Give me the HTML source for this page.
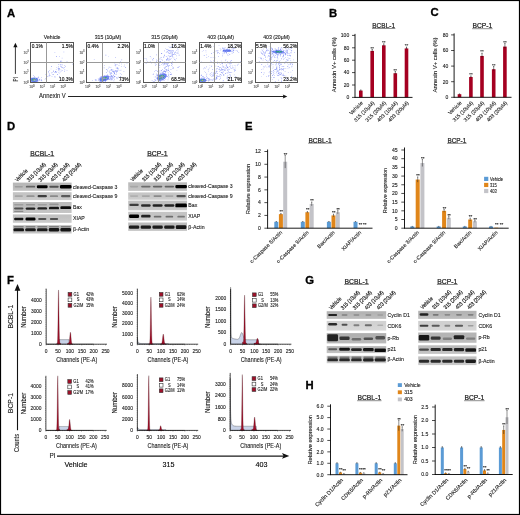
<!DOCTYPE html>
<html><head><meta charset="utf-8"><style>
html,body{margin:0;padding:0;background:#fff;}
svg{display:block;will-change:transform;}
text{font-family:"Liberation Sans", sans-serif;}
</style></head><body>
<svg width="520" height="515" viewBox="0 0 520 515"><defs><filter id="bl" x="-50%" y="-50%" width="200%" height="200%"><feGaussianBlur stdDeviation="0.65"/></filter></defs>
<rect x="0.5" y="0.5" width="519" height="514" fill="none" stroke="#000" stroke-width="1.2"/>
<text x="6.9" y="16.5" font-size="11.3" text-anchor="start" font-weight="bold" fill="#000" stroke="#000" stroke-width="0.3">A</text>
<text x="329.1" y="16.5" font-size="11.3" text-anchor="start" font-weight="bold" fill="#000" stroke="#000" stroke-width="0.3">B</text>
<text x="430.5" y="16.4" font-size="11.3" text-anchor="start" font-weight="bold" fill="#000" stroke="#000" stroke-width="0.3">C</text>
<text x="7.0" y="130.1" font-size="11.3" text-anchor="start" font-weight="bold" fill="#000" stroke="#000" stroke-width="0.3">D</text>
<text x="245.0" y="130.1" font-size="11.3" text-anchor="start" font-weight="bold" fill="#000" stroke="#000" stroke-width="0.3">E</text>
<text x="7.0" y="283.6" font-size="11.3" text-anchor="start" font-weight="bold" fill="#000" stroke="#000" stroke-width="0.3">F</text>
<text x="305.3" y="283.6" font-size="11.3" text-anchor="start" font-weight="bold" fill="#000" stroke="#000" stroke-width="0.3">G</text>
<text x="305.6" y="388.8" font-size="11.3" text-anchor="start" font-weight="bold" fill="#000" stroke="#000" stroke-width="0.3">H</text>
<text x="52.15" y="38.9" font-size="5.2" text-anchor="middle" font-weight="normal" fill="#222" stroke="#222" stroke-width="0.12">Vehicle</text>
<text x="0" y="0" font-size="4.0" text-anchor="start" font-weight="normal" fill="#555" transform="translate(23.6,84.0) scale(0.85,1)" stroke="#555" stroke-width="0.12">10</text>
<text x="27.3" y="82.5" font-size="2.6" text-anchor="start" font-weight="normal" fill="#555" stroke="#555" stroke-width="0.12">0</text>
<text x="0" y="0" font-size="4.0" text-anchor="start" font-weight="normal" fill="#555" transform="translate(23.6,73.8) scale(0.85,1)" stroke="#555" stroke-width="0.12">10</text>
<text x="27.3" y="72.3" font-size="2.6" text-anchor="start" font-weight="normal" fill="#555" stroke="#555" stroke-width="0.12">1</text>
<text x="0" y="0" font-size="4.0" text-anchor="start" font-weight="normal" fill="#555" transform="translate(23.6,64.1) scale(0.85,1)" stroke="#555" stroke-width="0.12">10</text>
<text x="27.3" y="62.599999999999994" font-size="2.6" text-anchor="start" font-weight="normal" fill="#555" stroke="#555" stroke-width="0.12">2</text>
<text x="0" y="0" font-size="4.0" text-anchor="start" font-weight="normal" fill="#555" transform="translate(23.6,53.9) scale(0.85,1)" stroke="#555" stroke-width="0.12">10</text>
<text x="27.3" y="52.4" font-size="2.6" text-anchor="start" font-weight="normal" fill="#555" stroke="#555" stroke-width="0.12">3</text>
<text x="0" y="0" font-size="4.0" text-anchor="start" font-weight="normal" fill="#555" transform="translate(29.3,88.3) scale(0.85,1)" stroke="#555" stroke-width="0.12">10</text>
<text x="33.0" y="86.8" font-size="2.6" text-anchor="start" font-weight="normal" fill="#555" stroke="#555" stroke-width="0.12">0</text>
<text x="0" y="0" font-size="4.0" text-anchor="start" font-weight="normal" fill="#555" transform="translate(39.699999999999996,88.3) scale(0.85,1)" stroke="#555" stroke-width="0.12">10</text>
<text x="43.4" y="86.8" font-size="2.6" text-anchor="start" font-weight="normal" fill="#555" stroke="#555" stroke-width="0.12">1</text>
<text x="0" y="0" font-size="4.0" text-anchor="start" font-weight="normal" fill="#555" transform="translate(50.099999999999994,88.3) scale(0.85,1)" stroke="#555" stroke-width="0.12">10</text>
<text x="53.8" y="86.8" font-size="2.6" text-anchor="start" font-weight="normal" fill="#555" stroke="#555" stroke-width="0.12">2</text>
<text x="0" y="0" font-size="4.0" text-anchor="start" font-weight="normal" fill="#555" transform="translate(60.5,88.3) scale(0.85,1)" stroke="#555" stroke-width="0.12">10</text>
<text x="64.2" y="86.8" font-size="2.6" text-anchor="start" font-weight="normal" fill="#555" stroke="#555" stroke-width="0.12">3</text>
<g transform="translate(34.3,79.9) rotate(0)"><ellipse rx="3.91" ry="2.30" fill="#4a62ee" opacity="0.85"/><ellipse rx="2.55" ry="1.40" fill="#38b070"/><ellipse rx="1.19" ry="0.70" fill="#d8c840"/></g>
<path d="M40.8 80.3h.6v.6h-.6zM39.1 80.2h.6v.6h-.6zM32.8 78.0h.6v.6h-.6zM32.8 78.8h.6v.6h-.6zM36.5 79.7h.6v.6h-.6zM34.0 80.4h.6v.6h-.6zM35.2 78.3h.6v.6h-.6zM37.5 80.9h.6v.6h-.6zM31.1 79.9h.6v.6h-.6zM38.8 79.7h.6v.6h-.6zM32.8 78.4h.6v.6h-.6zM35.7 78.7h.6v.6h-.6zM41.1 77.0h.6v.6h-.6zM36.5 80.6h.6v.6h-.6zM36.5 79.7h.6v.6h-.6zM35.6 79.5h.6v.6h-.6zM34.6 79.1h.6v.6h-.6zM32.5 81.3h.6v.6h-.6zM36.0 78.2h.6v.6h-.6zM31.5 77.8h.6v.6h-.6z" fill="#7383f5"/>
<path d="M35.8 80.1h.6v.6h-.6zM36.7 79.8h.6v.6h-.6zM41.2 80.4h.6v.6h-.6zM31.8 79.5h.6v.6h-.6zM34.4 81.2h.6v.6h-.6zM37.8 80.6h.6v.6h-.6zM32.2 78.4h.6v.6h-.6zM36.7 79.8h.6v.6h-.6zM41.1 79.4h.6v.6h-.6zM34.2 76.4h.6v.6h-.6zM33.7 79.5h.6v.6h-.6zM38.0 76.8h.6v.6h-.6zM36.4 78.1h.6v.6h-.6zM32.8 80.6h.6v.6h-.6zM34.2 78.9h.6v.6h-.6zM39.4 78.9h.6v.6h-.6zM38.9 79.4h.6v.6h-.6zM38.5 77.7h.6v.6h-.6zM36.2 78.6h.6v.6h-.6z" fill="#5565ee"/>
<path d="M34.7 80.3h.6v.6h-.6zM34.8 79.9h.6v.6h-.6zM32.2 80.4h.6v.6h-.6zM37.2 81.3h.6v.6h-.6zM36.0 80.1h.6v.6h-.6zM34.8 78.4h.6v.6h-.6zM36.7 79.4h.6v.6h-.6zM35.2 78.2h.6v.6h-.6zM33.1 75.3h.6v.6h-.6zM37.0 79.9h.6v.6h-.6zM35.9 81.2h.6v.6h-.6zM33.0 80.2h.6v.6h-.6zM34.9 80.2h.6v.6h-.6zM39.7 78.8h.6v.6h-.6zM41.6 80.6h.6v.6h-.6zM34.2 79.8h.6v.6h-.6zM34.9 80.3h.6v.6h-.6zM34.2 80.5h.6v.6h-.6zM35.8 79.8h.6v.6h-.6zM35.6 78.2h.6v.6h-.6zM34.2 80.3h.6v.6h-.6zM37.4 76.9h.6v.6h-.6z" fill="#9aa6f7"/>
<path d="M55.6 71.5h.6v.6h-.6zM58.2 66.6h.6v.6h-.6zM62.0 67.2h.6v.6h-.6zM56.5 67.2h.6v.6h-.6zM48.7 75.8h.6v.6h-.6zM46.9 76.1h.6v.6h-.6zM55.9 69.0h.6v.6h-.6zM60.7 71.5h.6v.6h-.6zM64.5 69.6h.6v.6h-.6zM45.4 78.0h.6v.6h-.6zM45.6 74.1h.6v.6h-.6zM62.9 67.9h.6v.6h-.6zM48.4 71.1h.6v.6h-.6zM48.9 73.6h.6v.6h-.6zM58.0 69.1h.6v.6h-.6zM55.1 71.3h.6v.6h-.6zM67.7 62.5h.6v.6h-.6zM58.2 68.4h.6v.6h-.6zM55.5 72.3h.6v.6h-.6zM51.5 72.6h.6v.6h-.6zM66.7 69.9h.6v.6h-.6zM54.7 77.5h.6v.6h-.6zM48.1 72.5h.6v.6h-.6zM54.5 76.4h.6v.6h-.6zM54.4 72.0h.6v.6h-.6zM49.3 70.0h.6v.6h-.6z" fill="#7383f5"/>
<path d="M51.2 66.3h.6v.6h-.6zM60.0 64.6h.6v.6h-.6zM61.9 69.9h.6v.6h-.6zM61.5 60.9h.6v.6h-.6zM64.4 67.5h.6v.6h-.6zM65.2 65.9h.6v.6h-.6zM57.0 74.1h.6v.6h-.6zM61.2 66.9h.6v.6h-.6zM53.4 70.8h.6v.6h-.6zM49.4 74.8h.6v.6h-.6zM66.7 61.0h.6v.6h-.6zM64.5 65.2h.6v.6h-.6zM64.2 71.5h.6v.6h-.6zM59.3 76.1h.6v.6h-.6zM58.3 68.2h.6v.6h-.6zM62.6 67.5h.6v.6h-.6zM52.9 74.1h.6v.6h-.6zM55.4 71.2h.6v.6h-.6zM59.3 69.0h.6v.6h-.6zM56.1 72.2h.6v.6h-.6zM61.8 64.6h.6v.6h-.6zM53.2 70.8h.6v.6h-.6zM60.8 66.1h.6v.6h-.6zM62.7 67.5h.6v.6h-.6z" fill="#5565ee"/>
<path d="M58.9 73.2h.6v.6h-.6zM60.2 66.0h.6v.6h-.6zM51.7 76.1h.6v.6h-.6zM60.8 70.4h.6v.6h-.6zM57.7 68.4h.6v.6h-.6zM72.4 63.8h.6v.6h-.6zM60.6 68.9h.6v.6h-.6zM50.7 68.7h.6v.6h-.6zM44.7 79.0h.6v.6h-.6zM58.8 70.6h.6v.6h-.6zM59.7 71.9h.6v.6h-.6zM58.1 70.5h.6v.6h-.6zM54.8 76.2h.6v.6h-.6zM48.8 75.5h.6v.6h-.6zM52.0 72.5h.6v.6h-.6zM52.4 74.0h.6v.6h-.6zM56.6 71.5h.6v.6h-.6zM59.2 68.1h.6v.6h-.6zM58.3 72.0h.6v.6h-.6zM50.3 75.4h.6v.6h-.6z" fill="#9aa6f7"/>
<path d="M60.7 60.4h.6v.6h-.6zM54.6 52.2h.6v.6h-.6zM58.5 64.3h.6v.6h-.6z" fill="#7383f5"/>
<path d="M60.2 61.3h.6v.6h-.6zM58.9 68.2h.6v.6h-.6zM56.2 56.3h.6v.6h-.6zM63.6 51.7h.6v.6h-.6z" fill="#5565ee"/>
<path d="M59.0 56.3h.6v.6h-.6zM61.8 57.8h.6v.6h-.6zM60.7 64.0h.6v.6h-.6z" fill="#9aa6f7"/>
<rect x="30.5" y="42.5" width="43.0" height="40" fill="none" stroke="#555" stroke-width="1"/>
<line x1="46.5" y1="42.5" x2="46.5" y2="82.5" stroke="#999" stroke-width="1.0"/>
<line x1="30.5" y1="62.5" x2="73.5" y2="62.5" stroke="#999" stroke-width="1.0"/>
<text x="31.7" y="47.8" font-size="4.9" text-anchor="start" font-weight="normal" fill="#000" stroke="#000" stroke-width="0.12">0.1%</text>
<text x="72.89999999999999" y="47.8" font-size="4.9" text-anchor="end" font-weight="normal" fill="#000" stroke="#000" stroke-width="0.12">1.5%</text>
<text x="72.89999999999999" y="80.6" font-size="4.9" text-anchor="end" font-weight="normal" fill="#000" stroke="#000" stroke-width="0.12">10.3%</text>
<text x="107.94999999999999" y="38.9" font-size="5.2" text-anchor="middle" font-weight="normal" fill="#222" stroke="#222" stroke-width="0.12">315 (10μM)</text>
<text x="0" y="0" font-size="4.0" text-anchor="start" font-weight="normal" fill="#555" transform="translate(79.39999999999999,84.0) scale(0.85,1)" stroke="#555" stroke-width="0.12">10</text>
<text x="83.1" y="82.5" font-size="2.6" text-anchor="start" font-weight="normal" fill="#555" stroke="#555" stroke-width="0.12">0</text>
<text x="0" y="0" font-size="4.0" text-anchor="start" font-weight="normal" fill="#555" transform="translate(79.39999999999999,73.8) scale(0.85,1)" stroke="#555" stroke-width="0.12">10</text>
<text x="83.1" y="72.3" font-size="2.6" text-anchor="start" font-weight="normal" fill="#555" stroke="#555" stroke-width="0.12">1</text>
<text x="0" y="0" font-size="4.0" text-anchor="start" font-weight="normal" fill="#555" transform="translate(79.39999999999999,64.1) scale(0.85,1)" stroke="#555" stroke-width="0.12">10</text>
<text x="83.1" y="62.599999999999994" font-size="2.6" text-anchor="start" font-weight="normal" fill="#555" stroke="#555" stroke-width="0.12">2</text>
<text x="0" y="0" font-size="4.0" text-anchor="start" font-weight="normal" fill="#555" transform="translate(79.39999999999999,53.9) scale(0.85,1)" stroke="#555" stroke-width="0.12">10</text>
<text x="83.1" y="52.4" font-size="2.6" text-anchor="start" font-weight="normal" fill="#555" stroke="#555" stroke-width="0.12">3</text>
<text x="0" y="0" font-size="4.0" text-anchor="start" font-weight="normal" fill="#555" transform="translate(85.1,88.3) scale(0.85,1)" stroke="#555" stroke-width="0.12">10</text>
<text x="88.8" y="86.8" font-size="2.6" text-anchor="start" font-weight="normal" fill="#555" stroke="#555" stroke-width="0.12">0</text>
<text x="0" y="0" font-size="4.0" text-anchor="start" font-weight="normal" fill="#555" transform="translate(95.5,88.3) scale(0.85,1)" stroke="#555" stroke-width="0.12">10</text>
<text x="99.2" y="86.8" font-size="2.6" text-anchor="start" font-weight="normal" fill="#555" stroke="#555" stroke-width="0.12">1</text>
<text x="0" y="0" font-size="4.0" text-anchor="start" font-weight="normal" fill="#555" transform="translate(105.89999999999999,88.3) scale(0.85,1)" stroke="#555" stroke-width="0.12">10</text>
<text x="109.6" y="86.8" font-size="2.6" text-anchor="start" font-weight="normal" fill="#555" stroke="#555" stroke-width="0.12">2</text>
<text x="0" y="0" font-size="4.0" text-anchor="start" font-weight="normal" fill="#555" transform="translate(116.3,88.3) scale(0.85,1)" stroke="#555" stroke-width="0.12">10</text>
<text x="120.0" y="86.8" font-size="2.6" text-anchor="start" font-weight="normal" fill="#555" stroke="#555" stroke-width="0.12">3</text>
<g transform="translate(104.3,78.7) rotate(-20)"><ellipse rx="5.17" ry="2.53" fill="#4a62ee" opacity="0.85"/><ellipse rx="3.38" ry="1.54" fill="#38b070"/><ellipse rx="1.57" ry="0.77" fill="#d8c840"/></g>
<path d="M102.8 80.2h.6v.6h-.6zM121.3 73.9h.6v.6h-.6zM102.5 81.1h.6v.6h-.6zM101.8 77.9h.6v.6h-.6zM113.6 78.2h.6v.6h-.6zM102.9 79.2h.6v.6h-.6zM117.3 77.8h.6v.6h-.6zM104.4 75.9h.6v.6h-.6zM100.5 76.6h.6v.6h-.6zM116.0 73.8h.6v.6h-.6zM106.8 76.7h.6v.6h-.6zM108.5 76.6h.6v.6h-.6zM97.9 78.2h.6v.6h-.6zM110.2 76.9h.6v.6h-.6zM103.0 78.9h.6v.6h-.6zM107.3 76.5h.6v.6h-.6zM106.8 76.5h.6v.6h-.6zM105.7 76.1h.6v.6h-.6zM95.2 79.8h.6v.6h-.6zM110.9 76.8h.6v.6h-.6zM100.0 79.1h.6v.6h-.6zM102.9 79.6h.6v.6h-.6zM105.5 79.7h.6v.6h-.6zM107.2 74.0h.6v.6h-.6zM111.4 73.4h.6v.6h-.6zM111.1 76.3h.6v.6h-.6zM104.3 79.5h.6v.6h-.6zM113.6 80.6h.6v.6h-.6zM111.6 73.2h.6v.6h-.6zM102.7 78.7h.6v.6h-.6zM101.2 77.9h.6v.6h-.6zM103.4 77.8h.6v.6h-.6zM103.4 80.5h.6v.6h-.6zM100.0 79.8h.6v.6h-.6zM110.8 75.0h.6v.6h-.6zM108.1 76.9h.6v.6h-.6zM103.8 76.3h.6v.6h-.6zM100.3 79.5h.6v.6h-.6zM107.9 79.2h.6v.6h-.6zM103.1 79.7h.6v.6h-.6zM109.2 76.5h.6v.6h-.6zM109.8 78.1h.6v.6h-.6zM107.1 75.9h.6v.6h-.6zM104.5 77.9h.6v.6h-.6zM108.0 78.1h.6v.6h-.6zM102.3 80.5h.6v.6h-.6zM106.4 77.7h.6v.6h-.6zM113.7 74.2h.6v.6h-.6z" fill="#7383f5"/>
<path d="M102.0 76.3h.6v.6h-.6zM112.7 76.7h.6v.6h-.6zM104.2 78.7h.6v.6h-.6zM103.6 79.2h.6v.6h-.6zM105.1 79.6h.6v.6h-.6zM100.2 80.7h.6v.6h-.6zM102.5 79.7h.6v.6h-.6zM99.9 79.3h.6v.6h-.6zM105.3 81.1h.6v.6h-.6zM98.4 80.0h.6v.6h-.6zM108.9 79.1h.6v.6h-.6zM101.1 76.5h.6v.6h-.6zM103.0 77.2h.6v.6h-.6zM105.3 78.1h.6v.6h-.6zM110.6 78.0h.6v.6h-.6zM103.8 79.6h.6v.6h-.6zM112.9 75.4h.6v.6h-.6zM103.2 79.8h.6v.6h-.6zM102.1 79.8h.6v.6h-.6zM114.3 76.0h.6v.6h-.6zM114.1 76.3h.6v.6h-.6zM116.4 77.6h.6v.6h-.6zM104.4 75.6h.6v.6h-.6zM100.8 79.0h.6v.6h-.6zM103.7 75.8h.6v.6h-.6zM106.5 79.1h.6v.6h-.6zM98.0 79.4h.6v.6h-.6zM104.7 78.8h.6v.6h-.6zM96.5 80.5h.6v.6h-.6zM103.7 80.1h.6v.6h-.6zM100.4 77.8h.6v.6h-.6zM108.7 78.9h.6v.6h-.6zM109.7 73.7h.6v.6h-.6zM99.1 78.0h.6v.6h-.6zM111.8 76.7h.6v.6h-.6zM103.9 79.0h.6v.6h-.6zM101.1 76.3h.6v.6h-.6zM102.7 77.7h.6v.6h-.6zM104.8 79.8h.6v.6h-.6zM105.9 79.4h.6v.6h-.6zM112.3 76.9h.6v.6h-.6zM106.3 78.2h.6v.6h-.6zM100.1 77.6h.6v.6h-.6zM113.0 76.9h.6v.6h-.6zM113.5 71.3h.6v.6h-.6zM104.5 78.6h.6v.6h-.6zM94.9 79.6h.6v.6h-.6zM107.7 77.0h.6v.6h-.6zM108.7 76.3h.6v.6h-.6zM111.7 78.6h.6v.6h-.6zM110.0 76.5h.6v.6h-.6z" fill="#5565ee"/>
<path d="M92.2 80.3h.6v.6h-.6zM102.5 79.2h.6v.6h-.6zM110.9 73.5h.6v.6h-.6zM112.3 76.0h.6v.6h-.6zM119.9 73.3h.6v.6h-.6zM99.3 81.3h.6v.6h-.6zM99.1 77.2h.6v.6h-.6zM110.0 79.7h.6v.6h-.6zM111.2 79.7h.6v.6h-.6zM110.9 75.1h.6v.6h-.6zM102.1 76.8h.6v.6h-.6zM108.0 75.2h.6v.6h-.6zM105.8 78.4h.6v.6h-.6zM96.4 79.5h.6v.6h-.6zM115.0 75.9h.6v.6h-.6zM103.1 78.2h.6v.6h-.6zM99.9 78.5h.6v.6h-.6zM104.1 76.9h.6v.6h-.6zM101.4 79.4h.6v.6h-.6zM106.6 78.3h.6v.6h-.6zM111.8 79.4h.6v.6h-.6zM114.3 79.1h.6v.6h-.6zM100.1 81.0h.6v.6h-.6zM104.3 80.1h.6v.6h-.6zM107.5 75.1h.6v.6h-.6zM109.9 76.3h.6v.6h-.6zM101.5 80.6h.6v.6h-.6zM101.5 77.8h.6v.6h-.6zM102.8 78.0h.6v.6h-.6zM109.3 78.9h.6v.6h-.6zM113.3 75.1h.6v.6h-.6zM106.0 79.5h.6v.6h-.6zM110.4 77.4h.6v.6h-.6zM110.8 78.6h.6v.6h-.6zM106.0 77.7h.6v.6h-.6zM103.2 77.5h.6v.6h-.6zM103.8 76.4h.6v.6h-.6zM113.9 77.0h.6v.6h-.6zM102.9 76.2h.6v.6h-.6zM107.7 77.1h.6v.6h-.6z" fill="#9aa6f7"/>
<path d="M117.8 69.6h.6v.6h-.6zM114.3 71.8h.6v.6h-.6zM106.8 75.4h.6v.6h-.6zM126.6 62.4h.6v.6h-.6zM114.1 72.1h.6v.6h-.6zM117.9 68.0h.6v.6h-.6zM114.4 73.1h.6v.6h-.6zM111.7 79.6h.6v.6h-.6zM111.5 75.3h.6v.6h-.6zM110.0 72.9h.6v.6h-.6zM103.8 67.6h.6v.6h-.6zM126.7 63.5h.6v.6h-.6zM121.5 59.6h.6v.6h-.6zM117.4 66.9h.6v.6h-.6zM115.7 64.5h.6v.6h-.6zM123.8 66.4h.6v.6h-.6zM112.2 71.3h.6v.6h-.6zM116.8 64.0h.6v.6h-.6zM112.6 70.3h.6v.6h-.6zM111.2 69.1h.6v.6h-.6zM114.5 70.8h.6v.6h-.6zM109.3 71.8h.6v.6h-.6zM115.6 70.6h.6v.6h-.6zM106.0 69.3h.6v.6h-.6zM116.2 71.2h.6v.6h-.6zM119.7 70.0h.6v.6h-.6zM110.7 79.1h.6v.6h-.6zM121.1 65.9h.6v.6h-.6zM107.6 71.2h.6v.6h-.6zM121.2 63.7h.6v.6h-.6zM111.2 69.8h.6v.6h-.6zM110.5 72.6h.6v.6h-.6zM109.2 70.7h.6v.6h-.6zM115.5 65.6h.6v.6h-.6zM117.4 68.1h.6v.6h-.6zM124.0 64.7h.6v.6h-.6zM111.7 78.3h.6v.6h-.6zM110.6 67.4h.6v.6h-.6z" fill="#7383f5"/>
<path d="M116.9 71.1h.6v.6h-.6zM114.9 63.9h.6v.6h-.6zM112.2 76.2h.6v.6h-.6zM114.2 73.3h.6v.6h-.6zM118.7 65.0h.6v.6h-.6zM113.3 71.9h.6v.6h-.6zM116.9 70.9h.6v.6h-.6zM118.7 61.9h.6v.6h-.6zM112.6 69.4h.6v.6h-.6zM115.6 70.1h.6v.6h-.6zM110.5 74.4h.6v.6h-.6zM111.3 76.5h.6v.6h-.6zM113.3 71.4h.6v.6h-.6zM110.6 69.8h.6v.6h-.6zM104.4 79.3h.6v.6h-.6zM110.9 72.4h.6v.6h-.6zM104.7 80.0h.6v.6h-.6zM116.0 71.8h.6v.6h-.6zM117.5 67.8h.6v.6h-.6zM103.1 79.0h.6v.6h-.6zM106.4 77.4h.6v.6h-.6zM106.4 76.7h.6v.6h-.6zM120.0 61.6h.6v.6h-.6zM116.8 70.2h.6v.6h-.6zM123.6 71.0h.6v.6h-.6zM120.2 76.5h.6v.6h-.6z" fill="#5565ee"/>
<path d="M104.1 78.0h.6v.6h-.6zM107.1 77.2h.6v.6h-.6zM115.0 74.5h.6v.6h-.6zM120.3 75.9h.6v.6h-.6zM115.1 71.3h.6v.6h-.6zM120.7 69.8h.6v.6h-.6zM102.0 74.1h.6v.6h-.6zM106.8 69.5h.6v.6h-.6zM117.5 70.5h.6v.6h-.6zM115.9 67.4h.6v.6h-.6zM119.2 63.2h.6v.6h-.6zM115.9 68.1h.6v.6h-.6zM107.1 79.5h.6v.6h-.6zM112.6 71.4h.6v.6h-.6zM114.5 62.8h.6v.6h-.6z" fill="#9aa6f7"/>
<path d="M107.1 70.2h.6v.6h-.6zM97.2 47.1h.6v.6h-.6zM93.9 58.9h.6v.6h-.6zM104.3 65.4h.6v.6h-.6z" fill="#7383f5"/>
<path d="M114.8 65.5h.6v.6h-.6zM117.9 76.8h.6v.6h-.6zM115.4 57.5h.6v.6h-.6zM108.8 66.8h.6v.6h-.6zM125.2 67.3h.6v.6h-.6zM106.1 72.4h.6v.6h-.6zM105.6 54.8h.6v.6h-.6zM119.4 61.9h.6v.6h-.6z" fill="#5565ee"/>
<path d="M108.3 68.5h.6v.6h-.6zM108.3 56.4h.6v.6h-.6z" fill="#9aa6f7"/>
<rect x="86.5" y="42.5" width="43.0" height="40" fill="none" stroke="#555" stroke-width="1"/>
<line x1="102.5" y1="42.5" x2="102.5" y2="82.5" stroke="#999" stroke-width="1.0"/>
<line x1="86.5" y1="62.5" x2="129.5" y2="62.5" stroke="#999" stroke-width="1.0"/>
<text x="87.5" y="47.8" font-size="4.9" text-anchor="start" font-weight="normal" fill="#000" stroke="#000" stroke-width="0.12">0.4%</text>
<text x="128.7" y="47.8" font-size="4.9" text-anchor="end" font-weight="normal" fill="#000" stroke="#000" stroke-width="0.12">2.2%</text>
<text x="128.7" y="80.6" font-size="4.9" text-anchor="end" font-weight="normal" fill="#000" stroke="#000" stroke-width="0.12">73%</text>
<text x="164.45000000000002" y="38.9" font-size="5.2" text-anchor="middle" font-weight="normal" fill="#222" stroke="#222" stroke-width="0.12">315 (20μM)</text>
<text x="0" y="0" font-size="4.0" text-anchor="start" font-weight="normal" fill="#555" transform="translate(135.9,84.0) scale(0.85,1)" stroke="#555" stroke-width="0.12">10</text>
<text x="139.60000000000002" y="82.5" font-size="2.6" text-anchor="start" font-weight="normal" fill="#555" stroke="#555" stroke-width="0.12">0</text>
<text x="0" y="0" font-size="4.0" text-anchor="start" font-weight="normal" fill="#555" transform="translate(135.9,73.8) scale(0.85,1)" stroke="#555" stroke-width="0.12">10</text>
<text x="139.60000000000002" y="72.3" font-size="2.6" text-anchor="start" font-weight="normal" fill="#555" stroke="#555" stroke-width="0.12">1</text>
<text x="0" y="0" font-size="4.0" text-anchor="start" font-weight="normal" fill="#555" transform="translate(135.9,64.1) scale(0.85,1)" stroke="#555" stroke-width="0.12">10</text>
<text x="139.60000000000002" y="62.599999999999994" font-size="2.6" text-anchor="start" font-weight="normal" fill="#555" stroke="#555" stroke-width="0.12">2</text>
<text x="0" y="0" font-size="4.0" text-anchor="start" font-weight="normal" fill="#555" transform="translate(135.9,53.9) scale(0.85,1)" stroke="#555" stroke-width="0.12">10</text>
<text x="139.60000000000002" y="52.4" font-size="2.6" text-anchor="start" font-weight="normal" fill="#555" stroke="#555" stroke-width="0.12">3</text>
<text x="0" y="0" font-size="4.0" text-anchor="start" font-weight="normal" fill="#555" transform="translate(141.60000000000002,88.3) scale(0.85,1)" stroke="#555" stroke-width="0.12">10</text>
<text x="145.3" y="86.8" font-size="2.6" text-anchor="start" font-weight="normal" fill="#555" stroke="#555" stroke-width="0.12">0</text>
<text x="0" y="0" font-size="4.0" text-anchor="start" font-weight="normal" fill="#555" transform="translate(152.00000000000003,88.3) scale(0.85,1)" stroke="#555" stroke-width="0.12">10</text>
<text x="155.70000000000002" y="86.8" font-size="2.6" text-anchor="start" font-weight="normal" fill="#555" stroke="#555" stroke-width="0.12">1</text>
<text x="0" y="0" font-size="4.0" text-anchor="start" font-weight="normal" fill="#555" transform="translate(162.40000000000003,88.3) scale(0.85,1)" stroke="#555" stroke-width="0.12">10</text>
<text x="166.10000000000002" y="86.8" font-size="2.6" text-anchor="start" font-weight="normal" fill="#555" stroke="#555" stroke-width="0.12">2</text>
<text x="0" y="0" font-size="4.0" text-anchor="start" font-weight="normal" fill="#555" transform="translate(172.8,88.3) scale(0.85,1)" stroke="#555" stroke-width="0.12">10</text>
<text x="176.5" y="86.8" font-size="2.6" text-anchor="start" font-weight="normal" fill="#555" stroke="#555" stroke-width="0.12">3</text>
<g transform="translate(161.8,77.0) rotate(-30)"><ellipse rx="5.17" ry="3.22" fill="#4a62ee" opacity="0.85"/><ellipse rx="3.38" ry="1.96" fill="#38b070"/><ellipse rx="1.57" ry="0.98" fill="#d8c840"/></g>
<path d="M165.5 79.5h.6v.6h-.6zM163.1 75.9h.6v.6h-.6zM157.7 80.0h.6v.6h-.6zM163.2 74.2h.6v.6h-.6zM165.2 73.9h.6v.6h-.6zM160.1 77.7h.6v.6h-.6zM166.7 66.4h.6v.6h-.6zM169.3 70.9h.6v.6h-.6zM161.9 76.5h.6v.6h-.6zM156.8 78.3h.6v.6h-.6zM167.7 79.6h.6v.6h-.6zM168.1 73.8h.6v.6h-.6zM163.4 70.8h.6v.6h-.6zM168.2 75.7h.6v.6h-.6zM162.2 77.8h.6v.6h-.6zM165.9 74.1h.6v.6h-.6zM166.9 76.0h.6v.6h-.6zM165.9 70.3h.6v.6h-.6zM157.9 77.2h.6v.6h-.6zM159.0 77.1h.6v.6h-.6zM164.1 75.6h.6v.6h-.6zM160.2 78.7h.6v.6h-.6zM164.0 74.9h.6v.6h-.6zM161.3 78.2h.6v.6h-.6zM159.6 80.6h.6v.6h-.6zM165.9 70.9h.6v.6h-.6zM161.9 76.6h.6v.6h-.6zM166.2 75.4h.6v.6h-.6zM152.9 81.1h.6v.6h-.6zM162.7 75.6h.6v.6h-.6zM157.5 74.1h.6v.6h-.6zM158.1 76.5h.6v.6h-.6zM165.8 76.5h.6v.6h-.6zM161.4 78.2h.6v.6h-.6zM165.2 71.9h.6v.6h-.6zM158.9 77.4h.6v.6h-.6zM158.9 78.4h.6v.6h-.6zM156.8 74.9h.6v.6h-.6zM161.2 76.4h.6v.6h-.6zM161.8 78.0h.6v.6h-.6zM160.6 75.7h.6v.6h-.6zM161.5 79.0h.6v.6h-.6z" fill="#7383f5"/>
<path d="M160.1 81.0h.6v.6h-.6zM160.3 78.4h.6v.6h-.6zM156.8 78.2h.6v.6h-.6zM167.8 69.6h.6v.6h-.6zM157.9 75.1h.6v.6h-.6zM157.3 75.1h.6v.6h-.6zM163.0 74.1h.6v.6h-.6zM158.0 80.7h.6v.6h-.6zM172.5 67.9h.6v.6h-.6zM162.7 77.9h.6v.6h-.6zM165.2 71.6h.6v.6h-.6zM171.2 73.8h.6v.6h-.6zM163.7 71.1h.6v.6h-.6zM169.9 74.3h.6v.6h-.6zM162.6 71.8h.6v.6h-.6zM163.2 74.8h.6v.6h-.6zM159.6 77.0h.6v.6h-.6zM158.7 80.6h.6v.6h-.6zM168.2 70.1h.6v.6h-.6zM159.0 75.5h.6v.6h-.6zM151.8 80.4h.6v.6h-.6zM154.4 81.2h.6v.6h-.6zM159.5 76.8h.6v.6h-.6zM163.9 77.5h.6v.6h-.6zM164.1 70.4h.6v.6h-.6zM161.0 77.0h.6v.6h-.6zM161.5 77.3h.6v.6h-.6zM162.9 77.5h.6v.6h-.6zM166.1 76.4h.6v.6h-.6zM160.2 72.9h.6v.6h-.6zM161.5 77.1h.6v.6h-.6zM163.8 74.7h.6v.6h-.6zM158.5 78.6h.6v.6h-.6zM154.7 79.6h.6v.6h-.6zM156.7 78.5h.6v.6h-.6zM163.7 80.3h.6v.6h-.6zM165.6 75.6h.6v.6h-.6zM163.6 76.1h.6v.6h-.6zM177.6 67.1h.6v.6h-.6zM164.4 71.0h.6v.6h-.6zM165.7 69.3h.6v.6h-.6zM168.5 77.6h.6v.6h-.6zM159.1 79.5h.6v.6h-.6zM160.0 80.8h.6v.6h-.6zM160.3 76.3h.6v.6h-.6zM164.2 77.6h.6v.6h-.6zM170.6 74.4h.6v.6h-.6zM162.4 74.5h.6v.6h-.6zM162.3 77.5h.6v.6h-.6zM163.8 73.9h.6v.6h-.6zM160.2 78.8h.6v.6h-.6zM162.3 77.5h.6v.6h-.6zM155.5 80.2h.6v.6h-.6zM159.1 78.2h.6v.6h-.6zM162.2 76.0h.6v.6h-.6zM160.2 80.7h.6v.6h-.6z" fill="#5565ee"/>
<path d="M152.6 73.9h.6v.6h-.6zM171.4 68.9h.6v.6h-.6zM164.2 77.0h.6v.6h-.6zM163.4 76.0h.6v.6h-.6zM158.9 76.7h.6v.6h-.6zM156.4 76.8h.6v.6h-.6zM163.9 77.2h.6v.6h-.6zM168.3 75.2h.6v.6h-.6zM160.2 76.0h.6v.6h-.6zM160.9 74.5h.6v.6h-.6zM158.5 73.7h.6v.6h-.6zM161.6 79.0h.6v.6h-.6zM163.6 78.6h.6v.6h-.6zM156.6 75.4h.6v.6h-.6zM164.5 75.6h.6v.6h-.6zM156.6 75.3h.6v.6h-.6zM154.6 79.0h.6v.6h-.6zM162.2 77.1h.6v.6h-.6zM168.9 75.9h.6v.6h-.6zM162.1 75.6h.6v.6h-.6zM162.5 73.3h.6v.6h-.6zM168.0 74.8h.6v.6h-.6zM168.4 72.5h.6v.6h-.6zM161.1 79.0h.6v.6h-.6zM162.1 78.2h.6v.6h-.6zM162.4 72.5h.6v.6h-.6zM160.1 80.5h.6v.6h-.6zM156.9 78.8h.6v.6h-.6zM162.4 79.8h.6v.6h-.6zM155.5 76.8h.6v.6h-.6zM157.0 75.0h.6v.6h-.6zM163.3 78.3h.6v.6h-.6zM165.0 71.0h.6v.6h-.6zM160.3 79.1h.6v.6h-.6zM164.8 75.0h.6v.6h-.6zM159.8 73.9h.6v.6h-.6zM157.8 76.5h.6v.6h-.6zM159.8 73.4h.6v.6h-.6zM158.6 79.1h.6v.6h-.6zM155.9 74.0h.6v.6h-.6zM158.8 72.0h.6v.6h-.6zM158.1 76.0h.6v.6h-.6zM156.4 73.6h.6v.6h-.6zM159.5 77.4h.6v.6h-.6zM160.9 72.6h.6v.6h-.6zM156.6 75.5h.6v.6h-.6zM161.5 78.9h.6v.6h-.6zM170.2 72.3h.6v.6h-.6zM162.6 73.9h.6v.6h-.6zM159.3 74.4h.6v.6h-.6zM163.2 72.9h.6v.6h-.6zM162.6 74.2h.6v.6h-.6zM155.0 76.2h.6v.6h-.6zM166.9 71.7h.6v.6h-.6zM163.6 73.9h.6v.6h-.6zM161.9 78.4h.6v.6h-.6zM155.5 80.3h.6v.6h-.6z" fill="#9aa6f7"/>
<path d="M166.1 61.9h.6v.6h-.6zM154.1 71.2h.6v.6h-.6zM168.2 67.8h.6v.6h-.6zM164.3 67.8h.6v.6h-.6zM170.7 56.3h.6v.6h-.6zM170.2 69.5h.6v.6h-.6zM159.5 62.3h.6v.6h-.6zM159.3 61.6h.6v.6h-.6zM167.0 59.6h.6v.6h-.6zM171.1 55.4h.6v.6h-.6zM167.4 63.6h.6v.6h-.6zM159.0 70.7h.6v.6h-.6zM159.5 66.9h.6v.6h-.6zM172.5 56.0h.6v.6h-.6zM167.6 65.4h.6v.6h-.6zM178.1 66.8h.6v.6h-.6zM176.3 58.0h.6v.6h-.6zM157.4 71.1h.6v.6h-.6zM172.8 51.3h.6v.6h-.6zM168.5 60.5h.6v.6h-.6zM163.2 73.7h.6v.6h-.6zM165.9 56.3h.6v.6h-.6zM162.8 72.1h.6v.6h-.6zM152.6 62.3h.6v.6h-.6zM166.4 66.3h.6v.6h-.6zM168.0 66.3h.6v.6h-.6zM168.5 55.0h.6v.6h-.6zM161.3 64.4h.6v.6h-.6zM162.8 64.7h.6v.6h-.6zM160.9 70.2h.6v.6h-.6zM164.7 62.0h.6v.6h-.6zM169.8 56.1h.6v.6h-.6zM165.8 64.1h.6v.6h-.6zM155.2 70.2h.6v.6h-.6zM172.4 52.7h.6v.6h-.6zM163.0 64.6h.6v.6h-.6zM176.2 50.5h.6v.6h-.6zM156.3 54.6h.6v.6h-.6zM171.0 63.2h.6v.6h-.6zM169.0 65.1h.6v.6h-.6zM166.0 59.1h.6v.6h-.6zM173.1 68.4h.6v.6h-.6zM171.0 65.1h.6v.6h-.6zM172.1 56.7h.6v.6h-.6zM164.9 67.6h.6v.6h-.6zM164.5 61.4h.6v.6h-.6zM163.6 63.2h.6v.6h-.6zM166.2 69.1h.6v.6h-.6zM179.3 66.2h.6v.6h-.6zM159.6 58.9h.6v.6h-.6zM156.2 64.4h.6v.6h-.6z" fill="#7383f5"/>
<path d="M161.1 53.0h.6v.6h-.6zM167.8 59.4h.6v.6h-.6zM160.5 76.4h.6v.6h-.6zM167.3 58.1h.6v.6h-.6zM169.1 56.7h.6v.6h-.6zM161.0 70.0h.6v.6h-.6zM160.8 57.1h.6v.6h-.6zM160.7 70.7h.6v.6h-.6zM165.0 63.0h.6v.6h-.6zM168.2 62.8h.6v.6h-.6zM174.3 53.6h.6v.6h-.6zM169.1 58.8h.6v.6h-.6zM162.5 63.2h.6v.6h-.6zM173.6 57.7h.6v.6h-.6zM164.4 63.1h.6v.6h-.6zM167.4 65.2h.6v.6h-.6zM164.7 71.2h.6v.6h-.6zM153.3 73.8h.6v.6h-.6zM163.6 56.6h.6v.6h-.6zM173.4 67.2h.6v.6h-.6zM170.2 59.5h.6v.6h-.6zM156.5 70.0h.6v.6h-.6zM170.8 53.0h.6v.6h-.6zM167.4 57.8h.6v.6h-.6zM166.7 62.9h.6v.6h-.6zM161.5 53.3h.6v.6h-.6zM159.5 65.1h.6v.6h-.6zM167.6 69.9h.6v.6h-.6zM172.3 54.4h.6v.6h-.6zM164.9 71.4h.6v.6h-.6zM167.1 76.0h.6v.6h-.6zM164.4 64.5h.6v.6h-.6zM178.8 54.8h.6v.6h-.6zM163.2 62.4h.6v.6h-.6zM173.3 44.6h.6v.6h-.6zM155.4 64.8h.6v.6h-.6zM166.1 60.4h.6v.6h-.6zM167.1 64.0h.6v.6h-.6zM175.2 54.2h.6v.6h-.6zM171.0 63.4h.6v.6h-.6zM162.3 68.9h.6v.6h-.6zM177.7 49.6h.6v.6h-.6zM162.2 60.4h.6v.6h-.6zM166.5 58.9h.6v.6h-.6zM174.5 59.3h.6v.6h-.6zM165.0 66.7h.6v.6h-.6zM171.9 63.8h.6v.6h-.6z" fill="#5565ee"/>
<path d="M174.4 62.0h.6v.6h-.6zM161.1 74.6h.6v.6h-.6zM160.0 60.9h.6v.6h-.6zM173.8 54.0h.6v.6h-.6zM172.2 66.6h.6v.6h-.6zM175.0 59.8h.6v.6h-.6zM167.7 55.7h.6v.6h-.6zM163.4 57.1h.6v.6h-.6zM166.1 63.3h.6v.6h-.6zM160.2 73.9h.6v.6h-.6zM167.8 62.0h.6v.6h-.6zM177.8 53.1h.6v.6h-.6zM172.1 61.5h.6v.6h-.6zM176.7 53.1h.6v.6h-.6zM164.4 68.2h.6v.6h-.6zM176.0 55.6h.6v.6h-.6zM160.3 72.7h.6v.6h-.6zM166.0 66.2h.6v.6h-.6zM176.6 69.9h.6v.6h-.6zM168.0 57.9h.6v.6h-.6zM170.8 58.3h.6v.6h-.6zM172.4 61.4h.6v.6h-.6zM168.1 65.3h.6v.6h-.6zM164.8 65.7h.6v.6h-.6zM162.3 61.9h.6v.6h-.6zM153.8 76.7h.6v.6h-.6zM158.9 63.7h.6v.6h-.6zM163.8 67.5h.6v.6h-.6zM168.8 60.6h.6v.6h-.6zM166.4 70.0h.6v.6h-.6zM161.3 62.2h.6v.6h-.6zM177.8 51.2h.6v.6h-.6z" fill="#9aa6f7"/>
<path d="M167.7 52.0h.6v.6h-.6zM169.2 53.5h.6v.6h-.6zM170.4 47.3h.6v.6h-.6zM169.2 47.0h.6v.6h-.6zM164.1 50.6h.6v.6h-.6zM172.8 53.9h.6v.6h-.6zM177.0 48.5h.6v.6h-.6zM169.8 50.3h.6v.6h-.6zM175.2 51.9h.6v.6h-.6zM177.6 52.0h.6v.6h-.6zM169.8 55.8h.6v.6h-.6zM167.6 49.1h.6v.6h-.6zM169.4 50.1h.6v.6h-.6zM169.6 50.5h.6v.6h-.6zM171.0 52.0h.6v.6h-.6zM167.7 50.7h.6v.6h-.6zM164.0 54.9h.6v.6h-.6zM166.5 49.3h.6v.6h-.6z" fill="#7383f5"/>
<path d="M169.7 52.9h.6v.6h-.6zM171.0 50.7h.6v.6h-.6zM175.2 51.7h.6v.6h-.6zM168.4 50.0h.6v.6h-.6zM167.0 50.9h.6v.6h-.6zM173.1 47.0h.6v.6h-.6zM172.4 52.6h.6v.6h-.6zM172.0 55.5h.6v.6h-.6zM173.2 53.9h.6v.6h-.6zM168.5 50.2h.6v.6h-.6zM165.9 51.9h.6v.6h-.6zM172.6 50.3h.6v.6h-.6zM164.1 54.8h.6v.6h-.6zM168.6 52.8h.6v.6h-.6zM172.0 46.0h.6v.6h-.6z" fill="#5565ee"/>
<path d="M168.3 52.0h.6v.6h-.6zM171.5 51.0h.6v.6h-.6zM166.6 51.0h.6v.6h-.6zM171.6 50.3h.6v.6h-.6zM172.2 55.6h.6v.6h-.6zM165.3 48.4h.6v.6h-.6zM170.9 54.5h.6v.6h-.6zM170.1 52.1h.6v.6h-.6zM174.3 52.1h.6v.6h-.6zM169.6 51.1h.6v.6h-.6zM170.9 46.3h.6v.6h-.6zM173.2 50.4h.6v.6h-.6zM176.6 51.9h.6v.6h-.6zM170.0 51.6h.6v.6h-.6zM172.2 53.8h.6v.6h-.6zM168.6 46.5h.6v.6h-.6zM170.4 50.5h.6v.6h-.6z" fill="#9aa6f7"/>
<path d="M156.7 60.3h.6v.6h-.6zM149.9 56.1h.6v.6h-.6zM156.4 61.1h.6v.6h-.6zM157.6 62.0h.6v.6h-.6zM152.6 59.8h.6v.6h-.6zM147.5 61.0h.6v.6h-.6z" fill="#7383f5"/>
<path d="M158.5 63.8h.6v.6h-.6zM153.4 58.3h.6v.6h-.6zM161.6 59.2h.6v.6h-.6zM160.4 61.1h.6v.6h-.6zM145.8 63.2h.6v.6h-.6zM146.5 59.7h.6v.6h-.6zM159.1 62.2h.6v.6h-.6zM151.0 62.7h.6v.6h-.6zM144.7 57.9h.6v.6h-.6z" fill="#5565ee"/>
<path d="M154.8 63.3h.6v.6h-.6zM158.7 61.5h.6v.6h-.6zM159.7 58.1h.6v.6h-.6zM146.0 58.4h.6v.6h-.6zM158.7 63.0h.6v.6h-.6zM156.2 59.5h.6v.6h-.6zM152.0 59.1h.6v.6h-.6zM150.8 57.7h.6v.6h-.6zM149.9 61.1h.6v.6h-.6zM154.9 62.3h.6v.6h-.6z" fill="#9aa6f7"/>
<rect x="143.5" y="42.5" width="42.0" height="40" fill="none" stroke="#555" stroke-width="1"/>
<line x1="158.5" y1="42.5" x2="158.5" y2="82.5" stroke="#999" stroke-width="1.0"/>
<line x1="143.5" y1="62.5" x2="185.5" y2="62.5" stroke="#999" stroke-width="1.0"/>
<text x="144.0" y="47.8" font-size="4.9" text-anchor="start" font-weight="normal" fill="#000" stroke="#000" stroke-width="0.12">1.0%</text>
<text x="185.20000000000002" y="47.8" font-size="4.9" text-anchor="end" font-weight="normal" fill="#000" stroke="#000" stroke-width="0.12">16.2%</text>
<text x="185.20000000000002" y="80.6" font-size="4.9" text-anchor="end" font-weight="normal" fill="#000" stroke="#000" stroke-width="0.12">68.5%</text>
<text x="220.65" y="38.9" font-size="5.2" text-anchor="middle" font-weight="normal" fill="#222" stroke="#222" stroke-width="0.12">403 (10μM)</text>
<text x="0" y="0" font-size="4.0" text-anchor="start" font-weight="normal" fill="#555" transform="translate(192.1,84.0) scale(0.85,1)" stroke="#555" stroke-width="0.12">10</text>
<text x="195.8" y="82.5" font-size="2.6" text-anchor="start" font-weight="normal" fill="#555" stroke="#555" stroke-width="0.12">0</text>
<text x="0" y="0" font-size="4.0" text-anchor="start" font-weight="normal" fill="#555" transform="translate(192.1,73.8) scale(0.85,1)" stroke="#555" stroke-width="0.12">10</text>
<text x="195.8" y="72.3" font-size="2.6" text-anchor="start" font-weight="normal" fill="#555" stroke="#555" stroke-width="0.12">1</text>
<text x="0" y="0" font-size="4.0" text-anchor="start" font-weight="normal" fill="#555" transform="translate(192.1,64.1) scale(0.85,1)" stroke="#555" stroke-width="0.12">10</text>
<text x="195.8" y="62.599999999999994" font-size="2.6" text-anchor="start" font-weight="normal" fill="#555" stroke="#555" stroke-width="0.12">2</text>
<text x="0" y="0" font-size="4.0" text-anchor="start" font-weight="normal" fill="#555" transform="translate(192.1,53.9) scale(0.85,1)" stroke="#555" stroke-width="0.12">10</text>
<text x="195.8" y="52.4" font-size="2.6" text-anchor="start" font-weight="normal" fill="#555" stroke="#555" stroke-width="0.12">3</text>
<text x="0" y="0" font-size="4.0" text-anchor="start" font-weight="normal" fill="#555" transform="translate(197.8,88.3) scale(0.85,1)" stroke="#555" stroke-width="0.12">10</text>
<text x="201.5" y="86.8" font-size="2.6" text-anchor="start" font-weight="normal" fill="#555" stroke="#555" stroke-width="0.12">0</text>
<text x="0" y="0" font-size="4.0" text-anchor="start" font-weight="normal" fill="#555" transform="translate(208.20000000000002,88.3) scale(0.85,1)" stroke="#555" stroke-width="0.12">10</text>
<text x="211.9" y="86.8" font-size="2.6" text-anchor="start" font-weight="normal" fill="#555" stroke="#555" stroke-width="0.12">1</text>
<text x="0" y="0" font-size="4.0" text-anchor="start" font-weight="normal" fill="#555" transform="translate(218.60000000000002,88.3) scale(0.85,1)" stroke="#555" stroke-width="0.12">10</text>
<text x="222.3" y="86.8" font-size="2.6" text-anchor="start" font-weight="normal" fill="#555" stroke="#555" stroke-width="0.12">2</text>
<text x="0" y="0" font-size="4.0" text-anchor="start" font-weight="normal" fill="#555" transform="translate(229.0,88.3) scale(0.85,1)" stroke="#555" stroke-width="0.12">10</text>
<text x="232.7" y="86.8" font-size="2.6" text-anchor="start" font-weight="normal" fill="#555" stroke="#555" stroke-width="0.12">3</text>
<g transform="translate(202.8,80.3) rotate(0)"><ellipse rx="3.68" ry="1.84" fill="#4a62ee" opacity="0.85"/><ellipse rx="2.40" ry="1.12" fill="#38b070"/><ellipse rx="1.12" ry="0.56" fill="#d8c840"/></g>
<path d="M208.7 79.6h.6v.6h-.6zM206.9 77.9h.6v.6h-.6zM210.3 75.2h.6v.6h-.6zM213.3 78.8h.6v.6h-.6zM202.8 77.3h.6v.6h-.6zM200.2 78.5h.6v.6h-.6zM208.2 78.1h.6v.6h-.6zM203.5 80.0h.6v.6h-.6zM208.8 78.0h.6v.6h-.6zM201.3 78.6h.6v.6h-.6zM204.0 79.5h.6v.6h-.6zM207.4 77.0h.6v.6h-.6z" fill="#7383f5"/>
<path d="M203.4 81.1h.6v.6h-.6zM205.8 80.1h.6v.6h-.6zM203.7 79.8h.6v.6h-.6zM200.9 75.3h.6v.6h-.6zM216.6 76.4h.6v.6h-.6zM203.8 78.0h.6v.6h-.6zM201.3 78.8h.6v.6h-.6zM211.6 79.6h.6v.6h-.6zM202.9 80.5h.6v.6h-.6zM208.0 79.7h.6v.6h-.6zM204.4 77.4h.6v.6h-.6zM209.5 79.0h.6v.6h-.6zM206.0 78.4h.6v.6h-.6zM203.9 80.1h.6v.6h-.6zM203.1 79.4h.6v.6h-.6zM204.2 79.1h.6v.6h-.6zM204.9 79.3h.6v.6h-.6zM203.7 78.3h.6v.6h-.6zM203.5 80.5h.6v.6h-.6z" fill="#5565ee"/>
<path d="M203.1 81.1h.6v.6h-.6zM206.4 76.4h.6v.6h-.6zM211.8 79.6h.6v.6h-.6zM208.0 80.9h.6v.6h-.6zM202.5 80.7h.6v.6h-.6zM204.3 80.6h.6v.6h-.6zM201.0 80.8h.6v.6h-.6zM205.9 75.2h.6v.6h-.6zM202.3 76.1h.6v.6h-.6zM203.8 79.9h.6v.6h-.6zM202.0 78.4h.6v.6h-.6zM205.3 79.5h.6v.6h-.6zM205.6 76.9h.6v.6h-.6zM201.4 77.0h.6v.6h-.6zM199.5 76.6h.6v.6h-.6zM207.4 80.0h.6v.6h-.6z" fill="#9aa6f7"/>
<path d="M228.6 69.2h.6v.6h-.6zM240.8 65.5h.6v.6h-.6zM222.8 80.6h.6v.6h-.6zM229.5 63.7h.6v.6h-.6zM226.4 65.0h.6v.6h-.6zM237.3 65.4h.6v.6h-.6zM208.7 80.1h.6v.6h-.6zM226.8 78.3h.6v.6h-.6zM221.8 62.9h.6v.6h-.6zM229.4 77.0h.6v.6h-.6zM220.8 74.7h.6v.6h-.6zM225.6 59.5h.6v.6h-.6zM216.3 78.9h.6v.6h-.6zM221.7 63.5h.6v.6h-.6zM219.7 69.7h.6v.6h-.6zM221.1 70.4h.6v.6h-.6zM212.6 80.1h.6v.6h-.6zM227.7 62.9h.6v.6h-.6zM223.5 74.0h.6v.6h-.6zM226.6 72.7h.6v.6h-.6zM225.1 73.5h.6v.6h-.6zM232.2 66.8h.6v.6h-.6zM229.0 69.2h.6v.6h-.6zM228.3 70.8h.6v.6h-.6zM219.8 74.1h.6v.6h-.6zM219.7 76.1h.6v.6h-.6zM219.5 69.1h.6v.6h-.6zM234.7 69.0h.6v.6h-.6zM222.7 66.4h.6v.6h-.6zM218.5 68.9h.6v.6h-.6zM226.2 65.9h.6v.6h-.6zM220.9 72.3h.6v.6h-.6zM213.6 74.9h.6v.6h-.6zM233.7 69.2h.6v.6h-.6zM224.0 70.3h.6v.6h-.6zM220.0 74.5h.6v.6h-.6zM240.2 60.9h.6v.6h-.6zM212.3 69.3h.6v.6h-.6zM222.2 63.5h.6v.6h-.6zM230.1 65.7h.6v.6h-.6zM215.6 71.9h.6v.6h-.6zM226.9 76.4h.6v.6h-.6zM227.0 65.9h.6v.6h-.6zM212.9 75.5h.6v.6h-.6zM212.4 74.8h.6v.6h-.6zM220.0 64.0h.6v.6h-.6zM202.8 76.1h.6v.6h-.6zM210.3 73.0h.6v.6h-.6zM223.6 74.8h.6v.6h-.6zM225.9 68.1h.6v.6h-.6zM227.4 61.2h.6v.6h-.6zM234.0 71.0h.6v.6h-.6zM230.3 67.6h.6v.6h-.6zM213.8 75.1h.6v.6h-.6zM223.7 69.0h.6v.6h-.6zM215.9 77.1h.6v.6h-.6zM219.9 67.0h.6v.6h-.6zM230.7 62.3h.6v.6h-.6zM231.4 62.8h.6v.6h-.6zM216.7 71.3h.6v.6h-.6zM227.9 72.0h.6v.6h-.6zM213.5 71.9h.6v.6h-.6zM225.9 67.9h.6v.6h-.6zM234.5 70.3h.6v.6h-.6z" fill="#7383f5"/>
<path d="M221.0 72.5h.6v.6h-.6zM205.4 72.4h.6v.6h-.6zM215.9 71.2h.6v.6h-.6zM227.2 70.2h.6v.6h-.6zM231.3 78.6h.6v.6h-.6zM217.0 76.0h.6v.6h-.6zM215.3 73.0h.6v.6h-.6zM211.1 65.9h.6v.6h-.6zM216.2 77.1h.6v.6h-.6zM222.0 68.9h.6v.6h-.6zM231.5 72.2h.6v.6h-.6zM215.9 70.8h.6v.6h-.6zM221.5 69.3h.6v.6h-.6zM217.3 67.9h.6v.6h-.6zM229.9 75.8h.6v.6h-.6zM226.3 64.6h.6v.6h-.6zM227.6 67.3h.6v.6h-.6zM217.9 66.4h.6v.6h-.6zM221.1 67.9h.6v.6h-.6zM214.0 78.3h.6v.6h-.6zM225.2 73.4h.6v.6h-.6zM211.5 72.4h.6v.6h-.6zM222.1 69.7h.6v.6h-.6zM222.3 72.8h.6v.6h-.6zM230.9 60.1h.6v.6h-.6zM219.4 67.0h.6v.6h-.6zM229.5 72.4h.6v.6h-.6zM220.2 70.0h.6v.6h-.6zM235.5 75.9h.6v.6h-.6zM224.9 67.6h.6v.6h-.6zM231.6 68.1h.6v.6h-.6zM219.5 71.2h.6v.6h-.6zM225.3 60.4h.6v.6h-.6zM229.9 74.7h.6v.6h-.6zM216.1 78.1h.6v.6h-.6zM230.4 72.4h.6v.6h-.6zM224.9 70.4h.6v.6h-.6zM217.4 73.4h.6v.6h-.6zM234.8 67.7h.6v.6h-.6zM226.9 67.1h.6v.6h-.6zM213.7 73.2h.6v.6h-.6zM220.0 77.8h.6v.6h-.6zM211.5 76.5h.6v.6h-.6zM230.2 61.4h.6v.6h-.6zM235.1 70.5h.6v.6h-.6zM215.2 78.8h.6v.6h-.6zM217.1 61.7h.6v.6h-.6zM219.1 79.4h.6v.6h-.6zM206.5 73.8h.6v.6h-.6zM229.5 74.5h.6v.6h-.6zM224.9 67.5h.6v.6h-.6zM213.3 74.4h.6v.6h-.6zM218.5 76.1h.6v.6h-.6zM209.8 79.6h.6v.6h-.6zM223.5 66.5h.6v.6h-.6zM216.7 77.8h.6v.6h-.6zM212.7 76.4h.6v.6h-.6zM229.4 66.0h.6v.6h-.6z" fill="#5565ee"/>
<path d="M225.7 65.5h.6v.6h-.6zM223.4 75.1h.6v.6h-.6zM223.2 71.7h.6v.6h-.6zM209.5 74.2h.6v.6h-.6zM227.0 72.5h.6v.6h-.6zM213.7 78.5h.6v.6h-.6zM228.1 79.6h.6v.6h-.6zM227.5 77.6h.6v.6h-.6zM215.1 73.0h.6v.6h-.6zM235.5 65.6h.6v.6h-.6zM216.0 71.9h.6v.6h-.6zM223.3 67.2h.6v.6h-.6zM224.4 69.2h.6v.6h-.6zM221.4 74.9h.6v.6h-.6zM222.3 64.8h.6v.6h-.6zM233.6 62.5h.6v.6h-.6zM222.8 70.8h.6v.6h-.6zM222.5 72.1h.6v.6h-.6zM227.4 78.8h.6v.6h-.6zM230.1 64.7h.6v.6h-.6zM216.2 75.1h.6v.6h-.6zM221.9 62.0h.6v.6h-.6zM216.3 69.4h.6v.6h-.6zM220.3 66.9h.6v.6h-.6zM223.2 69.0h.6v.6h-.6zM202.8 76.0h.6v.6h-.6zM223.5 73.9h.6v.6h-.6zM221.5 68.8h.6v.6h-.6zM219.0 75.6h.6v.6h-.6zM223.3 67.4h.6v.6h-.6zM227.6 72.9h.6v.6h-.6zM234.0 69.4h.6v.6h-.6zM231.9 65.0h.6v.6h-.6zM216.1 68.3h.6v.6h-.6zM206.2 76.4h.6v.6h-.6zM233.0 67.6h.6v.6h-.6zM233.9 65.4h.6v.6h-.6zM238.3 63.8h.6v.6h-.6zM217.2 74.9h.6v.6h-.6zM237.4 64.2h.6v.6h-.6zM221.8 66.8h.6v.6h-.6zM229.5 63.1h.6v.6h-.6zM228.1 68.7h.6v.6h-.6zM218.9 68.4h.6v.6h-.6zM227.6 75.1h.6v.6h-.6zM211.1 74.0h.6v.6h-.6zM229.3 71.9h.6v.6h-.6zM208.8 68.2h.6v.6h-.6zM222.6 69.3h.6v.6h-.6zM224.3 67.7h.6v.6h-.6zM223.4 74.8h.6v.6h-.6zM208.6 80.0h.6v.6h-.6zM233.9 74.6h.6v.6h-.6zM215.6 65.8h.6v.6h-.6zM230.1 63.1h.6v.6h-.6zM214.6 69.5h.6v.6h-.6zM226.6 77.5h.6v.6h-.6zM223.1 80.3h.6v.6h-.6zM227.3 69.3h.6v.6h-.6zM216.8 73.3h.6v.6h-.6zM225.1 69.5h.6v.6h-.6zM224.7 63.0h.6v.6h-.6z" fill="#9aa6f7"/>
<path d="M216.4 50.6h.6v.6h-.6zM229.9 50.7h.6v.6h-.6zM233.0 49.8h.6v.6h-.6zM229.9 51.2h.6v.6h-.6zM217.9 52.1h.6v.6h-.6zM229.3 49.5h.6v.6h-.6zM226.4 51.9h.6v.6h-.6zM227.4 48.5h.6v.6h-.6zM231.7 49.0h.6v.6h-.6zM227.1 51.2h.6v.6h-.6zM225.5 51.4h.6v.6h-.6zM226.1 53.0h.6v.6h-.6zM219.8 47.9h.6v.6h-.6zM222.6 53.6h.6v.6h-.6zM217.4 52.9h.6v.6h-.6zM224.6 47.8h.6v.6h-.6zM229.4 51.2h.6v.6h-.6zM222.7 47.8h.6v.6h-.6zM232.0 46.6h.6v.6h-.6zM230.6 50.6h.6v.6h-.6zM233.5 49.8h.6v.6h-.6zM225.1 51.4h.6v.6h-.6zM233.8 48.4h.6v.6h-.6zM222.7 51.1h.6v.6h-.6zM233.3 52.3h.6v.6h-.6zM233.6 49.9h.6v.6h-.6zM223.7 51.2h.6v.6h-.6zM222.2 55.6h.6v.6h-.6zM227.4 51.2h.6v.6h-.6zM231.8 48.6h.6v.6h-.6zM228.9 47.6h.6v.6h-.6zM223.4 48.0h.6v.6h-.6zM231.8 52.8h.6v.6h-.6zM224.8 47.5h.6v.6h-.6zM233.0 50.3h.6v.6h-.6z" fill="#7383f5"/>
<path d="M238.5 52.5h.6v.6h-.6zM225.5 51.0h.6v.6h-.6zM222.1 47.8h.6v.6h-.6zM237.1 50.8h.6v.6h-.6zM222.8 51.6h.6v.6h-.6zM220.4 49.7h.6v.6h-.6zM223.3 50.0h.6v.6h-.6zM226.0 49.6h.6v.6h-.6zM217.0 51.8h.6v.6h-.6zM228.0 49.8h.6v.6h-.6zM217.6 50.1h.6v.6h-.6zM223.3 48.9h.6v.6h-.6zM223.1 50.5h.6v.6h-.6zM227.7 55.2h.6v.6h-.6zM229.5 54.1h.6v.6h-.6zM219.2 53.2h.6v.6h-.6zM224.6 52.2h.6v.6h-.6zM235.8 50.4h.6v.6h-.6zM233.6 48.3h.6v.6h-.6zM229.6 50.5h.6v.6h-.6zM226.1 52.1h.6v.6h-.6zM229.6 49.8h.6v.6h-.6zM224.2 48.7h.6v.6h-.6zM224.5 51.0h.6v.6h-.6zM227.7 50.7h.6v.6h-.6zM227.0 48.9h.6v.6h-.6zM227.8 50.9h.6v.6h-.6zM229.2 51.0h.6v.6h-.6z" fill="#5565ee"/>
<path d="M235.2 48.0h.6v.6h-.6zM226.6 48.8h.6v.6h-.6zM227.3 53.9h.6v.6h-.6zM225.6 52.0h.6v.6h-.6zM231.7 50.6h.6v.6h-.6zM225.4 50.3h.6v.6h-.6zM224.0 49.4h.6v.6h-.6zM227.6 50.0h.6v.6h-.6zM224.0 52.3h.6v.6h-.6zM231.3 50.9h.6v.6h-.6zM228.7 50.7h.6v.6h-.6zM229.1 49.2h.6v.6h-.6zM227.9 52.9h.6v.6h-.6zM225.7 50.8h.6v.6h-.6zM223.9 53.3h.6v.6h-.6zM223.1 51.1h.6v.6h-.6zM232.7 50.8h.6v.6h-.6zM232.5 51.4h.6v.6h-.6zM227.7 49.5h.6v.6h-.6zM222.4 50.4h.6v.6h-.6zM230.9 47.4h.6v.6h-.6zM228.2 50.3h.6v.6h-.6zM228.0 50.8h.6v.6h-.6zM230.8 51.5h.6v.6h-.6zM224.1 50.2h.6v.6h-.6zM226.5 50.3h.6v.6h-.6zM221.6 49.5h.6v.6h-.6z" fill="#9aa6f7"/>
<ellipse cx="227.0" cy="50.7" rx="4" ry="1.1" fill="#3a55e8" opacity="0.7"/>
<path d="M212.9 73.5h.6v.6h-.6zM204.0 55.0h.6v.6h-.6zM211.3 61.6h.6v.6h-.6zM218.7 45.4h.6v.6h-.6zM208.4 56.2h.6v.6h-.6zM213.7 63.1h.6v.6h-.6zM205.6 50.4h.6v.6h-.6zM213.0 52.0h.6v.6h-.6zM212.8 57.0h.6v.6h-.6zM203.0 49.9h.6v.6h-.6zM203.8 55.2h.6v.6h-.6zM206.3 66.6h.6v.6h-.6zM210.7 57.1h.6v.6h-.6zM214.1 72.1h.6v.6h-.6z" fill="#7383f5"/>
<path d="M213.5 60.6h.6v.6h-.6zM207.9 69.5h.6v.6h-.6zM204.5 67.6h.6v.6h-.6zM217.2 62.9h.6v.6h-.6zM217.8 66.3h.6v.6h-.6zM218.9 62.6h.6v.6h-.6zM201.0 61.8h.6v.6h-.6zM218.1 56.2h.6v.6h-.6zM210.2 60.7h.6v.6h-.6zM201.3 74.7h.6v.6h-.6zM211.5 65.7h.6v.6h-.6zM211.4 53.3h.6v.6h-.6zM206.5 57.0h.6v.6h-.6zM218.2 62.3h.6v.6h-.6z" fill="#5565ee"/>
<path d="M209.6 64.9h.6v.6h-.6zM205.7 51.7h.6v.6h-.6zM221.1 60.7h.6v.6h-.6zM208.3 70.8h.6v.6h-.6zM213.2 46.4h.6v.6h-.6zM214.8 50.8h.6v.6h-.6zM206.4 54.6h.6v.6h-.6zM209.8 73.7h.6v.6h-.6zM203.2 68.6h.6v.6h-.6zM214.7 57.6h.6v.6h-.6zM204.4 71.2h.6v.6h-.6zM209.6 66.9h.6v.6h-.6zM201.9 50.9h.6v.6h-.6zM205.0 67.9h.6v.6h-.6z" fill="#9aa6f7"/>
<rect x="199.5" y="42.5" width="42.0" height="40" fill="none" stroke="#555" stroke-width="1"/>
<line x1="214.5" y1="42.5" x2="214.5" y2="82.5" stroke="#999" stroke-width="1.0"/>
<line x1="199.5" y1="62.5" x2="241.5" y2="62.5" stroke="#999" stroke-width="1.0"/>
<text x="200.2" y="47.8" font-size="4.9" text-anchor="start" font-weight="normal" fill="#000" stroke="#000" stroke-width="0.12">1.4%</text>
<text x="241.4" y="47.8" font-size="4.9" text-anchor="end" font-weight="normal" fill="#000" stroke="#000" stroke-width="0.12">18.2%</text>
<text x="241.4" y="80.6" font-size="4.9" text-anchor="end" font-weight="normal" fill="#000" stroke="#000" stroke-width="0.12">21.7%</text>
<text x="276.45" y="38.9" font-size="5.2" text-anchor="middle" font-weight="normal" fill="#222" stroke="#222" stroke-width="0.12">403 (20μM)</text>
<text x="0" y="0" font-size="4.0" text-anchor="start" font-weight="normal" fill="#555" transform="translate(247.9,84.0) scale(0.85,1)" stroke="#555" stroke-width="0.12">10</text>
<text x="251.60000000000002" y="82.5" font-size="2.6" text-anchor="start" font-weight="normal" fill="#555" stroke="#555" stroke-width="0.12">0</text>
<text x="0" y="0" font-size="4.0" text-anchor="start" font-weight="normal" fill="#555" transform="translate(247.9,73.8) scale(0.85,1)" stroke="#555" stroke-width="0.12">10</text>
<text x="251.60000000000002" y="72.3" font-size="2.6" text-anchor="start" font-weight="normal" fill="#555" stroke="#555" stroke-width="0.12">1</text>
<text x="0" y="0" font-size="4.0" text-anchor="start" font-weight="normal" fill="#555" transform="translate(247.9,64.1) scale(0.85,1)" stroke="#555" stroke-width="0.12">10</text>
<text x="251.60000000000002" y="62.599999999999994" font-size="2.6" text-anchor="start" font-weight="normal" fill="#555" stroke="#555" stroke-width="0.12">2</text>
<text x="0" y="0" font-size="4.0" text-anchor="start" font-weight="normal" fill="#555" transform="translate(247.9,53.9) scale(0.85,1)" stroke="#555" stroke-width="0.12">10</text>
<text x="251.60000000000002" y="52.4" font-size="2.6" text-anchor="start" font-weight="normal" fill="#555" stroke="#555" stroke-width="0.12">3</text>
<text x="0" y="0" font-size="4.0" text-anchor="start" font-weight="normal" fill="#555" transform="translate(253.60000000000002,88.3) scale(0.85,1)" stroke="#555" stroke-width="0.12">10</text>
<text x="257.3" y="86.8" font-size="2.6" text-anchor="start" font-weight="normal" fill="#555" stroke="#555" stroke-width="0.12">0</text>
<text x="0" y="0" font-size="4.0" text-anchor="start" font-weight="normal" fill="#555" transform="translate(264.0,88.3) scale(0.85,1)" stroke="#555" stroke-width="0.12">10</text>
<text x="267.7" y="86.8" font-size="2.6" text-anchor="start" font-weight="normal" fill="#555" stroke="#555" stroke-width="0.12">1</text>
<text x="0" y="0" font-size="4.0" text-anchor="start" font-weight="normal" fill="#555" transform="translate(274.40000000000003,88.3) scale(0.85,1)" stroke="#555" stroke-width="0.12">10</text>
<text x="278.1" y="86.8" font-size="2.6" text-anchor="start" font-weight="normal" fill="#555" stroke="#555" stroke-width="0.12">2</text>
<text x="0" y="0" font-size="4.0" text-anchor="start" font-weight="normal" fill="#555" transform="translate(284.8,88.3) scale(0.85,1)" stroke="#555" stroke-width="0.12">10</text>
<text x="288.5" y="86.8" font-size="2.6" text-anchor="start" font-weight="normal" fill="#555" stroke="#555" stroke-width="0.12">3</text>
<path d="M270.3 49.3h.6v.6h-.6zM280.6 54.2h.6v.6h-.6zM276.8 53.4h.6v.6h-.6zM268.7 48.7h.6v.6h-.6zM272.8 50.4h.6v.6h-.6zM276.4 49.8h.6v.6h-.6zM275.6 51.4h.6v.6h-.6zM287.0 50.6h.6v.6h-.6zM269.4 51.8h.6v.6h-.6zM281.4 52.7h.6v.6h-.6zM265.3 52.8h.6v.6h-.6zM275.9 49.5h.6v.6h-.6zM282.4 53.3h.6v.6h-.6zM285.1 57.0h.6v.6h-.6zM281.2 50.5h.6v.6h-.6zM272.0 48.9h.6v.6h-.6zM278.6 51.2h.6v.6h-.6zM279.1 53.0h.6v.6h-.6zM268.7 52.9h.6v.6h-.6zM276.5 53.0h.6v.6h-.6zM287.3 55.2h.6v.6h-.6zM270.0 51.5h.6v.6h-.6zM286.6 50.0h.6v.6h-.6zM288.5 48.4h.6v.6h-.6zM283.1 50.8h.6v.6h-.6zM285.1 54.6h.6v.6h-.6zM289.7 48.9h.6v.6h-.6zM267.6 50.0h.6v.6h-.6zM281.4 52.9h.6v.6h-.6zM285.1 53.1h.6v.6h-.6zM271.4 50.4h.6v.6h-.6zM275.6 50.7h.6v.6h-.6zM276.2 51.0h.6v.6h-.6zM276.0 53.2h.6v.6h-.6zM283.0 52.1h.6v.6h-.6zM275.9 54.2h.6v.6h-.6zM263.1 51.7h.6v.6h-.6zM268.1 50.4h.6v.6h-.6zM272.0 51.5h.6v.6h-.6zM285.7 53.0h.6v.6h-.6zM277.2 51.0h.6v.6h-.6zM283.5 52.5h.6v.6h-.6zM280.5 53.2h.6v.6h-.6zM280.7 49.6h.6v.6h-.6zM278.2 51.2h.6v.6h-.6zM282.8 53.6h.6v.6h-.6zM281.5 53.2h.6v.6h-.6zM268.5 56.5h.6v.6h-.6zM271.6 51.4h.6v.6h-.6zM277.9 48.9h.6v.6h-.6zM272.4 48.8h.6v.6h-.6zM277.9 47.8h.6v.6h-.6zM280.3 53.8h.6v.6h-.6zM285.9 51.8h.6v.6h-.6zM283.2 53.7h.6v.6h-.6zM271.1 48.6h.6v.6h-.6zM275.8 52.7h.6v.6h-.6zM280.2 49.1h.6v.6h-.6zM277.1 51.9h.6v.6h-.6zM265.3 55.8h.6v.6h-.6zM288.2 48.7h.6v.6h-.6z" fill="#7383f5"/>
<path d="M278.3 53.6h.6v.6h-.6zM290.0 55.3h.6v.6h-.6zM276.4 50.1h.6v.6h-.6zM269.1 52.8h.6v.6h-.6zM276.5 52.4h.6v.6h-.6zM271.6 53.4h.6v.6h-.6zM284.8 53.3h.6v.6h-.6zM275.5 49.7h.6v.6h-.6zM278.9 52.4h.6v.6h-.6zM272.3 48.8h.6v.6h-.6zM262.4 50.5h.6v.6h-.6zM266.5 50.6h.6v.6h-.6zM276.7 51.5h.6v.6h-.6zM280.5 50.9h.6v.6h-.6zM283.4 51.6h.6v.6h-.6zM285.8 49.7h.6v.6h-.6zM273.1 55.5h.6v.6h-.6zM272.3 53.3h.6v.6h-.6zM276.8 50.6h.6v.6h-.6zM262.1 53.0h.6v.6h-.6zM266.1 50.4h.6v.6h-.6zM281.5 46.9h.6v.6h-.6zM290.7 52.7h.6v.6h-.6zM278.5 47.6h.6v.6h-.6zM274.8 48.6h.6v.6h-.6zM276.4 52.0h.6v.6h-.6zM274.8 51.4h.6v.6h-.6zM280.4 52.7h.6v.6h-.6zM276.3 50.8h.6v.6h-.6zM285.7 50.8h.6v.6h-.6zM276.5 51.7h.6v.6h-.6zM262.9 48.7h.6v.6h-.6zM279.2 52.8h.6v.6h-.6zM283.8 52.3h.6v.6h-.6zM271.6 51.9h.6v.6h-.6zM283.1 54.9h.6v.6h-.6zM281.9 48.7h.6v.6h-.6zM286.7 52.3h.6v.6h-.6zM285.6 48.3h.6v.6h-.6zM280.3 51.0h.6v.6h-.6zM276.7 54.2h.6v.6h-.6zM281.5 52.3h.6v.6h-.6zM294.4 52.0h.6v.6h-.6zM279.9 49.5h.6v.6h-.6zM279.3 51.2h.6v.6h-.6zM286.9 51.2h.6v.6h-.6zM277.2 54.8h.6v.6h-.6zM280.8 47.7h.6v.6h-.6zM281.1 51.4h.6v.6h-.6zM278.8 49.9h.6v.6h-.6zM266.8 49.6h.6v.6h-.6zM291.5 50.5h.6v.6h-.6zM269.5 53.0h.6v.6h-.6zM284.0 52.1h.6v.6h-.6zM283.4 55.6h.6v.6h-.6zM279.9 54.4h.6v.6h-.6zM279.8 50.6h.6v.6h-.6zM290.9 48.3h.6v.6h-.6zM279.7 50.3h.6v.6h-.6zM283.3 49.9h.6v.6h-.6zM285.5 54.2h.6v.6h-.6zM275.1 53.1h.6v.6h-.6zM287.3 52.8h.6v.6h-.6zM261.3 52.9h.6v.6h-.6zM289.1 55.5h.6v.6h-.6z" fill="#5565ee"/>
<path d="M278.0 50.6h.6v.6h-.6zM283.3 53.4h.6v.6h-.6zM279.5 50.3h.6v.6h-.6zM272.8 50.8h.6v.6h-.6zM277.1 53.8h.6v.6h-.6zM273.7 53.3h.6v.6h-.6zM284.5 53.7h.6v.6h-.6zM287.8 53.5h.6v.6h-.6zM266.8 50.7h.6v.6h-.6zM283.7 52.7h.6v.6h-.6zM283.4 49.7h.6v.6h-.6zM281.0 52.7h.6v.6h-.6zM282.6 56.0h.6v.6h-.6zM270.8 51.3h.6v.6h-.6zM279.5 50.1h.6v.6h-.6zM282.6 56.9h.6v.6h-.6zM287.2 54.8h.6v.6h-.6zM276.6 51.7h.6v.6h-.6zM279.8 54.8h.6v.6h-.6zM280.0 55.4h.6v.6h-.6zM281.0 53.1h.6v.6h-.6zM289.2 54.8h.6v.6h-.6zM263.9 52.1h.6v.6h-.6zM272.6 50.9h.6v.6h-.6zM275.6 50.9h.6v.6h-.6zM279.3 51.0h.6v.6h-.6zM273.7 51.9h.6v.6h-.6zM287.3 49.9h.6v.6h-.6zM279.6 52.1h.6v.6h-.6zM285.2 51.7h.6v.6h-.6zM278.3 55.2h.6v.6h-.6zM287.2 52.4h.6v.6h-.6zM282.4 56.1h.6v.6h-.6zM278.5 50.8h.6v.6h-.6zM287.4 49.8h.6v.6h-.6zM271.5 50.5h.6v.6h-.6zM277.7 49.0h.6v.6h-.6zM284.4 49.9h.6v.6h-.6zM279.5 51.3h.6v.6h-.6zM280.4 48.2h.6v.6h-.6zM275.3 52.2h.6v.6h-.6zM272.0 48.6h.6v.6h-.6zM269.6 54.8h.6v.6h-.6zM280.2 55.8h.6v.6h-.6zM260.3 51.7h.6v.6h-.6zM282.0 52.6h.6v.6h-.6zM268.8 46.5h.6v.6h-.6zM276.4 51.0h.6v.6h-.6zM271.1 53.9h.6v.6h-.6zM271.4 47.4h.6v.6h-.6zM270.7 50.9h.6v.6h-.6zM286.6 49.7h.6v.6h-.6zM283.5 53.8h.6v.6h-.6z" fill="#9aa6f7"/>
<ellipse cx="277.8" cy="51.7" rx="6" ry="1.4" fill="#3a55e8" opacity="0.75"/>
<ellipse cx="278.8" cy="51.7" rx="3.5" ry="0.8" fill="#2aa866" opacity="0.9"/>
<path d="M286.7 78.4h.6v.6h-.6zM278.3 73.3h.6v.6h-.6zM276.2 72.4h.6v.6h-.6zM284.0 62.9h.6v.6h-.6zM282.0 52.3h.6v.6h-.6zM281.2 81.3h.6v.6h-.6zM263.8 72.6h.6v.6h-.6zM279.9 72.4h.6v.6h-.6zM273.0 77.1h.6v.6h-.6zM271.9 79.0h.6v.6h-.6zM291.3 76.3h.6v.6h-.6zM288.7 64.4h.6v.6h-.6zM270.9 64.7h.6v.6h-.6zM291.5 66.7h.6v.6h-.6zM287.2 62.6h.6v.6h-.6zM281.3 79.9h.6v.6h-.6zM269.0 65.2h.6v.6h-.6zM278.3 70.9h.6v.6h-.6zM270.1 76.6h.6v.6h-.6zM272.7 71.6h.6v.6h-.6zM282.0 69.4h.6v.6h-.6zM292.0 70.5h.6v.6h-.6zM278.3 54.5h.6v.6h-.6zM276.9 56.2h.6v.6h-.6zM281.4 58.7h.6v.6h-.6zM281.0 58.4h.6v.6h-.6zM269.6 55.7h.6v.6h-.6zM279.6 68.2h.6v.6h-.6zM277.6 58.6h.6v.6h-.6zM292.0 63.8h.6v.6h-.6zM268.8 72.0h.6v.6h-.6zM272.7 54.1h.6v.6h-.6zM276.0 60.4h.6v.6h-.6zM283.6 68.0h.6v.6h-.6zM275.7 64.0h.6v.6h-.6zM279.4 65.3h.6v.6h-.6zM290.5 60.2h.6v.6h-.6zM278.5 72.0h.6v.6h-.6zM283.2 73.8h.6v.6h-.6zM279.2 67.1h.6v.6h-.6zM290.4 64.1h.6v.6h-.6zM280.8 74.6h.6v.6h-.6zM274.9 81.1h.6v.6h-.6zM278.9 66.6h.6v.6h-.6zM286.9 60.1h.6v.6h-.6zM288.6 57.9h.6v.6h-.6zM277.4 56.7h.6v.6h-.6zM283.2 59.4h.6v.6h-.6zM282.0 52.1h.6v.6h-.6zM290.8 63.5h.6v.6h-.6zM273.1 72.6h.6v.6h-.6zM261.1 69.0h.6v.6h-.6zM278.1 79.8h.6v.6h-.6zM271.4 63.3h.6v.6h-.6zM278.9 73.4h.6v.6h-.6zM278.0 70.4h.6v.6h-.6zM276.1 67.8h.6v.6h-.6zM285.5 61.2h.6v.6h-.6zM291.7 65.8h.6v.6h-.6zM276.1 63.0h.6v.6h-.6zM280.3 64.5h.6v.6h-.6zM276.7 73.7h.6v.6h-.6zM280.8 69.5h.6v.6h-.6zM292.4 64.2h.6v.6h-.6zM271.4 56.8h.6v.6h-.6zM277.3 75.3h.6v.6h-.6zM279.5 72.2h.6v.6h-.6zM279.9 52.2h.6v.6h-.6zM273.8 62.5h.6v.6h-.6zM278.1 64.5h.6v.6h-.6zM263.0 74.5h.6v.6h-.6zM276.6 69.5h.6v.6h-.6zM279.2 74.3h.6v.6h-.6zM282.0 62.4h.6v.6h-.6z" fill="#7383f5"/>
<path d="M283.1 75.1h.6v.6h-.6zM287.5 66.1h.6v.6h-.6zM279.7 64.7h.6v.6h-.6zM278.5 63.0h.6v.6h-.6zM286.6 59.3h.6v.6h-.6zM281.1 72.8h.6v.6h-.6zM280.8 73.2h.6v.6h-.6zM270.1 77.1h.6v.6h-.6zM273.4 74.0h.6v.6h-.6zM285.6 75.7h.6v.6h-.6zM271.6 57.4h.6v.6h-.6zM278.9 61.3h.6v.6h-.6zM277.4 60.5h.6v.6h-.6zM280.9 63.7h.6v.6h-.6zM272.8 66.7h.6v.6h-.6zM274.5 56.7h.6v.6h-.6zM285.5 53.9h.6v.6h-.6zM272.1 75.1h.6v.6h-.6zM277.4 70.4h.6v.6h-.6zM274.3 60.3h.6v.6h-.6zM271.0 73.1h.6v.6h-.6zM273.0 70.1h.6v.6h-.6zM284.8 47.1h.6v.6h-.6zM275.1 69.3h.6v.6h-.6zM268.7 66.6h.6v.6h-.6zM277.1 57.5h.6v.6h-.6zM264.2 55.1h.6v.6h-.6zM275.9 68.8h.6v.6h-.6zM283.8 58.2h.6v.6h-.6zM274.0 68.9h.6v.6h-.6zM268.3 75.9h.6v.6h-.6zM286.7 78.6h.6v.6h-.6zM276.2 67.8h.6v.6h-.6zM274.1 77.4h.6v.6h-.6zM283.5 66.1h.6v.6h-.6zM290.9 50.6h.6v.6h-.6zM268.7 65.8h.6v.6h-.6zM289.9 62.9h.6v.6h-.6zM284.8 71.5h.6v.6h-.6zM287.8 59.8h.6v.6h-.6zM261.3 72.3h.6v.6h-.6zM282.0 74.8h.6v.6h-.6zM281.8 66.1h.6v.6h-.6zM269.6 71.0h.6v.6h-.6zM280.4 74.3h.6v.6h-.6zM268.6 75.3h.6v.6h-.6zM277.4 71.0h.6v.6h-.6zM289.6 58.4h.6v.6h-.6zM278.0 73.5h.6v.6h-.6zM290.7 52.2h.6v.6h-.6zM279.8 68.9h.6v.6h-.6zM262.8 68.7h.6v.6h-.6zM282.9 68.9h.6v.6h-.6zM274.6 57.2h.6v.6h-.6zM281.2 67.9h.6v.6h-.6zM280.9 69.7h.6v.6h-.6zM273.8 61.9h.6v.6h-.6zM288.8 53.5h.6v.6h-.6zM282.6 69.5h.6v.6h-.6zM276.6 66.9h.6v.6h-.6zM288.6 67.7h.6v.6h-.6zM279.0 69.3h.6v.6h-.6zM284.8 68.4h.6v.6h-.6zM280.8 77.0h.6v.6h-.6zM271.0 71.4h.6v.6h-.6zM279.6 63.3h.6v.6h-.6zM276.6 65.7h.6v.6h-.6z" fill="#5565ee"/>
<path d="M275.2 64.7h.6v.6h-.6zM271.3 59.0h.6v.6h-.6zM273.6 62.5h.6v.6h-.6zM276.6 68.3h.6v.6h-.6zM276.6 71.7h.6v.6h-.6zM279.9 60.0h.6v.6h-.6zM278.3 72.8h.6v.6h-.6zM266.1 76.3h.6v.6h-.6zM279.1 65.2h.6v.6h-.6zM281.0 64.3h.6v.6h-.6zM275.6 61.5h.6v.6h-.6zM283.4 70.1h.6v.6h-.6zM283.8 76.7h.6v.6h-.6zM270.5 68.5h.6v.6h-.6zM279.3 67.6h.6v.6h-.6zM281.3 78.6h.6v.6h-.6zM278.2 53.6h.6v.6h-.6zM274.6 73.2h.6v.6h-.6zM275.7 57.2h.6v.6h-.6zM287.6 57.2h.6v.6h-.6zM272.2 64.2h.6v.6h-.6zM279.1 65.6h.6v.6h-.6zM278.0 75.1h.6v.6h-.6zM272.0 75.2h.6v.6h-.6zM275.9 63.6h.6v.6h-.6zM293.0 59.6h.6v.6h-.6zM274.5 70.9h.6v.6h-.6zM278.5 49.0h.6v.6h-.6zM274.4 75.3h.6v.6h-.6zM269.6 66.8h.6v.6h-.6zM287.9 72.1h.6v.6h-.6zM274.6 51.1h.6v.6h-.6zM276.8 68.7h.6v.6h-.6zM276.4 70.7h.6v.6h-.6zM269.9 73.3h.6v.6h-.6zM283.8 75.5h.6v.6h-.6zM287.8 64.7h.6v.6h-.6zM283.2 56.3h.6v.6h-.6zM261.4 76.0h.6v.6h-.6zM282.0 68.8h.6v.6h-.6zM266.6 66.8h.6v.6h-.6zM269.9 66.6h.6v.6h-.6zM280.9 68.0h.6v.6h-.6zM273.0 63.9h.6v.6h-.6zM281.6 78.1h.6v.6h-.6zM276.5 66.2h.6v.6h-.6zM276.9 70.9h.6v.6h-.6zM289.0 67.1h.6v.6h-.6zM290.2 56.0h.6v.6h-.6zM287.6 80.3h.6v.6h-.6zM272.6 68.0h.6v.6h-.6zM288.4 55.5h.6v.6h-.6zM279.4 69.8h.6v.6h-.6zM286.5 61.0h.6v.6h-.6zM279.3 51.5h.6v.6h-.6zM290.6 71.8h.6v.6h-.6zM273.0 61.5h.6v.6h-.6zM278.6 75.2h.6v.6h-.6zM276.0 60.8h.6v.6h-.6zM284.4 75.0h.6v.6h-.6zM271.3 77.5h.6v.6h-.6zM284.8 62.6h.6v.6h-.6zM278.1 63.6h.6v.6h-.6zM278.7 74.8h.6v.6h-.6zM275.4 68.9h.6v.6h-.6zM283.3 68.3h.6v.6h-.6zM291.7 74.7h.6v.6h-.6zM286.8 68.0h.6v.6h-.6z" fill="#9aa6f7"/>
<path d="M264.3 53.0h.6v.6h-.6zM261.1 52.6h.6v.6h-.6zM269.8 57.6h.6v.6h-.6zM263.8 66.8h.6v.6h-.6zM265.3 59.5h.6v.6h-.6zM273.8 55.9h.6v.6h-.6zM272.3 56.2h.6v.6h-.6zM275.1 55.1h.6v.6h-.6zM265.1 51.2h.6v.6h-.6zM267.5 63.8h.6v.6h-.6zM269.2 58.5h.6v.6h-.6zM266.0 60.3h.6v.6h-.6zM268.1 55.3h.6v.6h-.6zM271.2 58.6h.6v.6h-.6zM277.4 54.4h.6v.6h-.6zM263.6 66.3h.6v.6h-.6zM277.1 50.1h.6v.6h-.6zM270.2 50.6h.6v.6h-.6z" fill="#7383f5"/>
<path d="M265.2 51.9h.6v.6h-.6zM258.9 61.6h.6v.6h-.6zM266.2 48.3h.6v.6h-.6zM269.2 59.5h.6v.6h-.6zM268.8 60.4h.6v.6h-.6zM263.8 54.3h.6v.6h-.6zM260.6 57.0h.6v.6h-.6zM269.5 56.2h.6v.6h-.6zM265.0 57.0h.6v.6h-.6zM265.4 65.7h.6v.6h-.6zM261.4 58.6h.6v.6h-.6zM262.1 54.0h.6v.6h-.6zM263.2 51.7h.6v.6h-.6zM260.6 58.3h.6v.6h-.6zM273.7 54.7h.6v.6h-.6zM261.5 64.1h.6v.6h-.6z" fill="#5565ee"/>
<path d="M267.1 56.7h.6v.6h-.6zM270.9 48.2h.6v.6h-.6zM258.7 57.4h.6v.6h-.6zM261.7 50.7h.6v.6h-.6zM262.8 51.4h.6v.6h-.6zM267.8 61.5h.6v.6h-.6zM271.5 54.7h.6v.6h-.6zM267.4 60.7h.6v.6h-.6zM271.8 51.0h.6v.6h-.6zM263.0 58.2h.6v.6h-.6zM267.8 53.2h.6v.6h-.6zM261.6 49.5h.6v.6h-.6zM269.4 50.7h.6v.6h-.6zM263.9 55.1h.6v.6h-.6zM262.7 59.8h.6v.6h-.6zM262.8 53.0h.6v.6h-.6z" fill="#9aa6f7"/>
<rect x="255.5" y="42.5" width="42.0" height="40" fill="none" stroke="#555" stroke-width="1"/>
<line x1="270.5" y1="42.5" x2="270.5" y2="82.5" stroke="#999" stroke-width="1.0"/>
<line x1="255.5" y1="62.5" x2="297.5" y2="62.5" stroke="#999" stroke-width="1.0"/>
<text x="256.0" y="47.8" font-size="4.9" text-anchor="start" font-weight="normal" fill="#000" stroke="#000" stroke-width="0.12">5.5%</text>
<text x="297.20000000000005" y="47.8" font-size="4.9" text-anchor="end" font-weight="normal" fill="#000" stroke="#000" stroke-width="0.12">56.2%</text>
<text x="297.20000000000005" y="80.6" font-size="4.9" text-anchor="end" font-weight="normal" fill="#000" stroke="#000" stroke-width="0.12">23.2%</text>
<line x1="15.4" y1="46" x2="15.4" y2="73.9" stroke="#222" stroke-width="0.9"/>
<path d="M13.3,47.3 L15.4,42.8 L17.5,47.3 Z" fill="#111"/>
<text x="0" y="0" font-size="7" text-anchor="middle" font-weight="normal" fill="#222" transform="translate(17.8,79.2) rotate(-90)" textLength="4.9" lengthAdjust="spacingAndGlyphs" stroke="#222" stroke-width="0.12">PI</text>
<text x="39" y="98.4" font-size="7.4" text-anchor="start" font-weight="normal" fill="#222" textLength="26.8" lengthAdjust="spacingAndGlyphs" stroke="#222" stroke-width="0.12">Annexin V</text>
<line x1="68" y1="96.5" x2="284" y2="96.5" stroke="#222" stroke-width="1.0"/>
<path d="M282.8,94.4 L287.3,96.5 L282.8,98.6 L283.6,96.5 Z" fill="#111"/>
<line x1="352" y1="97.4" x2="355" y2="97.4" stroke="#000" stroke-width="0.7"/>
<text x="349.2" y="99.2" font-size="5.0" text-anchor="end" font-weight="normal" fill="#222" stroke="#222" stroke-width="0.12">0</text>
<line x1="352" y1="85.0" x2="355" y2="85.0" stroke="#000" stroke-width="0.7"/>
<text x="349.2" y="86.8" font-size="5.0" text-anchor="end" font-weight="normal" fill="#222" stroke="#222" stroke-width="0.12">20</text>
<line x1="352" y1="72.6" x2="355" y2="72.6" stroke="#000" stroke-width="0.7"/>
<text x="349.2" y="74.39999999999999" font-size="5.0" text-anchor="end" font-weight="normal" fill="#222" stroke="#222" stroke-width="0.12">40</text>
<line x1="352" y1="60.2" x2="355" y2="60.2" stroke="#000" stroke-width="0.7"/>
<text x="349.2" y="62.0" font-size="5.0" text-anchor="end" font-weight="normal" fill="#222" stroke="#222" stroke-width="0.12">60</text>
<line x1="352" y1="47.8" x2="355" y2="47.8" stroke="#000" stroke-width="0.7"/>
<text x="349.2" y="49.599999999999994" font-size="5.0" text-anchor="end" font-weight="normal" fill="#222" stroke="#222" stroke-width="0.12">80</text>
<line x1="352" y1="35.39999999999999" x2="355" y2="35.39999999999999" stroke="#000" stroke-width="0.7"/>
<text x="349.2" y="37.19999999999999" font-size="5.0" text-anchor="end" font-weight="normal" fill="#222" stroke="#222" stroke-width="0.12">100</text>
<rect x="359.0" y="90.58" width="3.6" height="6.820000000000007" fill="#a50021"/>
<line x1="360.8" y1="89.929" x2="360.8" y2="90.9055" stroke="#000" stroke-width="0.5"/>
<line x1="360.2" y1="89.929" x2="361.40000000000003" y2="89.929" stroke="#000" stroke-width="0.5"/>
<rect x="370.4" y="50.9" width="3.6" height="46.50000000000001" fill="#a50021"/>
<line x1="372.2" y1="49.381" x2="372.2" y2="51.6595" stroke="#000" stroke-width="0.5"/>
<line x1="371.59999999999997" y1="49.381" x2="372.8" y2="49.381" stroke="#000" stroke-width="0.5"/>
<text x="372.2" y="49.581" font-size="4.4" text-anchor="middle" font-weight="normal" fill="#333" stroke="#333" stroke-width="0.12">**</text>
<rect x="382.0" y="45.31999999999999" width="3.6" height="52.08000000000001" fill="#a50021"/>
<line x1="383.8" y1="43.800999999999995" x2="383.8" y2="46.079499999999996" stroke="#000" stroke-width="0.5"/>
<line x1="383.2" y1="43.800999999999995" x2="384.40000000000003" y2="43.800999999999995" stroke="#000" stroke-width="0.5"/>
<text x="383.8" y="44.001" font-size="4.4" text-anchor="middle" font-weight="normal" fill="#333" stroke="#333" stroke-width="0.12">**</text>
<rect x="393.5" y="73.22" width="3.6" height="24.180000000000007" fill="#a50021"/>
<line x1="395.3" y1="71.484" x2="395.3" y2="74.088" stroke="#000" stroke-width="0.5"/>
<line x1="394.7" y1="71.484" x2="395.90000000000003" y2="71.484" stroke="#000" stroke-width="0.5"/>
<text x="395.3" y="71.684" font-size="4.4" text-anchor="middle" font-weight="normal" fill="#333" stroke="#333" stroke-width="0.12">**</text>
<rect x="404.7" y="48.419999999999995" width="3.6" height="48.98000000000001" fill="#a50021"/>
<line x1="406.5" y1="47.117999999999995" x2="406.5" y2="49.071" stroke="#000" stroke-width="0.5"/>
<line x1="405.9" y1="47.117999999999995" x2="407.1" y2="47.117999999999995" stroke="#000" stroke-width="0.5"/>
<text x="406.5" y="47.318" font-size="4.4" text-anchor="middle" font-weight="normal" fill="#333" stroke="#333" stroke-width="0.12">**</text>
<line x1="355" y1="33.9" x2="355" y2="97.80000000000001" stroke="#000" stroke-width="0.9"/>
<line x1="354.7" y1="97.4" x2="412.5" y2="97.4" stroke="#000" stroke-width="0.9"/>
<text x="0" y="0" font-size="5.2" text-anchor="end" font-weight="normal" fill="#222" transform="translate(363.40000000000003,103.30000000000001) rotate(-45)" stroke="#222" stroke-width="0.12">Vehicle</text>
<text x="0" y="0" font-size="5.2" text-anchor="end" font-weight="normal" fill="#222" transform="translate(374.8,103.30000000000001) rotate(-45)" stroke="#222" stroke-width="0.12">315 (10μM)</text>
<text x="0" y="0" font-size="5.2" text-anchor="end" font-weight="normal" fill="#222" transform="translate(386.40000000000003,103.30000000000001) rotate(-45)" stroke="#222" stroke-width="0.12">315 (20μM)</text>
<text x="0" y="0" font-size="5.2" text-anchor="end" font-weight="normal" fill="#222" transform="translate(397.90000000000003,103.30000000000001) rotate(-45)" stroke="#222" stroke-width="0.12">403 (10μM)</text>
<text x="0" y="0" font-size="5.2" text-anchor="end" font-weight="normal" fill="#222" transform="translate(409.1,103.30000000000001) rotate(-45)" stroke="#222" stroke-width="0.12">403 (20μM)</text>
<text x="383.65" y="27.8" font-size="7.7" text-anchor="middle" font-weight="normal" fill="#1a1a1a" textLength="22.7" lengthAdjust="spacingAndGlyphs" stroke="#1a1a1a" stroke-width="0.22">BCBL-1</text>
<line x1="372" y1="28.5" x2="395.3" y2="28.5" stroke="#444" stroke-width="0.6"/>
<text x="0" y="0" font-size="6.2" text-anchor="middle" font-weight="normal" fill="#222" transform="translate(336.0,64.7) rotate(-90)" textLength="55" lengthAdjust="spacingAndGlyphs" stroke="#222" stroke-width="0.12">Annexin V+ cells (%)</text>
<line x1="451.1" y1="97.3" x2="454.1" y2="97.3" stroke="#000" stroke-width="0.7"/>
<text x="448.3" y="99.1" font-size="5.0" text-anchor="end" font-weight="normal" fill="#222" stroke="#222" stroke-width="0.12">0</text>
<line x1="451.1" y1="81.69999999999999" x2="454.1" y2="81.69999999999999" stroke="#000" stroke-width="0.7"/>
<text x="448.3" y="83.49999999999999" font-size="5.0" text-anchor="end" font-weight="normal" fill="#222" stroke="#222" stroke-width="0.12">20</text>
<line x1="451.1" y1="66.1" x2="454.1" y2="66.1" stroke="#000" stroke-width="0.7"/>
<text x="448.3" y="67.89999999999999" font-size="5.0" text-anchor="end" font-weight="normal" fill="#222" stroke="#222" stroke-width="0.12">40</text>
<line x1="451.1" y1="50.49999999999999" x2="454.1" y2="50.49999999999999" stroke="#000" stroke-width="0.7"/>
<text x="448.3" y="52.29999999999999" font-size="5.0" text-anchor="end" font-weight="normal" fill="#222" stroke="#222" stroke-width="0.12">60</text>
<line x1="451.1" y1="34.89999999999999" x2="454.1" y2="34.89999999999999" stroke="#000" stroke-width="0.7"/>
<text x="448.3" y="36.69999999999999" font-size="5.0" text-anchor="end" font-weight="normal" fill="#222" stroke="#222" stroke-width="0.12">80</text>
<rect x="457.7" y="94.17999999999999" width="3.6" height="3.1200000000000045" fill="#a50021"/>
<line x1="459.5" y1="93.907" x2="459.5" y2="94.31649999999999" stroke="#000" stroke-width="0.5"/>
<line x1="458.9" y1="93.907" x2="460.1" y2="93.907" stroke="#000" stroke-width="0.5"/>
<rect x="469.09999999999997" y="77.02" width="3.6" height="20.28" fill="#a50021"/>
<line x1="470.9" y1="75.928" x2="470.9" y2="77.566" stroke="#000" stroke-width="0.5"/>
<line x1="470.29999999999995" y1="75.928" x2="471.5" y2="75.928" stroke="#000" stroke-width="0.5"/>
<text x="470.9" y="76.128" font-size="4.4" text-anchor="middle" font-weight="normal" fill="#333" stroke="#333" stroke-width="0.12">**</text>
<rect x="480.2" y="55.959999999999994" width="3.6" height="41.34" fill="#a50021"/>
<line x1="482" y1="53.23" x2="482" y2="57.324999999999996" stroke="#000" stroke-width="0.5"/>
<line x1="481.4" y1="53.23" x2="482.6" y2="53.23" stroke="#000" stroke-width="0.5"/>
<text x="482" y="53.43" font-size="4.4" text-anchor="middle" font-weight="normal" fill="#333" stroke="#333" stroke-width="0.12">**</text>
<rect x="491.9" y="69.22" width="3.6" height="28.08" fill="#a50021"/>
<line x1="493.7" y1="66.49" x2="493.7" y2="70.585" stroke="#000" stroke-width="0.5"/>
<line x1="493.09999999999997" y1="66.49" x2="494.3" y2="66.49" stroke="#000" stroke-width="0.5"/>
<text x="493.7" y="66.69" font-size="4.4" text-anchor="middle" font-weight="normal" fill="#333" stroke="#333" stroke-width="0.12">**</text>
<rect x="503.09999999999997" y="46.599999999999994" width="3.6" height="50.7" fill="#a50021"/>
<line x1="504.9" y1="43.324" x2="504.9" y2="48.23799999999999" stroke="#000" stroke-width="0.5"/>
<line x1="504.29999999999995" y1="43.324" x2="505.5" y2="43.324" stroke="#000" stroke-width="0.5"/>
<text x="504.9" y="43.524" font-size="4.4" text-anchor="middle" font-weight="normal" fill="#333" stroke="#333" stroke-width="0.12">**</text>
<line x1="454.1" y1="33.4" x2="454.1" y2="97.7" stroke="#000" stroke-width="0.9"/>
<line x1="453.8" y1="97.3" x2="511.5" y2="97.3" stroke="#000" stroke-width="0.9"/>
<text x="0" y="0" font-size="5.2" text-anchor="end" font-weight="normal" fill="#222" transform="translate(462.1,103.2) rotate(-45)" stroke="#222" stroke-width="0.12">Vehicle</text>
<text x="0" y="0" font-size="5.2" text-anchor="end" font-weight="normal" fill="#222" transform="translate(473.5,103.2) rotate(-45)" stroke="#222" stroke-width="0.12">315 (10μM)</text>
<text x="0" y="0" font-size="5.2" text-anchor="end" font-weight="normal" fill="#222" transform="translate(484.6,103.2) rotate(-45)" stroke="#222" stroke-width="0.12">315 (20μM)</text>
<text x="0" y="0" font-size="5.2" text-anchor="end" font-weight="normal" fill="#222" transform="translate(496.3,103.2) rotate(-45)" stroke="#222" stroke-width="0.12">403 (10μM)</text>
<text x="0" y="0" font-size="5.2" text-anchor="end" font-weight="normal" fill="#222" transform="translate(507.5,103.2) rotate(-45)" stroke="#222" stroke-width="0.12">403 (20μM)</text>
<text x="482.35" y="28.0" font-size="7.7" text-anchor="middle" font-weight="normal" fill="#1a1a1a" textLength="19.9" lengthAdjust="spacingAndGlyphs" stroke="#1a1a1a" stroke-width="0.22">BCP-1</text>
<line x1="472.1" y1="28.7" x2="492.6" y2="28.7" stroke="#444" stroke-width="0.6"/>
<text x="0" y="0" font-size="6.2" text-anchor="middle" font-weight="normal" fill="#222" transform="translate(437.0,65.0) rotate(-90)" textLength="55" lengthAdjust="spacingAndGlyphs" stroke="#222" stroke-width="0.12">Annexin V+ cells (%)</text>
<linearGradient id="g268" x1="0" y1="0" x2="0" y2="1"><stop offset="0" stop-color="#b8b8b8"/><stop offset="0.3" stop-color="#b8b8b8"/><stop offset="1" stop-color="#b8b8b8" stop-opacity="0.85"/></linearGradient>
<rect x="12.9" y="182.6" width="58.699999999999996" height="8.200000000000017" fill="url(#g268)"/>
<rect x="14.66" y="185.90" width="8.22" height="1.60" rx="0.80" fill="rgb(157,157,157)" filter="url(#bl)"/><rect x="25.81" y="185.80" width="9.39" height="1.80" rx="0.90" fill="rgb(100,100,100)" filter="url(#bl)"/><rect x="36.85" y="185.20" width="10.80" height="3.00" rx="1.20" fill="rgb(5,5,5)" filter="url(#bl)"/><rect x="49.29" y="185.70" width="9.39" height="2.00" rx="1.00" fill="rgb(81,81,81)" filter="url(#bl)"/><rect x="59.98" y="185.00" width="11.51" height="3.40" rx="1.20" fill="rgb(5,5,5)" filter="url(#bl)"/>
<linearGradient id="g271" x1="0" y1="0" x2="0" y2="1"><stop offset="0" stop-color="#c4c4c4"/><stop offset="0.3" stop-color="#c4c4c4"/><stop offset="1" stop-color="#c4c4c4" stop-opacity="0.85"/></linearGradient>
<rect x="12.9" y="192.2" width="58.699999999999996" height="7.900000000000006" fill="url(#g271)"/>
<rect x="14.66" y="195.35" width="8.22" height="1.60" rx="0.80" fill="rgb(166,166,166)" filter="url(#bl)"/><rect x="26.40" y="195.25" width="8.22" height="1.80" rx="0.90" fill="rgb(147,147,147)" filter="url(#bl)"/><rect x="37.55" y="195.05" width="9.39" height="2.20" rx="1.10" fill="rgb(62,62,62)" filter="url(#bl)"/><rect x="49.88" y="195.25" width="8.22" height="1.80" rx="0.90" fill="rgb(138,138,138)" filter="url(#bl)"/><rect x="61.03" y="195.05" width="9.39" height="2.20" rx="1.10" fill="rgb(90,90,90)" filter="url(#bl)"/>
<linearGradient id="g274" x1="0" y1="0" x2="0" y2="1"><stop offset="0" stop-color="#bcbcbc"/><stop offset="0.3" stop-color="#bcbcbc"/><stop offset="1" stop-color="#bcbcbc" stop-opacity="0.85"/></linearGradient>
<rect x="12.9" y="202.0" width="58.699999999999996" height="11.0" fill="url(#g274)"/>
<rect x="14.07" y="207.60" width="9.39" height="2.00" rx="1.00" fill="rgb(81,81,81)" filter="url(#bl)"/><rect x="25.70" y="207.40" width="9.63" height="2.40" rx="1.20" fill="rgb(34,34,34)" filter="url(#bl)"/><rect x="37.44" y="207.18" width="9.63" height="2.40" rx="1.20" fill="rgb(34,34,34)" filter="url(#bl)"/><rect x="49.00" y="206.75" width="9.98" height="2.60" rx="1.20" fill="rgb(24,24,24)" filter="url(#bl)"/><rect x="60.33" y="206.32" width="10.80" height="2.80" rx="1.20" fill="rgb(15,15,15)" filter="url(#bl)"/><rect x="14.07" y="203.95" width="9.39" height="1.60" rx="0.80" fill="rgb(157,157,157)" filter="url(#bl)"/><rect x="25.81" y="203.95" width="9.39" height="1.60" rx="0.80" fill="rgb(147,147,147)" filter="url(#bl)"/><rect x="37.55" y="203.95" width="9.39" height="1.60" rx="0.80" fill="rgb(157,157,157)" filter="url(#bl)"/><rect x="49.29" y="203.62" width="9.39" height="1.60" rx="0.80" fill="rgb(147,147,147)" filter="url(#bl)"/><rect x="14.07" y="210.75" width="9.39" height="1.20" rx="0.60" fill="rgb(138,138,138)" filter="url(#bl)"/>
<linearGradient id="g277" x1="0" y1="0" x2="0" y2="1"><stop offset="0" stop-color="#c2c2c2"/><stop offset="0.3" stop-color="#c2c2c2"/><stop offset="1" stop-color="#c2c2c2" stop-opacity="0.85"/></linearGradient>
<rect x="12.9" y="214.4" width="58.699999999999996" height="8.400000000000006" fill="url(#g277)"/>
<rect x="14.07" y="217.72" width="9.39" height="2.60" rx="1.20" fill="rgb(24,24,24)" filter="url(#bl)"/><rect x="25.52" y="217.52" width="9.98" height="3.00" rx="1.20" fill="rgb(5,5,5)" filter="url(#bl)"/><rect x="38.14" y="218.02" width="8.22" height="2.00" rx="1.00" fill="rgb(81,81,81)" filter="url(#bl)"/><rect x="49.88" y="218.02" width="8.22" height="2.00" rx="1.00" fill="rgb(81,81,81)" filter="url(#bl)"/>
<linearGradient id="g280" x1="0" y1="0" x2="0" y2="1"><stop offset="0" stop-color="#bcbcbc"/><stop offset="0.3" stop-color="#bcbcbc"/><stop offset="1" stop-color="#bcbcbc" stop-opacity="0.85"/></linearGradient>
<rect x="12.9" y="225.2" width="58.699999999999996" height="8.300000000000011" fill="url(#g280)"/>
<rect x="13.60" y="228.16" width="10.33" height="3.20" rx="1.20" fill="rgb(20,20,20)" filter="url(#bl)"/><rect x="25.34" y="228.16" width="10.33" height="3.20" rx="1.20" fill="rgb(28,28,28)" filter="url(#bl)"/><rect x="37.08" y="228.16" width="10.33" height="3.20" rx="1.20" fill="rgb(28,28,28)" filter="url(#bl)"/><rect x="48.82" y="228.06" width="10.33" height="3.40" rx="1.20" fill="rgb(20,20,20)" filter="url(#bl)"/><rect x="60.45" y="227.96" width="10.57" height="3.60" rx="1.20" fill="rgb(20,20,20)" filter="url(#bl)"/><rect x="13.78" y="225.99" width="9.98" height="1.40" rx="0.70" fill="rgb(128,128,128)" filter="url(#bl)"/><rect x="25.52" y="225.99" width="9.98" height="1.40" rx="0.70" fill="rgb(128,128,128)" filter="url(#bl)"/><rect x="37.26" y="225.99" width="9.98" height="1.40" rx="0.70" fill="rgb(128,128,128)" filter="url(#bl)"/><rect x="49.00" y="225.99" width="9.98" height="1.40" rx="0.70" fill="rgb(128,128,128)" filter="url(#bl)"/><rect x="60.74" y="225.99" width="9.98" height="1.40" rx="0.70" fill="rgb(128,128,128)" filter="url(#bl)"/>
<text x="0" y="0" font-size="5.6" text-anchor="start" font-weight="normal" fill="#222" transform="translate(73.0,188.5) scale(0.93,1)" stroke="#222" stroke-width="0.12">cleaved-Caspase 3</text>
<text x="0" y="0" font-size="5.6" text-anchor="start" font-weight="normal" fill="#222" transform="translate(73.0,197.95) scale(0.93,1)" stroke="#222" stroke-width="0.12">cleaved-Caspase 9</text>
<text x="0" y="0" font-size="5.6" text-anchor="start" font-weight="normal" fill="#222" transform="translate(73.0,209.3) scale(0.93,1)" stroke="#222" stroke-width="0.12">Bax</text>
<text x="0" y="0" font-size="5.6" text-anchor="start" font-weight="normal" fill="#222" transform="translate(73.0,220.40000000000003) scale(0.93,1)" stroke="#222" stroke-width="0.12">XIAP</text>
<text x="0" y="0" font-size="5.6" text-anchor="start" font-weight="normal" fill="#222" transform="translate(73.0,231.15) scale(0.93,1)" stroke="#222" stroke-width="0.12">β-Actin</text>
<text x="0" y="0" font-size="5.5" text-anchor="start" font-weight="normal" fill="#111" transform="translate(17.27,182.0) rotate(-45) scale(0.86,1)" stroke="#111" stroke-width="0.16">Vehicle</text>
<text x="0" y="0" font-size="5.5" text-anchor="start" font-weight="normal" fill="#111" transform="translate(29.009999999999998,182.0) rotate(-45) scale(0.86,1)" stroke="#111" stroke-width="0.16">315 (10μM)</text>
<text x="0" y="0" font-size="5.5" text-anchor="start" font-weight="normal" fill="#111" transform="translate(40.74999999999999,182.0) rotate(-45) scale(0.86,1)" stroke="#111" stroke-width="0.16">315 (20μM)</text>
<text x="0" y="0" font-size="5.5" text-anchor="start" font-weight="normal" fill="#111" transform="translate(52.489999999999995,182.0) rotate(-45) scale(0.86,1)" stroke="#111" stroke-width="0.16">403 (10μM)</text>
<text x="0" y="0" font-size="5.5" text-anchor="start" font-weight="normal" fill="#111" transform="translate(64.22999999999999,182.0) rotate(-45) scale(0.86,1)" stroke="#111" stroke-width="0.16">403 (20μM)</text>
<text x="42.15" y="155.6" font-size="7.7" text-anchor="middle" font-weight="normal" fill="#1a1a1a" textLength="23.9" lengthAdjust="spacingAndGlyphs" stroke="#1a1a1a" stroke-width="0.22">BCBL-1</text>
<line x1="29.9" y1="156.29999999999998" x2="54.4" y2="156.29999999999998" stroke="#444" stroke-width="0.6"/>
<linearGradient id="g295" x1="0" y1="0" x2="0" y2="1"><stop offset="0" stop-color="#bcbcbc"/><stop offset="0.3" stop-color="#bcbcbc"/><stop offset="1" stop-color="#bcbcbc" stop-opacity="0.85"/></linearGradient>
<rect x="128.2" y="182.3" width="58.80000000000001" height="8.599999999999994" fill="url(#g295)"/>
<rect x="129.96" y="185.80" width="8.23" height="1.60" rx="0.80" fill="rgb(166,166,166)" filter="url(#bl)"/><rect x="141.14" y="185.70" width="9.41" height="1.80" rx="0.90" fill="rgb(109,109,109)" filter="url(#bl)"/><rect x="152.90" y="185.70" width="9.41" height="1.80" rx="0.90" fill="rgb(100,100,100)" filter="url(#bl)"/><rect x="164.66" y="185.70" width="9.41" height="1.80" rx="0.90" fill="rgb(100,100,100)" filter="url(#bl)"/><rect x="175.36" y="184.90" width="11.52" height="3.40" rx="1.20" fill="rgb(5,5,5)" filter="url(#bl)"/>
<linearGradient id="g298" x1="0" y1="0" x2="0" y2="1"><stop offset="0" stop-color="#c6c6c6"/><stop offset="0.3" stop-color="#c6c6c6"/><stop offset="1" stop-color="#c6c6c6" stop-opacity="0.85"/></linearGradient>
<rect x="128.2" y="192.4" width="58.80000000000001" height="7.400000000000006" fill="url(#g298)"/>
<rect x="129.96" y="195.30" width="8.23" height="1.60" rx="0.80" fill="rgb(176,176,176)" filter="url(#bl)"/><rect x="141.72" y="195.30" width="8.23" height="1.60" rx="0.80" fill="rgb(166,166,166)" filter="url(#bl)"/><rect x="153.48" y="195.20" width="8.23" height="1.80" rx="0.90" fill="rgb(138,138,138)" filter="url(#bl)"/><rect x="165.24" y="195.30" width="8.23" height="1.60" rx="0.80" fill="rgb(166,166,166)" filter="url(#bl)"/><rect x="176.42" y="194.90" width="9.41" height="2.40" rx="1.20" fill="rgb(81,81,81)" filter="url(#bl)"/>
<linearGradient id="g301" x1="0" y1="0" x2="0" y2="1"><stop offset="0" stop-color="#c0c0c0"/><stop offset="0.3" stop-color="#c0c0c0"/><stop offset="1" stop-color="#c0c0c0" stop-opacity="0.85"/></linearGradient>
<rect x="128.2" y="200.6" width="58.80000000000001" height="9.700000000000017" fill="url(#g301)"/>
<rect x="129.38" y="203.87" width="9.41" height="2.20" rx="1.10" fill="rgb(62,62,62)" filter="url(#bl)"/><rect x="141.02" y="204.25" width="9.64" height="2.40" rx="1.20" fill="rgb(43,43,43)" filter="url(#bl)"/><rect x="152.60" y="204.15" width="10.00" height="2.60" rx="1.20" fill="rgb(34,34,34)" filter="url(#bl)"/><rect x="164.36" y="204.15" width="10.00" height="2.60" rx="1.20" fill="rgb(34,34,34)" filter="url(#bl)"/><rect x="175.36" y="203.55" width="11.52" height="3.80" rx="1.20" fill="rgb(5,5,5)" filter="url(#bl)"/>
<linearGradient id="g304" x1="0" y1="0" x2="0" y2="1"><stop offset="0" stop-color="#c4c4c4"/><stop offset="0.3" stop-color="#c4c4c4"/><stop offset="1" stop-color="#c4c4c4" stop-opacity="0.85"/></linearGradient>
<rect x="128.2" y="211.8" width="58.80000000000001" height="8.799999999999983" fill="url(#g304)"/>
<rect x="129.08" y="214.50" width="10.00" height="3.40" rx="1.20" fill="rgb(5,5,5)" filter="url(#bl)"/><rect x="141.14" y="214.80" width="9.41" height="2.80" rx="1.20" fill="rgb(34,34,34)" filter="url(#bl)"/><rect x="153.78" y="215.74" width="7.64" height="1.80" rx="0.90" fill="rgb(109,109,109)" filter="url(#bl)"/><rect x="165.54" y="215.74" width="7.64" height="1.80" rx="0.90" fill="rgb(109,109,109)" filter="url(#bl)"/><rect x="177.30" y="215.74" width="7.64" height="1.80" rx="0.90" fill="rgb(119,119,119)" filter="url(#bl)"/>
<linearGradient id="g307" x1="0" y1="0" x2="0" y2="1"><stop offset="0" stop-color="#bcbcbc"/><stop offset="0.3" stop-color="#bcbcbc"/><stop offset="1" stop-color="#bcbcbc" stop-opacity="0.85"/></linearGradient>
<rect x="128.2" y="222.5" width="58.80000000000001" height="8.400000000000006" fill="url(#g307)"/>
<rect x="128.91" y="225.52" width="10.35" height="3.20" rx="1.20" fill="rgb(28,28,28)" filter="url(#bl)"/><rect x="140.67" y="225.52" width="10.35" height="3.20" rx="1.20" fill="rgb(28,28,28)" filter="url(#bl)"/><rect x="152.43" y="225.52" width="10.35" height="3.20" rx="1.20" fill="rgb(28,28,28)" filter="url(#bl)"/><rect x="164.19" y="225.52" width="10.35" height="3.20" rx="1.20" fill="rgb(28,28,28)" filter="url(#bl)"/><rect x="175.83" y="225.32" width="10.58" height="3.60" rx="1.20" fill="rgb(20,20,20)" filter="url(#bl)"/>
<text x="0" y="0" font-size="5.6" text-anchor="start" font-weight="normal" fill="#222" transform="translate(188.3,188.40000000000003) scale(0.93,1)" stroke="#222" stroke-width="0.12">cleaved-Caspase 3</text>
<text x="0" y="0" font-size="5.6" text-anchor="start" font-weight="normal" fill="#222" transform="translate(188.3,197.90000000000003) scale(0.93,1)" stroke="#222" stroke-width="0.12">cleaved-Caspase 9</text>
<text x="0" y="0" font-size="5.6" text-anchor="start" font-weight="normal" fill="#222" transform="translate(188.3,207.25) scale(0.93,1)" stroke="#222" stroke-width="0.12">Bax</text>
<text x="0" y="0" font-size="5.6" text-anchor="start" font-weight="normal" fill="#222" transform="translate(188.3,218.0) scale(0.93,1)" stroke="#222" stroke-width="0.12">XIAP</text>
<text x="0" y="0" font-size="5.6" text-anchor="start" font-weight="normal" fill="#222" transform="translate(188.3,228.5) scale(0.93,1)" stroke="#222" stroke-width="0.12">β-Actin</text>
<text x="0" y="0" font-size="5.5" text-anchor="start" font-weight="normal" fill="#111" transform="translate(132.57999999999998,181.8) rotate(-45) scale(0.86,1)" stroke="#111" stroke-width="0.16">Vehicle</text>
<text x="0" y="0" font-size="5.5" text-anchor="start" font-weight="normal" fill="#111" transform="translate(144.33999999999997,181.8) rotate(-45) scale(0.86,1)" stroke="#111" stroke-width="0.16">315 (10μM)</text>
<text x="0" y="0" font-size="5.5" text-anchor="start" font-weight="normal" fill="#111" transform="translate(156.1,181.8) rotate(-45) scale(0.86,1)" stroke="#111" stroke-width="0.16">315 (20μM)</text>
<text x="0" y="0" font-size="5.5" text-anchor="start" font-weight="normal" fill="#111" transform="translate(167.85999999999999,181.8) rotate(-45) scale(0.86,1)" stroke="#111" stroke-width="0.16">403 (10μM)</text>
<text x="0" y="0" font-size="5.5" text-anchor="start" font-weight="normal" fill="#111" transform="translate(179.62,181.8) rotate(-45) scale(0.86,1)" stroke="#111" stroke-width="0.16">403 (20μM)</text>
<text x="157.35000000000002" y="155.6" font-size="7.7" text-anchor="middle" font-weight="normal" fill="#1a1a1a" textLength="20.3" lengthAdjust="spacingAndGlyphs" stroke="#1a1a1a" stroke-width="0.22">BCP-1</text>
<line x1="146.9" y1="156.29999999999998" x2="167.8" y2="156.29999999999998" stroke="#444" stroke-width="0.6"/>
<linearGradient id="g322" x1="0" y1="0" x2="0" y2="1"><stop offset="0" stop-color="#b4b4b4"/><stop offset="0.3" stop-color="#b4b4b4"/><stop offset="1" stop-color="#b4b4b4" stop-opacity="0.85"/></linearGradient>
<rect x="326.7" y="311.2" width="59.5" height="7.699999999999989" fill="url(#g322)"/>
<rect x="328.19" y="314.05" width="8.93" height="2.00" rx="1.00" fill="rgb(34,34,34)" filter="url(#bl)"/><rect x="341.57" y="314.25" width="5.95" height="1.60" rx="0.80" fill="rgb(128,128,128)" filter="url(#bl)"/><rect x="353.47" y="314.25" width="5.95" height="1.60" rx="0.80" fill="rgb(138,138,138)" filter="url(#bl)"/><rect x="365.37" y="314.25" width="5.95" height="1.60" rx="0.80" fill="rgb(138,138,138)" filter="url(#bl)"/><rect x="377.27" y="314.25" width="5.95" height="1.60" rx="0.80" fill="rgb(157,157,157)" filter="url(#bl)"/>
<linearGradient id="g325" x1="0" y1="0" x2="0" y2="1"><stop offset="0" stop-color="#d2d2d2"/><stop offset="0.3" stop-color="#d2d2d2"/><stop offset="1" stop-color="#d2d2d2" stop-opacity="0.85"/></linearGradient>
<rect x="326.7" y="320.9" width="59.5" height="9.700000000000045" fill="url(#g325)"/>
<rect x="328.19" y="323.10" width="8.93" height="2.40" rx="1.20" fill="rgb(43,43,43)" filter="url(#bl)"/><rect x="341.57" y="323.78" width="5.95" height="2.00" rx="1.00" fill="rgb(81,81,81)" filter="url(#bl)"/><rect x="353.47" y="324.37" width="5.95" height="1.80" rx="0.90" fill="rgb(128,128,128)" filter="url(#bl)"/><rect x="364.78" y="324.37" width="7.14" height="1.80" rx="0.90" fill="rgb(109,109,109)" filter="url(#bl)"/><rect x="377.27" y="324.46" width="5.95" height="1.60" rx="0.80" fill="rgb(176,176,176)" filter="url(#bl)"/>
<linearGradient id="g328" x1="0" y1="0" x2="0" y2="1"><stop offset="0" stop-color="#b0b0b0"/><stop offset="0.3" stop-color="#b0b0b0"/><stop offset="1" stop-color="#b0b0b0" stop-opacity="0.85"/></linearGradient>
<rect x="326.7" y="333.1" width="59.5" height="10.299999999999955" fill="url(#g328)"/>
<rect x="327.29" y="334.24" width="10.71" height="7.00" rx="1.20" fill="rgb(34,34,34)" filter="url(#bl)"/><rect x="339.49" y="336.45" width="10.12" height="3.60" rx="1.20" fill="rgb(53,53,53)" filter="url(#bl)"/><rect x="351.69" y="338.08" width="9.52" height="2.40" rx="1.20" fill="rgb(109,109,109)" filter="url(#bl)"/><rect x="363.59" y="337.46" width="9.52" height="2.60" rx="1.20" fill="rgb(81,81,81)" filter="url(#bl)"/><rect x="375.49" y="336.04" width="9.52" height="3.40" rx="1.20" fill="rgb(81,81,81)" filter="url(#bl)"/>
<linearGradient id="g331" x1="0" y1="0" x2="0" y2="1"><stop offset="0" stop-color="#b8b8b8"/><stop offset="0.3" stop-color="#b8b8b8"/><stop offset="1" stop-color="#b8b8b8" stop-opacity="0.85"/></linearGradient>
<rect x="326.7" y="346.1" width="59.5" height="7.0" fill="url(#g331)"/>
<rect x="328.19" y="348.35" width="8.93" height="1.80" rx="0.90" fill="rgb(90,90,90)" filter="url(#bl)"/><rect x="339.19" y="347.75" width="10.71" height="3.00" rx="1.20" fill="rgb(24,24,24)" filter="url(#bl)"/><rect x="351.09" y="348.20" width="10.71" height="2.80" rx="1.20" fill="rgb(34,34,34)" filter="url(#bl)"/><rect x="362.99" y="348.00" width="10.71" height="3.20" rx="1.20" fill="rgb(24,24,24)" filter="url(#bl)"/><rect x="374.60" y="348.50" width="11.30" height="3.60" rx="1.20" fill="rgb(15,15,15)" filter="url(#bl)"/>
<linearGradient id="g334" x1="0" y1="0" x2="0" y2="1"><stop offset="0" stop-color="#c4c4c4"/><stop offset="0.3" stop-color="#c4c4c4"/><stop offset="1" stop-color="#c4c4c4" stop-opacity="0.85"/></linearGradient>
<rect x="326.7" y="355.8" width="59.5" height="7.399999999999977" fill="url(#g334)"/>
<rect x="327.41" y="358.37" width="10.47" height="3.00" rx="1.20" fill="rgb(43,43,43)" filter="url(#bl)"/><rect x="339.31" y="358.37" width="10.47" height="3.00" rx="1.20" fill="rgb(43,43,43)" filter="url(#bl)"/><rect x="351.21" y="358.37" width="10.47" height="3.00" rx="1.20" fill="rgb(43,43,43)" filter="url(#bl)"/><rect x="363.11" y="358.27" width="10.47" height="3.20" rx="1.20" fill="rgb(34,34,34)" filter="url(#bl)"/><rect x="374.78" y="358.17" width="10.95" height="3.40" rx="1.20" fill="rgb(34,34,34)" filter="url(#bl)"/><rect x="327.59" y="356.58" width="10.12" height="1.40" rx="0.70" fill="rgb(119,119,119)" filter="url(#bl)"/><rect x="339.49" y="356.58" width="10.12" height="1.40" rx="0.70" fill="rgb(119,119,119)" filter="url(#bl)"/><rect x="351.39" y="356.58" width="10.12" height="1.40" rx="0.70" fill="rgb(119,119,119)" filter="url(#bl)"/><rect x="363.29" y="356.58" width="10.12" height="1.40" rx="0.70" fill="rgb(119,119,119)" filter="url(#bl)"/><rect x="375.19" y="356.58" width="10.12" height="1.40" rx="0.70" fill="rgb(119,119,119)" filter="url(#bl)"/>
<text x="0" y="0" font-size="5.6" text-anchor="start" font-weight="normal" fill="#222" transform="translate(387.6,316.84999999999997) scale(0.93,1)" stroke="#222" stroke-width="0.12">Cyclin D1</text>
<text x="0" y="0" font-size="5.6" text-anchor="start" font-weight="normal" fill="#222" transform="translate(387.6,327.55) scale(0.93,1)" stroke="#222" stroke-width="0.12">CDK6</text>
<text x="0" y="0" font-size="5.6" text-anchor="start" font-weight="normal" fill="#222" transform="translate(387.6,340.05) scale(0.93,1)" stroke="#222" stroke-width="0.12">p-Rb</text>
<text x="0" y="0" font-size="5.6" text-anchor="start" font-weight="normal" fill="#222" transform="translate(387.6,351.40000000000003) scale(0.93,1)" stroke="#222" stroke-width="0.12">p21</text>
<text x="0" y="0" font-size="5.6" text-anchor="start" font-weight="normal" fill="#222" transform="translate(387.6,361.3) scale(0.93,1)" stroke="#222" stroke-width="0.12">β-Actin</text>
<text x="0" y="0" font-size="5.5" text-anchor="start" font-weight="normal" fill="#111" transform="translate(331.15,310.0) rotate(-45) scale(0.86,1)" stroke="#111" stroke-width="0.16">Vehicle</text>
<text x="0" y="0" font-size="5.5" text-anchor="start" font-weight="normal" fill="#111" transform="translate(343.05,310.0) rotate(-45) scale(0.86,1)" stroke="#111" stroke-width="0.16">315 (10μM)</text>
<text x="0" y="0" font-size="5.5" text-anchor="start" font-weight="normal" fill="#111" transform="translate(354.95,310.0) rotate(-45) scale(0.86,1)" stroke="#111" stroke-width="0.16">315 (20μM)</text>
<text x="0" y="0" font-size="5.5" text-anchor="start" font-weight="normal" fill="#111" transform="translate(366.84999999999997,310.0) rotate(-45) scale(0.86,1)" stroke="#111" stroke-width="0.16">403 (10μM)</text>
<text x="0" y="0" font-size="5.5" text-anchor="start" font-weight="normal" fill="#111" transform="translate(378.75,310.0) rotate(-45) scale(0.86,1)" stroke="#111" stroke-width="0.16">403 (20μM)</text>
<text x="356.5" y="283.8" font-size="7.7" text-anchor="middle" font-weight="normal" fill="#1a1a1a" textLength="24.0" lengthAdjust="spacingAndGlyphs" stroke="#1a1a1a" stroke-width="0.22">BCBL-1</text>
<line x1="344.2" y1="284.5" x2="368.8" y2="284.5" stroke="#444" stroke-width="0.6"/>
<linearGradient id="g349" x1="0" y1="0" x2="0" y2="1"><stop offset="0" stop-color="#b4b4b4"/><stop offset="0.3" stop-color="#b4b4b4"/><stop offset="1" stop-color="#b4b4b4" stop-opacity="0.85"/></linearGradient>
<rect x="418.2" y="310.8" width="58.30000000000001" height="8.099999999999966" fill="url(#g349)"/>
<rect x="419.66" y="313.14" width="8.75" height="2.60" rx="1.20" fill="rgb(34,34,34)" filter="url(#bl)"/><rect x="432.77" y="313.95" width="5.83" height="1.80" rx="0.90" fill="rgb(119,119,119)" filter="url(#bl)"/><rect x="444.44" y="314.05" width="5.83" height="1.60" rx="0.80" fill="rgb(138,138,138)" filter="url(#bl)"/><rect x="456.09" y="314.05" width="5.83" height="1.60" rx="0.80" fill="rgb(128,128,128)" filter="url(#bl)"/><rect x="467.75" y="314.05" width="5.83" height="1.60" rx="0.80" fill="rgb(128,128,128)" filter="url(#bl)"/>
<linearGradient id="g352" x1="0" y1="0" x2="0" y2="1"><stop offset="0" stop-color="#d0d0d0"/><stop offset="0.3" stop-color="#d0d0d0"/><stop offset="1" stop-color="#d0d0d0" stop-opacity="0.85"/></linearGradient>
<rect x="418.2" y="320.9" width="58.30000000000001" height="9.700000000000045" fill="url(#g352)"/>
<rect x="419.66" y="324.75" width="8.75" height="2.00" rx="1.00" fill="rgb(62,62,62)" filter="url(#bl)"/><rect x="431.61" y="324.75" width="8.16" height="2.00" rx="1.00" fill="rgb(90,90,90)" filter="url(#bl)"/><rect x="444.44" y="324.85" width="5.83" height="1.80" rx="0.90" fill="rgb(138,138,138)" filter="url(#bl)"/><rect x="454.93" y="324.75" width="8.16" height="2.00" rx="1.00" fill="rgb(90,90,90)" filter="url(#bl)"/><rect x="467.75" y="324.95" width="5.83" height="1.60" rx="0.80" fill="rgb(157,157,157)" filter="url(#bl)"/>
<linearGradient id="g355" x1="0" y1="0" x2="0" y2="1"><stop offset="0" stop-color="#b4b4b4"/><stop offset="0.3" stop-color="#b4b4b4"/><stop offset="1" stop-color="#b4b4b4" stop-opacity="0.85"/></linearGradient>
<rect x="418.2" y="332.5" width="58.30000000000001" height="10.300000000000011" fill="url(#g355)"/>
<rect x="418.78" y="334.90" width="10.49" height="5.50" rx="1.20" fill="rgb(24,24,24)" filter="url(#bl)"/><rect x="430.73" y="336.56" width="9.91" height="3.20" rx="1.20" fill="rgb(53,53,53)" filter="url(#bl)"/><rect x="442.69" y="337.48" width="9.33" height="2.40" rx="1.20" fill="rgb(128,128,128)" filter="url(#bl)"/><rect x="453.76" y="335.13" width="10.49" height="4.00" rx="1.20" fill="rgb(34,34,34)" filter="url(#bl)"/><rect x="466.01" y="337.58" width="9.33" height="2.20" rx="1.10" fill="rgb(128,128,128)" filter="url(#bl)"/>
<linearGradient id="g358" x1="0" y1="0" x2="0" y2="1"><stop offset="0" stop-color="#bcbcbc"/><stop offset="0.3" stop-color="#bcbcbc"/><stop offset="1" stop-color="#bcbcbc" stop-opacity="0.85"/></linearGradient>
<rect x="418.2" y="345.3" width="58.30000000000001" height="8.599999999999966" fill="url(#g358)"/>
<rect x="419.07" y="348.40" width="9.91" height="2.40" rx="1.20" fill="rgb(72,72,72)" filter="url(#bl)"/><rect x="430.56" y="348.10" width="10.26" height="3.00" rx="1.20" fill="rgb(43,43,43)" filter="url(#bl)"/><rect x="442.22" y="348.10" width="10.26" height="3.00" rx="1.20" fill="rgb(43,43,43)" filter="url(#bl)"/><rect x="453.88" y="348.00" width="10.26" height="3.20" rx="1.20" fill="rgb(34,34,34)" filter="url(#bl)"/><rect x="465.31" y="348.23" width="10.73" height="3.60" rx="1.20" fill="rgb(24,24,24)" filter="url(#bl)"/>
<linearGradient id="g361" x1="0" y1="0" x2="0" y2="1"><stop offset="0" stop-color="#c2c2c2"/><stop offset="0.3" stop-color="#c2c2c2"/><stop offset="1" stop-color="#c2c2c2" stop-opacity="0.85"/></linearGradient>
<rect x="418.2" y="356.4" width="58.30000000000001" height="8.700000000000045" fill="url(#g361)"/>
<rect x="418.90" y="359.69" width="10.26" height="3.00" rx="1.20" fill="rgb(43,43,43)" filter="url(#bl)"/><rect x="430.56" y="359.69" width="10.26" height="3.00" rx="1.20" fill="rgb(43,43,43)" filter="url(#bl)"/><rect x="442.22" y="359.69" width="10.26" height="3.00" rx="1.20" fill="rgb(43,43,43)" filter="url(#bl)"/><rect x="453.88" y="359.69" width="10.26" height="3.00" rx="1.20" fill="rgb(43,43,43)" filter="url(#bl)"/><rect x="465.42" y="359.38" width="10.49" height="3.60" rx="1.20" fill="rgb(28,28,28)" filter="url(#bl)"/>
<text x="0" y="0" font-size="5.6" text-anchor="start" font-weight="normal" fill="#222" transform="translate(478.4,316.65000000000003) scale(0.93,1)" stroke="#222" stroke-width="0.12">Cyclin D1</text>
<text x="0" y="0" font-size="5.6" text-anchor="start" font-weight="normal" fill="#222" transform="translate(478.4,327.55) scale(0.93,1)" stroke="#222" stroke-width="0.12">CDK6</text>
<text x="0" y="0" font-size="5.6" text-anchor="start" font-weight="normal" fill="#222" transform="translate(478.4,339.45) scale(0.93,1)" stroke="#222" stroke-width="0.12">p-Rb</text>
<text x="0" y="0" font-size="5.6" text-anchor="start" font-weight="normal" fill="#222" transform="translate(478.4,351.40000000000003) scale(0.93,1)" stroke="#222" stroke-width="0.12">p21</text>
<text x="0" y="0" font-size="5.6" text-anchor="start" font-weight="normal" fill="#222" transform="translate(478.4,362.55) scale(0.93,1)" stroke="#222" stroke-width="0.12">β-Actin</text>
<text x="0" y="0" font-size="5.5" text-anchor="start" font-weight="normal" fill="#111" transform="translate(422.53,309.6) rotate(-45) scale(0.86,1)" stroke="#111" stroke-width="0.16">Vehicle</text>
<text x="0" y="0" font-size="5.5" text-anchor="start" font-weight="normal" fill="#111" transform="translate(434.19,309.6) rotate(-45) scale(0.86,1)" stroke="#111" stroke-width="0.16">315 (10μM)</text>
<text x="0" y="0" font-size="5.5" text-anchor="start" font-weight="normal" fill="#111" transform="translate(445.85,309.6) rotate(-45) scale(0.86,1)" stroke="#111" stroke-width="0.16">315 (20μM)</text>
<text x="0" y="0" font-size="5.5" text-anchor="start" font-weight="normal" fill="#111" transform="translate(457.51,309.6) rotate(-45) scale(0.86,1)" stroke="#111" stroke-width="0.16">403 (10μM)</text>
<text x="0" y="0" font-size="5.5" text-anchor="start" font-weight="normal" fill="#111" transform="translate(469.17,309.6) rotate(-45) scale(0.86,1)" stroke="#111" stroke-width="0.16">403 (20μM)</text>
<text x="447.29999999999995" y="283.8" font-size="7.7" text-anchor="middle" font-weight="normal" fill="#1a1a1a" textLength="20.2" lengthAdjust="spacingAndGlyphs" stroke="#1a1a1a" stroke-width="0.22">BCP-1</text>
<line x1="436.9" y1="284.5" x2="457.7" y2="284.5" stroke="#444" stroke-width="0.6"/>
<line x1="264.40000000000003" y1="228.2" x2="267.6" y2="228.2" stroke="#000" stroke-width="0.7"/>
<text x="260.8" y="230.0" font-size="5.1" text-anchor="end" font-weight="normal" fill="#222" stroke="#222" stroke-width="0.12">0</text>
<line x1="264.40000000000003" y1="215.41666666666666" x2="267.6" y2="215.41666666666666" stroke="#000" stroke-width="0.7"/>
<text x="260.8" y="217.21666666666667" font-size="5.1" text-anchor="end" font-weight="normal" fill="#222" stroke="#222" stroke-width="0.12">2</text>
<line x1="264.40000000000003" y1="202.63333333333333" x2="267.6" y2="202.63333333333333" stroke="#000" stroke-width="0.7"/>
<text x="260.8" y="204.43333333333334" font-size="5.1" text-anchor="end" font-weight="normal" fill="#222" stroke="#222" stroke-width="0.12">4</text>
<line x1="264.40000000000003" y1="189.85" x2="267.6" y2="189.85" stroke="#000" stroke-width="0.7"/>
<text x="260.8" y="191.65" font-size="5.1" text-anchor="end" font-weight="normal" fill="#222" stroke="#222" stroke-width="0.12">6</text>
<line x1="264.40000000000003" y1="177.06666666666666" x2="267.6" y2="177.06666666666666" stroke="#000" stroke-width="0.7"/>
<text x="260.8" y="178.86666666666667" font-size="5.1" text-anchor="end" font-weight="normal" fill="#222" stroke="#222" stroke-width="0.12">8</text>
<line x1="264.40000000000003" y1="164.28333333333333" x2="267.6" y2="164.28333333333333" stroke="#000" stroke-width="0.7"/>
<text x="260.8" y="166.08333333333334" font-size="5.1" text-anchor="end" font-weight="normal" fill="#222" stroke="#222" stroke-width="0.12">10</text>
<line x1="264.40000000000003" y1="151.5" x2="267.6" y2="151.5" stroke="#000" stroke-width="0.7"/>
<text x="260.8" y="153.3" font-size="5.1" text-anchor="end" font-weight="normal" fill="#222" stroke="#222" stroke-width="0.12">12</text>
<rect x="274.3" y="221.80833333333334" width="4.0" height="6.3916666666666515" fill="#5b9bd5"/>
<line x1="276.3" y1="221.48875" x2="276.3" y2="222.12791666666666" stroke="#222" stroke-width="0.5"/>
<line x1="275.7" y1="221.48875" x2="276.90000000000003" y2="221.48875" stroke="#222" stroke-width="0.5"/>
<rect x="278.90000000000003" y="214.13833333333332" width="4.0" height="14.061666666666667" fill="#e0861a"/>
<line x1="280.90000000000003" y1="213.49916666666667" x2="280.90000000000003" y2="214.77749999999997" stroke="#222" stroke-width="0.5"/>
<line x1="280.3" y1="213.49916666666667" x2="281.50000000000006" y2="213.49916666666667" stroke="#222" stroke-width="0.5"/>
<text x="281.20000000000005" y="212.53833333333333" font-size="4.4" text-anchor="middle" font-weight="normal" fill="#111" stroke="#111" stroke-width="0.12">**</text>
<rect x="283.2" y="161.72666666666666" width="4.0" height="66.47333333333333" fill="#c3c3c8"/>
<line x1="285.2" y1="155.33499999999998" x2="285.2" y2="168.11833333333334" stroke="#222" stroke-width="0.5"/>
<line x1="284.59999999999997" y1="155.33499999999998" x2="285.8" y2="155.33499999999998" stroke="#222" stroke-width="0.5"/>
<text x="285.5" y="155.635" font-size="4.4" text-anchor="middle" font-weight="normal" fill="#111" stroke="#111" stroke-width="0.12">**</text>
<rect x="300.8" y="221.80833333333334" width="4.0" height="6.3916666666666515" fill="#5b9bd5"/>
<line x1="302.8" y1="221.48875" x2="302.8" y2="222.12791666666666" stroke="#222" stroke-width="0.5"/>
<line x1="302.2" y1="221.48875" x2="303.40000000000003" y2="221.48875" stroke="#222" stroke-width="0.5"/>
<rect x="305.40000000000003" y="212.22083333333333" width="4.0" height="15.979166666666657" fill="#e0861a"/>
<line x1="307.40000000000003" y1="211.58166666666668" x2="307.40000000000003" y2="212.85999999999999" stroke="#222" stroke-width="0.5"/>
<line x1="306.8" y1="211.58166666666668" x2="308.00000000000006" y2="211.58166666666668" stroke="#222" stroke-width="0.5"/>
<text x="307.70000000000005" y="210.62083333333334" font-size="4.4" text-anchor="middle" font-weight="normal" fill="#111" stroke="#111" stroke-width="0.12">**</text>
<rect x="309.7" y="203.91166666666666" width="4.0" height="24.288333333333327" fill="#c3c3c8"/>
<line x1="311.7" y1="201.99416666666667" x2="311.7" y2="205.82916666666665" stroke="#222" stroke-width="0.5"/>
<line x1="311.09999999999997" y1="201.99416666666667" x2="312.3" y2="201.99416666666667" stroke="#222" stroke-width="0.5"/>
<text x="312.0" y="202.29416666666668" font-size="4.4" text-anchor="middle" font-weight="normal" fill="#111" stroke="#111" stroke-width="0.12">**</text>
<rect x="326.9" y="221.80833333333334" width="4.0" height="6.3916666666666515" fill="#5b9bd5"/>
<line x1="328.9" y1="221.48875" x2="328.9" y2="222.12791666666666" stroke="#222" stroke-width="0.5"/>
<line x1="328.29999999999995" y1="221.48875" x2="329.5" y2="221.48875" stroke="#222" stroke-width="0.5"/>
<rect x="331.5" y="215.41666666666666" width="4.0" height="12.783333333333331" fill="#e0861a"/>
<line x1="333.5" y1="214.13833333333332" x2="333.5" y2="216.695" stroke="#222" stroke-width="0.5"/>
<line x1="332.9" y1="214.13833333333332" x2="334.1" y2="214.13833333333332" stroke="#222" stroke-width="0.5"/>
<text x="333.8" y="214.43833333333333" font-size="4.4" text-anchor="middle" font-weight="normal" fill="#111" stroke="#111" stroke-width="0.12">**</text>
<rect x="335.79999999999995" y="212.22083333333333" width="4.0" height="15.979166666666657" fill="#c3c3c8"/>
<line x1="337.79999999999995" y1="210.62291666666667" x2="337.79999999999995" y2="213.81875" stroke="#222" stroke-width="0.5"/>
<line x1="337.19999999999993" y1="210.62291666666667" x2="338.4" y2="210.62291666666667" stroke="#222" stroke-width="0.5"/>
<text x="338.09999999999997" y="210.92291666666668" font-size="4.4" text-anchor="middle" font-weight="normal" fill="#111" stroke="#111" stroke-width="0.12">**</text>
<rect x="353.5" y="221.80833333333334" width="4.0" height="6.3916666666666515" fill="#5b9bd5"/>
<line x1="355.5" y1="221.48875" x2="355.5" y2="222.12791666666666" stroke="#222" stroke-width="0.5"/>
<line x1="354.9" y1="221.48875" x2="356.1" y2="221.48875" stroke="#222" stroke-width="0.5"/>
<rect x="358.1" y="227.94433333333333" width="4.0" height="0.25566666666665583" fill="#e0861a"/>
<text x="360.40000000000003" y="226.34433333333334" font-size="4.4" text-anchor="middle" font-weight="normal" fill="#111" stroke="#111" stroke-width="0.12">**</text>
<rect x="362.4" y="227.94433333333333" width="4.0" height="0.25566666666665583" fill="#c3c3c8"/>
<text x="364.7" y="226.34433333333334" font-size="4.4" text-anchor="middle" font-weight="normal" fill="#111" stroke="#111" stroke-width="0.12">**</text>
<line x1="267.6" y1="149.5" x2="267.6" y2="228.6" stroke="#000" stroke-width="0.9"/>
<line x1="267.3" y1="228.2" x2="372.5" y2="228.2" stroke="#000" stroke-width="0.9"/>
<text x="0" y="0" font-size="5.3" text-anchor="end" font-weight="normal" fill="#222" transform="translate(282.50000000000006,233.0) rotate(-45)" stroke="#222" stroke-width="0.12">c-Caspase 3/Actin</text>
<text x="0" y="0" font-size="5.3" text-anchor="end" font-weight="normal" fill="#222" transform="translate(309.00000000000006,233.0) rotate(-45)" stroke="#222" stroke-width="0.12">c-Caspase 9/Actin</text>
<text x="0" y="0" font-size="5.3" text-anchor="end" font-weight="normal" fill="#222" transform="translate(335.1,233.0) rotate(-45)" stroke="#222" stroke-width="0.12">Bax/Actin</text>
<text x="0" y="0" font-size="5.3" text-anchor="end" font-weight="normal" fill="#222" transform="translate(361.70000000000005,233.0) rotate(-45)" stroke="#222" stroke-width="0.12">XIAP/Actin</text>
<text x="0" y="0" font-size="6.2" text-anchor="middle" font-weight="normal" fill="#222" transform="translate(250.2,189) rotate(-90)" textLength="50.5" lengthAdjust="spacingAndGlyphs" stroke="#222" stroke-width="0.12">Relative expression</text>
<text x="320.0" y="142.5" font-size="7.7" text-anchor="middle" font-weight="normal" fill="#1a1a1a" textLength="23.2" lengthAdjust="spacingAndGlyphs" stroke="#1a1a1a" stroke-width="0.22">BCBL-1</text>
<line x1="308.1" y1="143.2" x2="331.9" y2="143.2" stroke="#444" stroke-width="0.6"/>
<line x1="401.3" y1="228.2" x2="404.5" y2="228.2" stroke="#000" stroke-width="0.7"/>
<text x="397.7" y="230.0" font-size="5.1" text-anchor="end" font-weight="normal" fill="#222" stroke="#222" stroke-width="0.12">0</text>
<line x1="401.3" y1="219.5111111111111" x2="404.5" y2="219.5111111111111" stroke="#000" stroke-width="0.7"/>
<text x="397.7" y="221.3111111111111" font-size="5.1" text-anchor="end" font-weight="normal" fill="#222" stroke="#222" stroke-width="0.12">5</text>
<line x1="401.3" y1="210.82222222222222" x2="404.5" y2="210.82222222222222" stroke="#000" stroke-width="0.7"/>
<text x="397.7" y="212.62222222222223" font-size="5.1" text-anchor="end" font-weight="normal" fill="#222" stroke="#222" stroke-width="0.12">10</text>
<line x1="401.3" y1="202.13333333333333" x2="404.5" y2="202.13333333333333" stroke="#000" stroke-width="0.7"/>
<text x="397.7" y="203.93333333333334" font-size="5.1" text-anchor="end" font-weight="normal" fill="#222" stroke="#222" stroke-width="0.12">15</text>
<line x1="401.3" y1="193.44444444444446" x2="404.5" y2="193.44444444444446" stroke="#000" stroke-width="0.7"/>
<text x="397.7" y="195.24444444444447" font-size="5.1" text-anchor="end" font-weight="normal" fill="#222" stroke="#222" stroke-width="0.12">20</text>
<line x1="401.3" y1="184.75555555555556" x2="404.5" y2="184.75555555555556" stroke="#000" stroke-width="0.7"/>
<text x="397.7" y="186.55555555555557" font-size="5.1" text-anchor="end" font-weight="normal" fill="#222" stroke="#222" stroke-width="0.12">25</text>
<line x1="401.3" y1="176.06666666666666" x2="404.5" y2="176.06666666666666" stroke="#000" stroke-width="0.7"/>
<text x="397.7" y="177.86666666666667" font-size="5.1" text-anchor="end" font-weight="normal" fill="#222" stroke="#222" stroke-width="0.12">30</text>
<line x1="401.3" y1="167.3777777777778" x2="404.5" y2="167.3777777777778" stroke="#000" stroke-width="0.7"/>
<text x="397.7" y="169.1777777777778" font-size="5.1" text-anchor="end" font-weight="normal" fill="#222" stroke="#222" stroke-width="0.12">35</text>
<line x1="401.3" y1="158.6888888888889" x2="404.5" y2="158.6888888888889" stroke="#000" stroke-width="0.7"/>
<text x="397.7" y="160.4888888888889" font-size="5.1" text-anchor="end" font-weight="normal" fill="#222" stroke="#222" stroke-width="0.12">40</text>
<line x1="401.3" y1="150.0" x2="404.5" y2="150.0" stroke="#000" stroke-width="0.7"/>
<text x="397.7" y="151.8" font-size="5.1" text-anchor="end" font-weight="normal" fill="#222" stroke="#222" stroke-width="0.12">45</text>
<rect x="410.3" y="226.4622222222222" width="4.0" height="1.7377777777777794" fill="#5b9bd5"/>
<line x1="412.3" y1="226.37533333333332" x2="412.3" y2="226.5491111111111" stroke="#222" stroke-width="0.5"/>
<line x1="411.7" y1="226.37533333333332" x2="412.90000000000003" y2="226.37533333333332" stroke="#222" stroke-width="0.5"/>
<rect x="415.7" y="179.54222222222222" width="4.0" height="48.65777777777777" fill="#e0861a"/>
<line x1="417.7" y1="176.93555555555557" x2="417.7" y2="182.14888888888888" stroke="#222" stroke-width="0.5"/>
<line x1="417.09999999999997" y1="176.93555555555557" x2="418.3" y2="176.93555555555557" stroke="#222" stroke-width="0.5"/>
<text x="418.0" y="177.23555555555558" font-size="4.4" text-anchor="middle" font-weight="normal" fill="#111" stroke="#111" stroke-width="0.12">**</text>
<rect x="420.40000000000003" y="163.03333333333333" width="4.0" height="65.16666666666666" fill="#c3c3c8"/>
<line x1="422.40000000000003" y1="159.55777777777777" x2="422.40000000000003" y2="166.5088888888889" stroke="#222" stroke-width="0.5"/>
<line x1="421.8" y1="159.55777777777777" x2="423.00000000000006" y2="159.55777777777777" stroke="#222" stroke-width="0.5"/>
<text x="422.70000000000005" y="159.85777777777778" font-size="4.4" text-anchor="middle" font-weight="normal" fill="#111" stroke="#111" stroke-width="0.12">**</text>
<rect x="436.7" y="226.4622222222222" width="4.0" height="1.7377777777777794" fill="#5b9bd5"/>
<line x1="438.7" y1="226.37533333333332" x2="438.7" y2="226.5491111111111" stroke="#222" stroke-width="0.5"/>
<line x1="438.09999999999997" y1="226.37533333333332" x2="439.3" y2="226.37533333333332" stroke="#222" stroke-width="0.5"/>
<rect x="442.09999999999997" y="210.82222222222222" width="4.0" height="17.377777777777766" fill="#e0861a"/>
<line x1="444.09999999999997" y1="209.432" x2="444.09999999999997" y2="212.21244444444446" stroke="#222" stroke-width="0.5"/>
<line x1="443.49999999999994" y1="209.432" x2="444.7" y2="209.432" stroke="#222" stroke-width="0.5"/>
<text x="444.4" y="209.732" font-size="4.4" text-anchor="middle" font-weight="normal" fill="#111" stroke="#111" stroke-width="0.12">**</text>
<rect x="446.8" y="217.7733333333333" width="4.0" height="10.426666666666677" fill="#c3c3c8"/>
<line x1="448.8" y1="216.38311111111108" x2="448.8" y2="219.16355555555555" stroke="#222" stroke-width="0.5"/>
<line x1="448.2" y1="216.38311111111108" x2="449.40000000000003" y2="216.38311111111108" stroke="#222" stroke-width="0.5"/>
<text x="449.1" y="216.6831111111111" font-size="4.4" text-anchor="middle" font-weight="normal" fill="#111" stroke="#111" stroke-width="0.12">**</text>
<rect x="462.8" y="226.4622222222222" width="4.0" height="1.7377777777777794" fill="#5b9bd5"/>
<line x1="464.8" y1="226.37533333333332" x2="464.8" y2="226.5491111111111" stroke="#222" stroke-width="0.5"/>
<line x1="464.2" y1="226.37533333333332" x2="465.40000000000003" y2="226.37533333333332" stroke="#222" stroke-width="0.5"/>
<rect x="468.2" y="219.5111111111111" width="4.0" height="8.688888888888897" fill="#e0861a"/>
<line x1="470.2" y1="218.12088888888886" x2="470.2" y2="220.90133333333333" stroke="#222" stroke-width="0.5"/>
<line x1="469.59999999999997" y1="218.12088888888886" x2="470.8" y2="218.12088888888886" stroke="#222" stroke-width="0.5"/>
<text x="470.5" y="218.42088888888887" font-size="4.4" text-anchor="middle" font-weight="normal" fill="#111" stroke="#111" stroke-width="0.12">**</text>
<rect x="472.90000000000003" y="221.24888888888887" width="4.0" height="6.951111111111118" fill="#c3c3c8"/>
<line x1="474.90000000000003" y1="220.2062222222222" x2="474.90000000000003" y2="222.29155555555553" stroke="#222" stroke-width="0.5"/>
<line x1="474.3" y1="220.2062222222222" x2="475.50000000000006" y2="220.2062222222222" stroke="#222" stroke-width="0.5"/>
<text x="475.20000000000005" y="220.50622222222222" font-size="4.4" text-anchor="middle" font-weight="normal" fill="#111" stroke="#111" stroke-width="0.12">**</text>
<rect x="489.0" y="226.4622222222222" width="4.0" height="1.7377777777777794" fill="#5b9bd5"/>
<line x1="491.0" y1="226.37533333333332" x2="491.0" y2="226.5491111111111" stroke="#222" stroke-width="0.5"/>
<line x1="490.4" y1="226.37533333333332" x2="491.6" y2="226.37533333333332" stroke="#222" stroke-width="0.5"/>
<rect x="494.4" y="227.67866666666666" width="4.0" height="0.521333333333331" fill="#e0861a"/>
<text x="496.7" y="226.07866666666666" font-size="4.4" text-anchor="middle" font-weight="normal" fill="#111" stroke="#111" stroke-width="0.12">**</text>
<rect x="499.1" y="227.85244444444444" width="4.0" height="0.3475555555555445" fill="#c3c3c8"/>
<text x="501.40000000000003" y="226.25244444444445" font-size="4.4" text-anchor="middle" font-weight="normal" fill="#111" stroke="#111" stroke-width="0.12">**</text>
<line x1="404.5" y1="147.5" x2="404.5" y2="228.6" stroke="#000" stroke-width="0.9"/>
<line x1="404.2" y1="228.2" x2="508.7" y2="228.2" stroke="#000" stroke-width="0.9"/>
<text x="0" y="0" font-size="5.3" text-anchor="end" font-weight="normal" fill="#222" transform="translate(419.3,233.0) rotate(-45)" stroke="#222" stroke-width="0.12">c-Caspase 3/Actin</text>
<text x="0" y="0" font-size="5.3" text-anchor="end" font-weight="normal" fill="#222" transform="translate(445.7,233.0) rotate(-45)" stroke="#222" stroke-width="0.12">c-Caspase 9/Actin</text>
<text x="0" y="0" font-size="5.3" text-anchor="end" font-weight="normal" fill="#222" transform="translate(471.8,233.0) rotate(-45)" stroke="#222" stroke-width="0.12">Bax/Actin</text>
<text x="0" y="0" font-size="5.3" text-anchor="end" font-weight="normal" fill="#222" transform="translate(498.0,233.0) rotate(-45)" stroke="#222" stroke-width="0.12">XIAP/Actin</text>
<text x="0" y="0" font-size="6.2" text-anchor="middle" font-weight="normal" fill="#222" transform="translate(386.8,190.4) rotate(-90)" textLength="45" lengthAdjust="spacingAndGlyphs" stroke="#222" stroke-width="0.12">Relative expression</text>
<text x="456.85" y="142.7" font-size="7.7" text-anchor="middle" font-weight="normal" fill="#1a1a1a" textLength="18.9" lengthAdjust="spacingAndGlyphs" stroke="#1a1a1a" stroke-width="0.22">BCP-1</text>
<line x1="447.1" y1="143.39999999999998" x2="466.6" y2="143.39999999999998" stroke="#444" stroke-width="0.6"/>
<rect x="484.1" y="176.8" width="4.2" height="4.2" fill="#5b9bd5"/>
<text x="0" y="0" font-size="4.8" text-anchor="start" font-weight="normal" fill="#222" transform="translate(490.0,180.8) scale(0.85,1)" stroke="#222" stroke-width="0.12">Vehicle</text>
<rect x="484.1" y="182.85000000000002" width="4.2" height="4.2" fill="#e0861a"/>
<text x="0" y="0" font-size="4.8" text-anchor="start" font-weight="normal" fill="#222" transform="translate(490.0,186.70000000000002) scale(0.85,1)" stroke="#222" stroke-width="0.12">315</text>
<rect x="484.1" y="188.9" width="4.2" height="4.2" fill="#c3c3c8"/>
<text x="0" y="0" font-size="4.8" text-anchor="start" font-weight="normal" fill="#222" transform="translate(490.0,192.60000000000002) scale(0.85,1)" stroke="#222" stroke-width="0.12">403</text>
<line x1="327.3" y1="474.7" x2="330.5" y2="474.7" stroke="#000" stroke-width="0.7"/>
<text x="323.7" y="476.5" font-size="5.1" text-anchor="end" font-weight="normal" fill="#222" stroke="#222" stroke-width="0.12">0.0</text>
<line x1="327.3" y1="463.2833333333333" x2="330.5" y2="463.2833333333333" stroke="#000" stroke-width="0.7"/>
<text x="323.7" y="465.0833333333333" font-size="5.1" text-anchor="end" font-weight="normal" fill="#222" stroke="#222" stroke-width="0.12">1.0</text>
<line x1="327.3" y1="451.8666666666667" x2="330.5" y2="451.8666666666667" stroke="#000" stroke-width="0.7"/>
<text x="323.7" y="453.6666666666667" font-size="5.1" text-anchor="end" font-weight="normal" fill="#222" stroke="#222" stroke-width="0.12">2.0</text>
<line x1="327.3" y1="440.45" x2="330.5" y2="440.45" stroke="#000" stroke-width="0.7"/>
<text x="323.7" y="442.25" font-size="5.1" text-anchor="end" font-weight="normal" fill="#222" stroke="#222" stroke-width="0.12">3.0</text>
<line x1="327.3" y1="429.0333333333333" x2="330.5" y2="429.0333333333333" stroke="#000" stroke-width="0.7"/>
<text x="323.7" y="430.8333333333333" font-size="5.1" text-anchor="end" font-weight="normal" fill="#222" stroke="#222" stroke-width="0.12">4.0</text>
<line x1="327.3" y1="417.6166666666667" x2="330.5" y2="417.6166666666667" stroke="#000" stroke-width="0.7"/>
<text x="323.7" y="419.4166666666667" font-size="5.1" text-anchor="end" font-weight="normal" fill="#222" stroke="#222" stroke-width="0.12">5.0</text>
<line x1="327.3" y1="406.2" x2="330.5" y2="406.2" stroke="#000" stroke-width="0.7"/>
<text x="323.7" y="408.0" font-size="5.1" text-anchor="end" font-weight="normal" fill="#222" stroke="#222" stroke-width="0.12">6.0</text>
<rect x="335.5" y="463.2833333333333" width="3.0" height="11.416666666666686" fill="#5b9bd5"/>
<line x1="337" y1="462.7125" x2="337" y2="463.85416666666663" stroke="#222" stroke-width="0.5"/>
<line x1="336.4" y1="462.7125" x2="337.6" y2="462.7125" stroke="#222" stroke-width="0.5"/>
<rect x="339.0" y="472.41666666666663" width="3.0" height="2.28333333333336" fill="#e0861a"/>
<line x1="340.5" y1="472.1883333333333" x2="340.5" y2="472.645" stroke="#222" stroke-width="0.5"/>
<line x1="339.9" y1="472.1883333333333" x2="341.1" y2="472.1883333333333" stroke="#222" stroke-width="0.5"/>
<text x="340.8" y="470.8166666666666" font-size="4.4" text-anchor="middle" font-weight="normal" fill="#111" stroke="#111" stroke-width="0.12">**</text>
<rect x="342.4" y="473.78666666666663" width="3.0" height="0.9133333333333553" fill="#c3c3c8"/>
<line x1="343.9" y1="473.5583333333333" x2="343.9" y2="474.015" stroke="#222" stroke-width="0.5"/>
<line x1="343.29999999999995" y1="473.5583333333333" x2="344.5" y2="473.5583333333333" stroke="#222" stroke-width="0.5"/>
<text x="344.2" y="472.1866666666666" font-size="4.4" text-anchor="middle" font-weight="normal" fill="#111" stroke="#111" stroke-width="0.12">**</text>
<rect x="355.4" y="463.2833333333333" width="3.0" height="11.416666666666686" fill="#5b9bd5"/>
<line x1="356.9" y1="462.7125" x2="356.9" y2="463.85416666666663" stroke="#222" stroke-width="0.5"/>
<line x1="356.29999999999995" y1="462.7125" x2="357.5" y2="462.7125" stroke="#222" stroke-width="0.5"/>
<rect x="358.9" y="472.645" width="3.0" height="2.055000000000007" fill="#e0861a"/>
<line x1="360.4" y1="472.41666666666663" x2="360.4" y2="472.87333333333333" stroke="#222" stroke-width="0.5"/>
<line x1="359.79999999999995" y1="472.41666666666663" x2="361.0" y2="472.41666666666663" stroke="#222" stroke-width="0.5"/>
<text x="360.7" y="471.04499999999996" font-size="4.4" text-anchor="middle" font-weight="normal" fill="#111" stroke="#111" stroke-width="0.12">**</text>
<rect x="362.29999999999995" y="472.9875" width="3.0" height="1.7124999999999773" fill="#c3c3c8"/>
<line x1="363.79999999999995" y1="472.75916666666666" x2="363.79999999999995" y2="473.21583333333336" stroke="#222" stroke-width="0.5"/>
<line x1="363.19999999999993" y1="472.75916666666666" x2="364.4" y2="472.75916666666666" stroke="#222" stroke-width="0.5"/>
<text x="364.09999999999997" y="471.3875" font-size="4.4" text-anchor="middle" font-weight="normal" fill="#111" stroke="#111" stroke-width="0.12">**</text>
<rect x="374.7" y="463.2833333333333" width="3.0" height="11.416666666666686" fill="#5b9bd5"/>
<line x1="376.2" y1="462.7125" x2="376.2" y2="463.85416666666663" stroke="#222" stroke-width="0.5"/>
<line x1="375.59999999999997" y1="462.7125" x2="376.8" y2="462.7125" stroke="#222" stroke-width="0.5"/>
<rect x="378.2" y="472.41666666666663" width="3.0" height="2.28333333333336" fill="#e0861a"/>
<line x1="379.7" y1="472.1883333333333" x2="379.7" y2="472.645" stroke="#222" stroke-width="0.5"/>
<line x1="379.09999999999997" y1="472.1883333333333" x2="380.3" y2="472.1883333333333" stroke="#222" stroke-width="0.5"/>
<text x="380.0" y="470.8166666666666" font-size="4.4" text-anchor="middle" font-weight="normal" fill="#111" stroke="#111" stroke-width="0.12">**</text>
<rect x="381.59999999999997" y="473.78666666666663" width="3.0" height="0.9133333333333553" fill="#c3c3c8"/>
<line x1="383.09999999999997" y1="473.5583333333333" x2="383.09999999999997" y2="474.015" stroke="#222" stroke-width="0.5"/>
<line x1="382.49999999999994" y1="473.5583333333333" x2="383.7" y2="473.5583333333333" stroke="#222" stroke-width="0.5"/>
<text x="383.4" y="472.1866666666666" font-size="4.4" text-anchor="middle" font-weight="normal" fill="#111" stroke="#111" stroke-width="0.12">**</text>
<rect x="393.8" y="463.2833333333333" width="3.0" height="11.416666666666686" fill="#5b9bd5"/>
<line x1="395.3" y1="462.7125" x2="395.3" y2="463.85416666666663" stroke="#222" stroke-width="0.5"/>
<line x1="394.7" y1="462.7125" x2="395.90000000000003" y2="462.7125" stroke="#222" stroke-width="0.5"/>
<rect x="397.3" y="425.60833333333335" width="3.0" height="49.09166666666664" fill="#e0861a"/>
<line x1="398.8" y1="420.47083333333336" x2="398.8" y2="430.74583333333334" stroke="#222" stroke-width="0.5"/>
<line x1="398.2" y1="420.47083333333336" x2="399.40000000000003" y2="420.47083333333336" stroke="#222" stroke-width="0.5"/>
<text x="399.1" y="420.77083333333337" font-size="4.4" text-anchor="middle" font-weight="normal" fill="#111" stroke="#111" stroke-width="0.12">**</text>
<rect x="400.7" y="429.0333333333333" width="3.0" height="45.666666666666686" fill="#c3c3c8"/>
<line x1="402.2" y1="426.74999999999994" x2="402.2" y2="431.31666666666666" stroke="#222" stroke-width="0.5"/>
<line x1="401.59999999999997" y1="426.74999999999994" x2="402.8" y2="426.74999999999994" stroke="#222" stroke-width="0.5"/>
<text x="402.5" y="427.04999999999995" font-size="4.4" text-anchor="middle" font-weight="normal" fill="#111" stroke="#111" stroke-width="0.12">**</text>
<line x1="330.5" y1="404.3" x2="330.5" y2="475.09999999999997" stroke="#000" stroke-width="0.9"/>
<line x1="330.2" y1="474.7" x2="407.5" y2="474.7" stroke="#000" stroke-width="0.9"/>
<text x="0" y="0" font-size="5.5" text-anchor="end" font-weight="normal" fill="#222" transform="translate(343.5,480.7) rotate(-45)" stroke="#222" stroke-width="0.12">Cyclin D1/Actin</text>
<text x="0" y="0" font-size="5.5" text-anchor="end" font-weight="normal" fill="#222" transform="translate(363.4,480.7) rotate(-45)" stroke="#222" stroke-width="0.12">CDK6/Actin</text>
<text x="0" y="0" font-size="5.5" text-anchor="end" font-weight="normal" fill="#222" transform="translate(382.7,480.7) rotate(-45)" stroke="#222" stroke-width="0.12">p-Rb/Actin</text>
<text x="0" y="0" font-size="5.5" text-anchor="end" font-weight="normal" fill="#222" transform="translate(401.8,480.7) rotate(-45)" stroke="#222" stroke-width="0.12">p21/Actin</text>
<text x="0" y="0" font-size="6.2" text-anchor="middle" font-weight="normal" fill="#222" transform="translate(312.2,439.8) rotate(-90)" textLength="49.5" lengthAdjust="spacingAndGlyphs" stroke="#222" stroke-width="0.12">Relative expression</text>
<text x="369.3" y="400" font-size="7.7" text-anchor="middle" font-weight="normal" fill="#1a1a1a" textLength="23.8" lengthAdjust="spacingAndGlyphs" stroke="#1a1a1a" stroke-width="0.22">BCBL-1</text>
<line x1="357.1" y1="400.7" x2="381.5" y2="400.7" stroke="#444" stroke-width="0.6"/>
<line x1="432.0" y1="474.5" x2="435.2" y2="474.5" stroke="#000" stroke-width="0.7"/>
<text x="428.4" y="476.3" font-size="5.1" text-anchor="end" font-weight="normal" fill="#222" stroke="#222" stroke-width="0.12">0.0</text>
<line x1="432.0" y1="461.0" x2="435.2" y2="461.0" stroke="#000" stroke-width="0.7"/>
<text x="428.4" y="462.8" font-size="5.1" text-anchor="end" font-weight="normal" fill="#222" stroke="#222" stroke-width="0.12">0.5</text>
<line x1="432.0" y1="447.5" x2="435.2" y2="447.5" stroke="#000" stroke-width="0.7"/>
<text x="428.4" y="449.3" font-size="5.1" text-anchor="end" font-weight="normal" fill="#222" stroke="#222" stroke-width="0.12">1.0</text>
<line x1="432.0" y1="434.0" x2="435.2" y2="434.0" stroke="#000" stroke-width="0.7"/>
<text x="428.4" y="435.8" font-size="5.1" text-anchor="end" font-weight="normal" fill="#222" stroke="#222" stroke-width="0.12">1.5</text>
<line x1="432.0" y1="420.5" x2="435.2" y2="420.5" stroke="#000" stroke-width="0.7"/>
<text x="428.4" y="422.3" font-size="5.1" text-anchor="end" font-weight="normal" fill="#222" stroke="#222" stroke-width="0.12">2.0</text>
<line x1="432.0" y1="407.0" x2="435.2" y2="407.0" stroke="#000" stroke-width="0.7"/>
<text x="428.4" y="408.8" font-size="5.1" text-anchor="end" font-weight="normal" fill="#222" stroke="#222" stroke-width="0.12">2.5</text>
<rect x="440.8" y="447.5" width="3.0" height="27.0" fill="#5b9bd5"/>
<line x1="442.3" y1="446.69" x2="442.3" y2="448.31" stroke="#222" stroke-width="0.5"/>
<line x1="441.7" y1="446.69" x2="442.90000000000003" y2="446.69" stroke="#222" stroke-width="0.5"/>
<rect x="444.1" y="473.15" width="3.0" height="1.3500000000000227" fill="#e0861a"/>
<line x1="445.6" y1="472.88" x2="445.6" y2="473.41999999999996" stroke="#222" stroke-width="0.5"/>
<line x1="445.0" y1="472.88" x2="446.20000000000005" y2="472.88" stroke="#222" stroke-width="0.5"/>
<text x="445.90000000000003" y="471.54999999999995" font-size="4.4" text-anchor="middle" font-weight="normal" fill="#111" stroke="#111" stroke-width="0.12">**</text>
<rect x="447.40000000000003" y="473.69" width="3.0" height="0.8100000000000023" fill="#c3c3c8"/>
<line x1="448.90000000000003" y1="473.42" x2="448.90000000000003" y2="473.96" stroke="#222" stroke-width="0.5"/>
<line x1="448.3" y1="473.42" x2="449.50000000000006" y2="473.42" stroke="#222" stroke-width="0.5"/>
<text x="449.20000000000005" y="472.09" font-size="4.4" text-anchor="middle" font-weight="normal" fill="#111" stroke="#111" stroke-width="0.12">**</text>
<rect x="460.1" y="447.5" width="3.0" height="27.0" fill="#5b9bd5"/>
<line x1="461.6" y1="446.69" x2="461.6" y2="448.31" stroke="#222" stroke-width="0.5"/>
<line x1="461.0" y1="446.69" x2="462.20000000000005" y2="446.69" stroke="#222" stroke-width="0.5"/>
<rect x="463.40000000000003" y="469.1" width="3.0" height="5.399999999999977" fill="#e0861a"/>
<line x1="464.90000000000003" y1="468.29" x2="464.90000000000003" y2="469.91" stroke="#222" stroke-width="0.5"/>
<line x1="464.3" y1="468.29" x2="465.50000000000006" y2="468.29" stroke="#222" stroke-width="0.5"/>
<text x="465.20000000000005" y="467.5" font-size="4.4" text-anchor="middle" font-weight="normal" fill="#111" stroke="#111" stroke-width="0.12">**</text>
<rect x="466.70000000000005" y="471.8" width="3.0" height="2.6999999999999886" fill="#c3c3c8"/>
<line x1="468.20000000000005" y1="471.26" x2="468.20000000000005" y2="472.34000000000003" stroke="#222" stroke-width="0.5"/>
<line x1="467.6" y1="471.26" x2="468.80000000000007" y2="471.26" stroke="#222" stroke-width="0.5"/>
<text x="468.50000000000006" y="470.2" font-size="4.4" text-anchor="middle" font-weight="normal" fill="#111" stroke="#111" stroke-width="0.12">**</text>
<rect x="479.7" y="447.5" width="3.0" height="27.0" fill="#5b9bd5"/>
<line x1="481.2" y1="446.69" x2="481.2" y2="448.31" stroke="#222" stroke-width="0.5"/>
<line x1="480.59999999999997" y1="446.69" x2="481.8" y2="446.69" stroke="#222" stroke-width="0.5"/>
<rect x="483.0" y="470.45" width="3.0" height="4.050000000000011" fill="#e0861a"/>
<line x1="484.5" y1="469.64" x2="484.5" y2="471.26" stroke="#222" stroke-width="0.5"/>
<line x1="483.9" y1="469.64" x2="485.1" y2="469.64" stroke="#222" stroke-width="0.5"/>
<text x="484.8" y="468.84999999999997" font-size="4.4" text-anchor="middle" font-weight="normal" fill="#111" stroke="#111" stroke-width="0.12">**</text>
<rect x="486.3" y="473.15" width="3.0" height="1.3500000000000227" fill="#c3c3c8"/>
<line x1="487.8" y1="472.88" x2="487.8" y2="473.41999999999996" stroke="#222" stroke-width="0.5"/>
<line x1="487.2" y1="472.88" x2="488.40000000000003" y2="472.88" stroke="#222" stroke-width="0.5"/>
<text x="488.1" y="471.54999999999995" font-size="4.4" text-anchor="middle" font-weight="normal" fill="#111" stroke="#111" stroke-width="0.12">**</text>
<rect x="498.9" y="447.5" width="3.0" height="27.0" fill="#5b9bd5"/>
<line x1="500.4" y1="446.69" x2="500.4" y2="448.31" stroke="#222" stroke-width="0.5"/>
<line x1="499.79999999999995" y1="446.69" x2="501.0" y2="446.69" stroke="#222" stroke-width="0.5"/>
<rect x="502.2" y="429.95" width="3.0" height="44.55000000000001" fill="#e0861a"/>
<line x1="503.7" y1="425.9" x2="503.7" y2="434.0" stroke="#222" stroke-width="0.5"/>
<line x1="503.09999999999997" y1="425.9" x2="504.3" y2="425.9" stroke="#222" stroke-width="0.5"/>
<text x="504.0" y="426.2" font-size="4.4" text-anchor="middle" font-weight="normal" fill="#111" stroke="#111" stroke-width="0.12">**</text>
<rect x="505.5" y="417.26" width="3.0" height="57.24000000000001" fill="#c3c3c8"/>
<line x1="507.0" y1="410.51" x2="507.0" y2="424.01" stroke="#222" stroke-width="0.5"/>
<line x1="506.4" y1="410.51" x2="507.6" y2="410.51" stroke="#222" stroke-width="0.5"/>
<text x="507.3" y="410.81" font-size="4.4" text-anchor="middle" font-weight="normal" fill="#111" stroke="#111" stroke-width="0.12">**</text>
<line x1="435.2" y1="404.6" x2="435.2" y2="474.9" stroke="#000" stroke-width="0.9"/>
<line x1="434.9" y1="474.5" x2="512.7" y2="474.5" stroke="#000" stroke-width="0.9"/>
<text x="0" y="0" font-size="5.5" text-anchor="end" font-weight="normal" fill="#222" transform="translate(448.6,480.5) rotate(-45)" stroke="#222" stroke-width="0.12">Cyclin D1/Actin</text>
<text x="0" y="0" font-size="5.5" text-anchor="end" font-weight="normal" fill="#222" transform="translate(467.90000000000003,480.5) rotate(-45)" stroke="#222" stroke-width="0.12">CDK6/Actin</text>
<text x="0" y="0" font-size="5.5" text-anchor="end" font-weight="normal" fill="#222" transform="translate(487.5,480.5) rotate(-45)" stroke="#222" stroke-width="0.12">p-Rb/Actin</text>
<text x="0" y="0" font-size="5.5" text-anchor="end" font-weight="normal" fill="#222" transform="translate(506.7,480.5) rotate(-45)" stroke="#222" stroke-width="0.12">p21/Actin</text>
<text x="0" y="0" font-size="6.2" text-anchor="middle" font-weight="normal" fill="#222" transform="translate(417.3,439.6) rotate(-90)" textLength="49.5" lengthAdjust="spacingAndGlyphs" stroke="#222" stroke-width="0.12">Relative expression</text>
<text x="474.35" y="400" font-size="7.7" text-anchor="middle" font-weight="normal" fill="#1a1a1a" textLength="19.9" lengthAdjust="spacingAndGlyphs" stroke="#1a1a1a" stroke-width="0.22">BCP-1</text>
<line x1="464.1" y1="400.7" x2="484.6" y2="400.7" stroke="#444" stroke-width="0.6"/>
<rect x="397.8" y="383.2" width="4.1" height="3.8" fill="#5b9bd5"/>
<text x="404.2" y="386.8" font-size="5.1" text-anchor="start" font-weight="normal" fill="#222" stroke="#222" stroke-width="0.12">Vehicle</text>
<rect x="397.8" y="390.34999999999997" width="4.1" height="3.8" fill="#e0861a"/>
<text x="404.2" y="393.7" font-size="5.1" text-anchor="start" font-weight="normal" fill="#222" stroke="#222" stroke-width="0.12">315</text>
<rect x="397.8" y="397.5" width="4.1" height="3.8" fill="#c3c3c8"/>
<text x="404.2" y="400.6" font-size="5.1" text-anchor="start" font-weight="normal" fill="#222" stroke="#222" stroke-width="0.12">403</text>
<path d="M46.20,344.20 L46.20,344.20 L46.32,344.20 L46.44,344.20 L46.56,344.20 L46.67,344.20 L46.79,344.20 L46.91,344.20 L47.03,344.20 L47.15,344.20 L47.27,344.20 L47.39,344.20 L47.50,344.20 L47.62,344.20 L47.74,344.20 L47.86,344.20 L47.98,344.20 L48.10,344.20 L48.22,344.20 L48.33,344.20 L48.45,344.20 L48.57,344.20 L48.69,344.20 L48.81,344.20 L48.93,344.20 L49.05,344.20 L49.17,344.20 L49.28,344.20 L49.40,344.20 L49.52,344.20 L49.64,344.20 L49.76,344.20 L49.88,344.20 L50.00,344.20 L50.11,344.20 L50.23,344.20 L50.35,344.20 L50.47,344.20 L50.59,344.20 L50.71,344.20 L50.83,344.20 L50.94,344.20 L51.06,344.20 L51.18,344.20 L51.30,344.20 L51.42,344.20 L51.54,344.20 L51.66,344.20 L51.77,344.20 L51.89,344.20 L52.01,344.20 L52.13,344.20 L52.25,344.20 L52.37,344.20 L52.49,344.20 L52.60,344.20 L52.72,344.20 L52.84,344.20 L52.96,344.20 L53.08,344.20 L53.20,344.20 L53.32,344.20 L53.43,344.20 L53.55,344.20 L53.67,344.20 L53.79,344.20 L53.91,344.20 L54.03,344.20 L54.15,344.20 L54.26,344.20 L54.38,344.20 L54.50,344.20 L54.62,344.20 L54.74,344.20 L54.86,344.20 L54.98,344.20 L55.09,344.20 L55.21,344.20 L55.33,344.20 L55.45,344.20 L55.57,344.20 L55.69,344.19 L55.81,344.19 L55.93,344.18 L56.04,344.17 L56.16,344.16 L56.28,344.13 L56.40,344.10 L56.52,344.06 L56.64,344.00 L56.76,343.92 L56.87,343.83 L56.99,343.71 L57.11,343.58 L57.23,343.44 L57.35,343.29 L57.47,343.14 L57.59,343.00 L57.70,342.88 L57.82,342.78 L57.94,342.72 L58.06,342.70 L58.18,342.72 L58.30,342.78 L58.42,342.88 L58.53,343.00 L58.65,343.14 L58.77,343.29 L58.89,343.44 L59.01,343.58 L59.13,343.71 L59.25,343.83 L59.36,339.32 L59.48,339.40 L59.60,339.46 L59.72,339.50 L59.84,339.53 L59.96,339.56 L60.08,339.57 L60.19,339.58 L60.31,339.59 L60.43,339.59 L60.55,339.60 L60.67,339.60 L60.79,339.60 L60.91,339.60 L61.03,339.60 L61.14,339.60 L61.26,339.60 L61.38,339.60 L61.50,339.60 L61.62,339.60 L61.74,339.60 L61.86,339.60 L61.97,339.60 L62.09,339.60 L62.21,339.60 L62.33,339.60 L62.45,339.60 L62.57,339.60 L62.69,339.60 L62.80,339.60 L62.92,339.60 L63.04,339.60 L63.16,339.60 L63.28,339.60 L63.40,339.60 L63.52,339.60 L63.63,339.60 L63.75,339.60 L63.87,339.60 L63.99,339.60 L64.11,339.60 L64.23,339.60 L64.35,339.60 L64.46,339.60 L64.58,339.60 L64.70,339.60 L64.82,339.60 L64.94,339.60 L65.06,339.60 L65.18,339.60 L65.29,339.60 L65.41,339.60 L65.53,339.60 L65.65,339.60 L65.77,339.60 L65.89,339.60 L66.01,339.60 L66.12,339.60 L66.24,339.60 L66.36,339.60 L66.48,339.60 L66.60,339.60 L66.72,339.60 L66.84,339.60 L66.95,339.60 L67.07,339.60 L67.19,339.60 L67.31,339.60 L67.43,339.60 L67.55,339.60 L67.67,339.60 L67.79,339.60 L67.90,339.60 L68.02,339.60 L68.14,339.60 L68.26,339.60 L68.38,339.60 L68.50,339.60 L68.62,339.60 L68.73,339.60 L68.85,339.60 L68.97,339.60 L69.09,339.60 L69.21,344.20 L69.33,344.20 L69.45,344.20 L69.56,344.20 L69.68,344.20 L69.80,344.20 L69.92,344.20 L70.04,344.20 L70.16,344.20 L70.28,344.20 L70.39,344.20 L70.51,344.20 L70.63,344.20 L70.75,344.20 L70.87,344.20 L70.99,344.20 L71.11,344.20 L71.22,344.20 L71.34,344.20 L71.46,344.20 L71.58,344.20 L71.70,344.20 L71.82,344.20 L71.94,344.20 L72.05,344.20 L72.17,344.20 L72.29,344.20 L72.41,344.20 L72.53,344.20 L72.65,344.20 L72.77,344.20 L72.89,344.20 L73.00,344.20 L73.12,344.20 L73.24,344.20 L73.36,344.20 L73.48,344.20 L73.60,344.20 L73.72,344.20 L73.83,344.20 L73.95,344.20 L74.07,344.20 L74.19,344.20 L74.31,344.20 L74.43,344.20 L74.55,344.20 L74.66,344.20 L74.78,344.20 L74.90,344.20 L75.02,344.20 L75.14,344.20 L75.26,344.20 L75.38,344.20 L75.49,344.20 L75.61,344.20 L75.73,344.20 L75.85,344.20 L75.97,344.20 L76.09,344.20 L76.21,344.20 L76.32,344.20 L76.44,344.20 L76.56,344.20 L76.68,344.20 L76.80,344.20 L76.92,344.20 L77.04,344.20 L77.15,344.20 L77.27,344.20 L77.39,344.20 L77.51,344.20 L77.63,344.20 L77.75,344.20 L77.87,344.20 L77.98,344.20 L78.10,344.20 L78.22,344.20 L78.34,344.20 L78.46,344.20 L78.58,344.20 L78.70,344.20 L78.81,344.20 L78.93,344.20 L79.05,344.20 L79.17,344.20 L79.29,344.20 L79.41,344.20 L79.53,344.20 L79.65,344.20 L79.76,344.20 L79.88,344.20 L80.00,344.20 L80.12,344.20 L80.24,344.20 L80.36,344.20 L80.48,344.20 L80.59,344.20 L80.71,344.20 L80.83,344.20 L80.95,344.20 L81.07,344.20 L81.19,344.20 L81.31,344.20 L81.42,344.20 L81.54,344.20 L81.66,344.20 L81.78,344.20 L81.90,344.20 L82.02,344.20 L82.14,344.20 L82.25,344.20 L82.37,344.20 L82.49,344.20 L82.61,344.20 L82.73,344.20 L82.85,344.20 L82.97,344.20 L83.08,344.20 L83.20,344.20 L83.32,344.20 L83.44,344.20 L83.56,344.20 L83.68,344.20 L83.80,344.20 L83.91,344.20 L84.03,344.20 L84.15,344.20 L84.27,344.20 L84.39,344.20 L84.51,344.20 L84.63,344.20 L84.75,344.20 L84.86,344.20 L84.98,344.20 L85.10,344.20 L85.22,344.20 L85.34,344.20 L85.46,344.20 L85.58,344.20 L85.69,344.20 L85.81,344.20 L85.93,344.20 L86.05,344.20 L86.17,344.20 L86.29,344.20 L86.41,344.20 L86.52,344.20 L86.64,344.20 L86.76,344.20 L86.88,344.20 L87.00,344.20 L87.12,344.20 L87.24,344.20 L87.35,344.20 L87.47,344.20 L87.59,344.20 L87.71,344.20 L87.83,344.20 L87.95,344.20 L88.07,344.20 L88.18,344.20 L88.30,344.20 L88.42,344.20 L88.54,344.20 L88.66,344.20 L88.78,344.20 L88.90,344.20 L89.01,344.20 L89.13,344.20 L89.25,344.20 L89.37,344.20 L89.49,344.20 L89.61,344.20 L89.73,344.20 L89.84,344.20 L89.96,344.20 L90.08,344.20 L90.20,344.20 L90.32,344.20 L90.44,344.20 L90.56,344.20 L90.68,344.20 L90.79,344.20 L90.91,344.20 L91.03,344.20 L91.15,344.20 L91.27,344.20 L91.39,344.20 L91.51,344.20 L91.62,344.20 L91.74,344.20 L91.86,344.20 L91.98,344.20 L92.10,344.20 L92.22,344.20 L92.34,344.20 L92.45,344.20 L92.57,344.20 L92.69,344.20 L92.81,344.20 L92.93,344.20 L93.05,344.20 L93.17,344.20 L93.28,344.20 L93.40,344.20 L93.52,344.20 L93.64,344.20 L93.64,344.20 Z" fill="#c9d3e8" stroke="#333" stroke-width="0.35"/>
<path d="M56.40,344.20 L56.40,344.18 L56.52,344.17 L56.64,344.16 L56.76,344.13 L56.87,344.10 L56.99,344.02 L57.11,343.87 L57.23,343.54 L57.35,342.88 L57.47,341.62 L57.59,339.39 L57.70,335.78 L57.82,330.45 L57.94,323.32 L58.06,314.77 L58.18,305.75 L58.30,297.64 L58.42,291.98 L58.53,289.96 L58.65,292.03 L58.77,297.74 L58.89,305.89 L59.01,314.95 L59.13,323.52 L59.25,330.66 L59.36,335.07 L59.48,338.67 L59.60,340.88 L59.72,342.12 L59.84,342.76 L59.96,343.06 L60.08,343.20 L60.19,343.25 L60.31,343.27 L60.43,343.28 L60.55,343.28 L60.67,343.28 L60.67,344.20 Z" fill="#a01029" stroke="#3a0a12" stroke-width="0.25"/>
<path d="M67.55,344.20 L67.55,343.28 L67.67,343.28 L67.79,343.28 L67.90,343.28 L68.02,343.27 L68.14,343.26 L68.26,343.25 L68.38,343.22 L68.50,343.17 L68.62,343.09 L68.73,342.96 L68.85,342.75 L68.97,342.44 L69.09,342.00 L69.21,342.31 L69.33,341.52 L69.45,340.53 L69.56,339.35 L69.68,338.03 L69.80,336.64 L69.92,335.27 L70.04,334.04 L70.16,333.06 L70.28,332.42 L70.39,332.20 L70.51,332.42 L70.63,333.06 L70.75,334.04 L70.87,335.27 L70.99,336.64 L71.11,338.03 L71.22,339.35 L71.34,340.53 L71.46,341.52 L71.58,342.31 L71.70,342.92 L71.82,343.36 L71.94,343.67 L72.05,343.88 L72.17,344.01 L72.29,344.09 L72.41,344.14 L72.53,344.17 L72.65,344.18 L72.77,344.19 L72.89,344.20 L73.00,344.20 L73.12,344.20 L73.24,344.20 L73.24,344.20 Z" fill="#a01029" stroke="#3a0a12" stroke-width="0.25"/>
<line x1="46.2" y1="288.7" x2="46.2" y2="344.2" stroke="#000" stroke-width="0.7"/>
<line x1="46.2" y1="344.2" x2="107.0" y2="344.2" stroke="#000" stroke-width="0.7"/>
<line x1="46.20" y1="344.2" x2="46.20" y2="345.4" stroke="#000" stroke-width="0.35"/><line x1="48.57" y1="344.2" x2="48.57" y2="344.9" stroke="#000" stroke-width="0.35"/><line x1="50.94" y1="344.2" x2="50.94" y2="344.9" stroke="#000" stroke-width="0.35"/><line x1="53.32" y1="344.2" x2="53.32" y2="344.9" stroke="#000" stroke-width="0.35"/><line x1="55.69" y1="344.2" x2="55.69" y2="344.9" stroke="#000" stroke-width="0.35"/><line x1="58.06" y1="344.2" x2="58.06" y2="345.4" stroke="#000" stroke-width="0.35"/><line x1="60.43" y1="344.2" x2="60.43" y2="344.9" stroke="#000" stroke-width="0.35"/><line x1="62.80" y1="344.2" x2="62.80" y2="344.9" stroke="#000" stroke-width="0.35"/><line x1="65.18" y1="344.2" x2="65.18" y2="344.9" stroke="#000" stroke-width="0.35"/><line x1="67.55" y1="344.2" x2="67.55" y2="344.9" stroke="#000" stroke-width="0.35"/><line x1="69.92" y1="344.2" x2="69.92" y2="345.4" stroke="#000" stroke-width="0.35"/><line x1="72.29" y1="344.2" x2="72.29" y2="344.9" stroke="#000" stroke-width="0.35"/><line x1="74.66" y1="344.2" x2="74.66" y2="344.9" stroke="#000" stroke-width="0.35"/><line x1="77.04" y1="344.2" x2="77.04" y2="344.9" stroke="#000" stroke-width="0.35"/><line x1="79.41" y1="344.2" x2="79.41" y2="344.9" stroke="#000" stroke-width="0.35"/><line x1="81.78" y1="344.2" x2="81.78" y2="345.4" stroke="#000" stroke-width="0.35"/><line x1="84.15" y1="344.2" x2="84.15" y2="344.9" stroke="#000" stroke-width="0.35"/><line x1="86.52" y1="344.2" x2="86.52" y2="344.9" stroke="#000" stroke-width="0.35"/><line x1="88.90" y1="344.2" x2="88.90" y2="344.9" stroke="#000" stroke-width="0.35"/><line x1="91.27" y1="344.2" x2="91.27" y2="344.9" stroke="#000" stroke-width="0.35"/><line x1="93.64" y1="344.2" x2="93.64" y2="345.4" stroke="#000" stroke-width="0.35"/><line x1="96.01" y1="344.2" x2="96.01" y2="344.9" stroke="#000" stroke-width="0.35"/><line x1="98.38" y1="344.2" x2="98.38" y2="344.9" stroke="#000" stroke-width="0.35"/><line x1="100.76" y1="344.2" x2="100.76" y2="344.9" stroke="#000" stroke-width="0.35"/><line x1="103.13" y1="344.2" x2="103.13" y2="344.9" stroke="#000" stroke-width="0.35"/><line x1="105.50" y1="344.2" x2="105.50" y2="345.4" stroke="#000" stroke-width="0.35"/><line x1="45.5" y1="344.20" x2="46.2" y2="344.20" stroke="#000" stroke-width="0.35"/><line x1="45.5" y1="342.00" x2="46.2" y2="342.00" stroke="#000" stroke-width="0.35"/><line x1="45.5" y1="339.80" x2="46.2" y2="339.80" stroke="#000" stroke-width="0.35"/><line x1="45.5" y1="337.60" x2="46.2" y2="337.60" stroke="#000" stroke-width="0.35"/><line x1="45.5" y1="335.40" x2="46.2" y2="335.40" stroke="#000" stroke-width="0.35"/><line x1="45.5" y1="333.20" x2="46.2" y2="333.20" stroke="#000" stroke-width="0.35"/><line x1="45.5" y1="331.00" x2="46.2" y2="331.00" stroke="#000" stroke-width="0.35"/><line x1="45.5" y1="328.80" x2="46.2" y2="328.80" stroke="#000" stroke-width="0.35"/><line x1="45.5" y1="326.60" x2="46.2" y2="326.60" stroke="#000" stroke-width="0.35"/><line x1="45.5" y1="324.40" x2="46.2" y2="324.40" stroke="#000" stroke-width="0.35"/><line x1="45.5" y1="322.20" x2="46.2" y2="322.20" stroke="#000" stroke-width="0.35"/><line x1="45.5" y1="320.00" x2="46.2" y2="320.00" stroke="#000" stroke-width="0.35"/><line x1="45.5" y1="317.80" x2="46.2" y2="317.80" stroke="#000" stroke-width="0.35"/><line x1="45.5" y1="315.60" x2="46.2" y2="315.60" stroke="#000" stroke-width="0.35"/><line x1="45.5" y1="313.40" x2="46.2" y2="313.40" stroke="#000" stroke-width="0.35"/><line x1="45.5" y1="311.20" x2="46.2" y2="311.20" stroke="#000" stroke-width="0.35"/><line x1="45.5" y1="309.00" x2="46.2" y2="309.00" stroke="#000" stroke-width="0.35"/><line x1="45.5" y1="306.80" x2="46.2" y2="306.80" stroke="#000" stroke-width="0.35"/><line x1="45.5" y1="304.60" x2="46.2" y2="304.60" stroke="#000" stroke-width="0.35"/><line x1="45.5" y1="302.40" x2="46.2" y2="302.40" stroke="#000" stroke-width="0.35"/><line x1="45.5" y1="300.20" x2="46.2" y2="300.20" stroke="#000" stroke-width="0.35"/><line x1="45.5" y1="298.00" x2="46.2" y2="298.00" stroke="#000" stroke-width="0.35"/><line x1="45.5" y1="295.80" x2="46.2" y2="295.80" stroke="#000" stroke-width="0.35"/><line x1="45.5" y1="293.60" x2="46.2" y2="293.60" stroke="#000" stroke-width="0.35"/><line x1="45.5" y1="291.40" x2="46.2" y2="291.40" stroke="#000" stroke-width="0.35"/><line x1="45.5" y1="289.20" x2="46.2" y2="289.20" stroke="#000" stroke-width="0.35"/>
<text x="41.800000000000004" y="301.5" font-size="4.9" text-anchor="end" font-weight="normal" fill="#222" stroke="#222" stroke-width="0.12">4000</text>
<text x="41.800000000000004" y="312.7" font-size="4.9" text-anchor="end" font-weight="normal" fill="#222" stroke="#222" stroke-width="0.12">3000</text>
<text x="41.800000000000004" y="323.7" font-size="4.9" text-anchor="end" font-weight="normal" fill="#222" stroke="#222" stroke-width="0.12">2000</text>
<text x="41.800000000000004" y="334.7" font-size="4.9" text-anchor="end" font-weight="normal" fill="#222" stroke="#222" stroke-width="0.12">1000</text>
<text x="41.800000000000004" y="345.9" font-size="4.9" text-anchor="end" font-weight="normal" fill="#222" stroke="#222" stroke-width="0.12">0</text>
<text x="46.2" y="352.7" font-size="4.9" text-anchor="middle" font-weight="normal" fill="#222" stroke="#222" stroke-width="0.12">0</text>
<text x="58.06" y="352.7" font-size="4.9" text-anchor="middle" font-weight="normal" fill="#222" stroke="#222" stroke-width="0.12">50</text>
<text x="69.92" y="352.7" font-size="4.9" text-anchor="middle" font-weight="normal" fill="#222" stroke="#222" stroke-width="0.12">100</text>
<text x="81.78" y="352.7" font-size="4.9" text-anchor="middle" font-weight="normal" fill="#222" stroke="#222" stroke-width="0.12">150</text>
<text x="93.64" y="352.7" font-size="4.9" text-anchor="middle" font-weight="normal" fill="#222" stroke="#222" stroke-width="0.12">200</text>
<text x="105.5" y="352.7" font-size="4.9" text-anchor="middle" font-weight="normal" fill="#222" stroke="#222" stroke-width="0.12">250</text>
<text x="76.7395" y="361.9" font-size="7.2" text-anchor="middle" font-weight="normal" fill="#222" textLength="41" lengthAdjust="spacingAndGlyphs" stroke="#222" stroke-width="0.12">Channels (PE-A)</text>
<text x="0" y="0" font-size="7.0" text-anchor="middle" font-weight="normal" fill="#222" transform="translate(25.900000000000002,316.95) rotate(-90)" textLength="21.5" lengthAdjust="spacingAndGlyphs" stroke="#222" stroke-width="0.12">Number</text>
<rect x="68.10000000000001" y="292.5" width="3.7" height="3.7" fill="#a01029" stroke="#333" stroke-width="0.6"/>
<text x="0" y="0" font-size="4.8" text-anchor="start" font-weight="normal" fill="#222" transform="translate(73.60000000000001,295.8) scale(0.83,1)" stroke="#222" stroke-width="0.12">G1</text>
<text x="0" y="0" font-size="4.8" text-anchor="start" font-weight="normal" fill="#222" transform="translate(85.9,295.8) scale(0.83,1)" stroke="#222" stroke-width="0.12">42%</text>
<rect x="68.10000000000001" y="298.0" width="3.7" height="3.7" fill="#fff" stroke="#333" stroke-width="0.6"/>
<text x="0" y="0" font-size="4.8" text-anchor="start" font-weight="normal" fill="#222" transform="translate(76.80000000000001,301.3) scale(0.83,1)" stroke="#222" stroke-width="0.12">S</text>
<text x="0" y="0" font-size="4.8" text-anchor="start" font-weight="normal" fill="#222" transform="translate(85.9,301.3) scale(0.83,1)" stroke="#222" stroke-width="0.12">43%</text>
<rect x="68.10000000000001" y="303.5" width="3.7" height="3.7" fill="#a01029" stroke="#333" stroke-width="0.6"/>
<text x="0" y="0" font-size="4.8" text-anchor="start" font-weight="normal" fill="#222" transform="translate(73.60000000000001,306.8) scale(0.83,1)" stroke="#222" stroke-width="0.12">G2/M</text>
<text x="0" y="0" font-size="4.8" text-anchor="start" font-weight="normal" fill="#222" transform="translate(85.9,306.8) scale(0.83,1)" stroke="#222" stroke-width="0.12">15%</text>
<path d="M137.40,344.20 L137.40,337.20 L137.52,338.47 L137.64,339.51 L137.76,340.36 L137.87,341.05 L137.99,341.62 L138.11,342.09 L138.23,342.47 L138.35,342.79 L138.47,343.04 L138.59,343.25 L138.70,342.62 L138.82,342.76 L138.94,342.88 L139.06,342.97 L139.18,343.05 L139.30,343.11 L139.42,343.17 L139.53,343.21 L139.65,343.24 L139.77,343.27 L139.89,343.30 L140.01,343.31 L140.13,343.33 L140.25,343.34 L140.37,343.35 L140.48,343.36 L140.60,343.37 L140.72,343.37 L140.84,343.38 L140.96,343.38 L141.08,343.39 L141.20,343.39 L141.31,343.39 L141.43,343.39 L141.55,343.39 L141.67,343.39 L141.79,343.40 L141.91,343.40 L142.03,343.40 L142.14,343.40 L142.26,343.40 L142.38,343.40 L142.50,343.40 L142.62,343.40 L142.74,343.40 L142.86,343.40 L142.97,343.40 L143.09,343.40 L143.21,343.40 L143.33,343.40 L143.45,343.40 L143.57,343.40 L143.69,343.40 L143.80,343.40 L143.92,343.40 L144.04,343.40 L144.16,343.40 L144.28,343.40 L144.40,343.40 L144.52,343.40 L144.63,343.40 L144.75,343.40 L144.87,343.40 L144.99,343.40 L145.11,343.40 L145.23,343.40 L145.35,343.40 L145.46,343.40 L145.58,343.40 L145.70,343.40 L145.82,343.40 L145.94,343.40 L146.06,343.40 L146.18,343.40 L146.30,343.40 L146.41,343.40 L146.53,343.40 L146.65,343.40 L146.77,343.40 L146.89,343.40 L147.01,343.40 L147.13,343.40 L147.24,343.40 L147.36,343.40 L147.48,343.40 L147.60,343.40 L147.72,343.40 L147.84,343.40 L147.96,343.40 L148.07,343.40 L148.19,343.40 L148.31,343.40 L148.43,343.40 L148.55,343.40 L148.67,343.40 L148.79,343.40 L148.90,343.40 L149.02,343.40 L149.14,343.40 L149.26,343.40 L149.38,343.40 L149.50,343.40 L149.62,343.40 L149.73,343.40 L149.85,343.40 L149.97,343.40 L150.09,343.40 L150.21,343.40 L150.33,343.40 L150.45,343.40 L150.56,343.40 L150.68,343.40 L150.80,343.40 L150.92,343.40 L151.04,343.40 L151.16,343.40 L151.28,343.40 L151.39,343.40 L151.51,343.40 L151.63,343.40 L151.75,343.40 L151.87,343.40 L151.99,343.40 L152.11,343.40 L152.22,343.40 L152.34,343.40 L152.46,343.40 L152.58,343.40 L152.70,343.40 L152.82,343.40 L152.94,343.40 L153.06,343.40 L153.17,343.40 L153.29,343.40 L153.41,343.40 L153.53,343.40 L153.65,343.40 L153.77,343.40 L153.89,343.40 L154.00,343.40 L154.12,343.40 L154.24,343.40 L154.36,343.40 L154.48,343.40 L154.60,343.40 L154.72,343.40 L154.83,343.40 L154.95,343.40 L155.07,343.40 L155.19,343.40 L155.31,343.40 L155.43,343.40 L155.55,343.40 L155.66,343.40 L155.78,343.40 L155.90,343.40 L156.02,343.40 L156.14,343.40 L156.26,343.40 L156.38,343.40 L156.49,343.40 L156.61,343.40 L156.73,343.40 L156.85,343.40 L156.97,343.40 L157.09,343.40 L157.21,343.40 L157.32,343.40 L157.44,343.40 L157.56,343.40 L157.68,343.40 L157.80,343.40 L157.92,343.40 L158.04,343.40 L158.16,343.40 L158.27,343.40 L158.39,343.40 L158.51,343.40 L158.63,343.40 L158.75,343.40 L158.87,343.40 L158.99,343.40 L159.10,343.40 L159.22,343.40 L159.34,343.40 L159.46,343.40 L159.58,343.40 L159.70,343.40 L159.82,343.40 L159.93,343.40 L160.05,343.40 L160.17,343.40 L160.29,343.40 L160.41,343.40 L160.53,343.40 L160.65,343.40 L160.76,343.40 L160.88,343.40 L161.00,343.40 L161.12,343.40 L161.24,343.40 L161.36,343.40 L161.48,343.40 L161.59,343.40 L161.71,343.40 L161.83,343.40 L161.95,343.40 L162.07,343.40 L162.19,343.40 L162.31,343.40 L162.42,343.40 L162.54,343.40 L162.66,343.40 L162.78,343.40 L162.90,343.40 L163.02,343.40 L163.14,343.40 L163.25,343.40 L163.37,343.40 L163.49,343.40 L163.61,343.40 L163.73,343.40 L163.85,343.40 L163.97,343.40 L164.09,343.40 L164.20,343.40 L164.32,343.40 L164.44,343.40 L164.56,343.40 L164.68,343.40 L164.80,343.40 L164.92,343.40 L165.03,343.40 L165.15,343.40 L165.27,343.40 L165.39,343.40 L165.51,343.40 L165.63,343.40 L165.75,343.40 L165.86,343.40 L165.98,343.40 L166.10,343.40 L166.22,343.40 L166.34,343.40 L166.46,343.40 L166.58,343.40 L166.69,343.40 L166.81,343.40 L166.93,343.40 L167.05,343.40 L167.17,343.40 L167.29,343.40 L167.41,343.40 L167.52,343.40 L167.64,343.40 L167.76,343.40 L167.88,343.40 L168.00,343.40 L168.12,343.40 L168.24,344.20 L168.35,344.20 L168.47,344.20 L168.59,344.20 L168.71,344.20 L168.83,344.20 L168.95,344.20 L169.07,344.20 L169.18,344.20 L169.30,344.20 L169.42,344.20 L169.54,344.20 L169.66,344.20 L169.78,344.20 L169.90,344.20 L170.02,344.20 L170.13,344.20 L170.25,344.20 L170.37,344.20 L170.49,344.20 L170.61,344.20 L170.73,344.20 L170.85,344.20 L170.96,344.20 L171.08,344.20 L171.20,344.20 L171.32,344.20 L171.44,344.20 L171.56,344.20 L171.68,344.20 L171.79,344.20 L171.91,344.20 L172.03,344.20 L172.15,344.20 L172.27,344.20 L172.39,344.20 L172.51,344.20 L172.62,344.20 L172.74,344.20 L172.86,344.20 L172.98,344.20 L173.10,344.20 L173.22,344.20 L173.34,344.20 L173.45,344.20 L173.57,344.20 L173.69,344.20 L173.81,344.20 L173.93,344.20 L174.05,344.20 L174.17,344.20 L174.28,344.20 L174.40,344.20 L174.52,344.20 L174.64,344.20 L174.76,344.20 L174.88,344.20 L175.00,344.20 L175.11,344.20 L175.23,344.20 L175.35,344.20 L175.47,344.20 L175.59,344.20 L175.71,344.20 L175.83,344.20 L175.94,344.20 L176.06,344.20 L176.18,344.20 L176.30,344.20 L176.42,344.20 L176.54,344.20 L176.66,344.20 L176.78,344.20 L176.89,344.20 L177.01,344.20 L177.13,344.20 L177.25,344.20 L177.37,344.20 L177.49,344.20 L177.61,344.20 L177.72,344.20 L177.84,344.20 L177.96,344.20 L178.08,344.20 L178.20,344.20 L178.32,344.20 L178.44,344.20 L178.55,344.20 L178.67,344.20 L178.79,344.20 L178.91,344.20 L179.03,344.20 L179.15,344.20 L179.27,344.20 L179.38,344.20 L179.50,344.20 L179.62,344.20 L179.74,344.20 L179.86,344.20 L179.98,344.20 L180.10,344.20 L180.21,344.20 L180.33,344.20 L180.45,344.20 L180.57,344.20 L180.69,344.20 L180.81,344.20 L180.93,344.20 L181.04,344.20 L181.16,344.20 L181.28,344.20 L181.40,344.20 L181.52,344.20 L181.64,344.20 L181.76,344.20 L181.88,344.20 L181.99,344.20 L182.11,344.20 L182.23,344.20 L182.35,344.20 L182.47,344.20 L182.59,344.20 L182.71,344.20 L182.82,344.20 L182.94,344.20 L183.06,344.20 L183.18,344.20 L183.30,344.20 L183.42,344.20 L183.54,344.20 L183.65,344.20 L183.77,344.20 L183.89,344.20 L184.01,344.20 L184.13,344.20 L184.25,344.20 L184.37,344.20 L184.48,344.20 L184.60,344.20 L184.72,344.20 L184.84,344.20 L184.84,344.20 Z" fill="#c9d3e8" stroke="#333" stroke-width="0.35"/>
<path d="M148.67,344.20 L148.67,344.04 L148.79,344.04 L148.90,344.04 L149.02,344.03 L149.14,344.02 L149.26,343.99 L149.38,343.90 L149.50,343.72 L149.62,343.33 L149.73,342.57 L149.85,341.20 L149.97,338.92 L150.09,335.43 L150.21,330.53 L150.33,324.26 L150.45,317.03 L150.56,309.62 L150.68,303.12 L150.80,298.64 L150.92,297.04 L151.04,298.64 L151.16,303.12 L151.28,309.62 L151.39,317.03 L151.51,324.26 L151.63,330.53 L151.75,335.43 L151.87,338.92 L151.99,341.20 L152.11,342.57 L152.22,343.33 L152.34,343.72 L152.46,343.90 L152.58,343.99 L152.70,344.02 L152.82,344.03 L152.94,344.04 L153.06,344.04 L153.17,344.04 L153.17,344.20 Z" fill="#a01029" stroke="#3a0a12" stroke-width="0.25"/>
<path d="M160.17,344.20 L160.17,344.04 L160.29,344.04 L160.41,344.04 L160.53,344.04 L160.65,344.04 L160.76,344.03 L160.88,344.02 L161.00,344.01 L161.12,343.98 L161.24,343.94 L161.36,343.87 L161.48,343.76 L161.59,343.60 L161.71,343.36 L161.83,343.03 L161.95,342.59 L162.07,342.01 L162.19,341.29 L162.31,340.44 L162.42,339.46 L162.54,338.41 L162.66,337.33 L162.78,336.29 L162.90,335.38 L163.02,334.66 L163.14,334.20 L163.25,334.04 L163.37,334.20 L163.49,334.66 L163.61,335.38 L163.73,336.29 L163.85,337.33 L163.97,338.41 L164.09,339.46 L164.20,340.44 L164.32,341.29 L164.44,342.01 L164.56,342.59 L164.68,343.03 L164.80,343.36 L164.92,343.60 L165.03,343.76 L165.15,343.87 L165.27,343.94 L165.39,343.98 L165.51,344.01 L165.63,344.02 L165.75,344.03 L165.86,344.04 L165.98,344.04 L166.10,344.04 L166.22,344.04 L166.34,344.04 L166.34,344.20 Z" fill="#a01029" stroke="#3a0a12" stroke-width="0.25"/>
<line x1="137.4" y1="288.7" x2="137.4" y2="344.2" stroke="#000" stroke-width="0.7"/>
<line x1="137.4" y1="344.2" x2="198.2" y2="344.2" stroke="#000" stroke-width="0.7"/>
<line x1="137.40" y1="344.2" x2="137.40" y2="345.4" stroke="#000" stroke-width="0.35"/><line x1="139.77" y1="344.2" x2="139.77" y2="344.9" stroke="#000" stroke-width="0.35"/><line x1="142.14" y1="344.2" x2="142.14" y2="344.9" stroke="#000" stroke-width="0.35"/><line x1="144.52" y1="344.2" x2="144.52" y2="344.9" stroke="#000" stroke-width="0.35"/><line x1="146.89" y1="344.2" x2="146.89" y2="344.9" stroke="#000" stroke-width="0.35"/><line x1="149.26" y1="344.2" x2="149.26" y2="345.4" stroke="#000" stroke-width="0.35"/><line x1="151.63" y1="344.2" x2="151.63" y2="344.9" stroke="#000" stroke-width="0.35"/><line x1="154.00" y1="344.2" x2="154.00" y2="344.9" stroke="#000" stroke-width="0.35"/><line x1="156.38" y1="344.2" x2="156.38" y2="344.9" stroke="#000" stroke-width="0.35"/><line x1="158.75" y1="344.2" x2="158.75" y2="344.9" stroke="#000" stroke-width="0.35"/><line x1="161.12" y1="344.2" x2="161.12" y2="345.4" stroke="#000" stroke-width="0.35"/><line x1="163.49" y1="344.2" x2="163.49" y2="344.9" stroke="#000" stroke-width="0.35"/><line x1="165.86" y1="344.2" x2="165.86" y2="344.9" stroke="#000" stroke-width="0.35"/><line x1="168.24" y1="344.2" x2="168.24" y2="344.9" stroke="#000" stroke-width="0.35"/><line x1="170.61" y1="344.2" x2="170.61" y2="344.9" stroke="#000" stroke-width="0.35"/><line x1="172.98" y1="344.2" x2="172.98" y2="345.4" stroke="#000" stroke-width="0.35"/><line x1="175.35" y1="344.2" x2="175.35" y2="344.9" stroke="#000" stroke-width="0.35"/><line x1="177.72" y1="344.2" x2="177.72" y2="344.9" stroke="#000" stroke-width="0.35"/><line x1="180.10" y1="344.2" x2="180.10" y2="344.9" stroke="#000" stroke-width="0.35"/><line x1="182.47" y1="344.2" x2="182.47" y2="344.9" stroke="#000" stroke-width="0.35"/><line x1="184.84" y1="344.2" x2="184.84" y2="345.4" stroke="#000" stroke-width="0.35"/><line x1="187.21" y1="344.2" x2="187.21" y2="344.9" stroke="#000" stroke-width="0.35"/><line x1="189.58" y1="344.2" x2="189.58" y2="344.9" stroke="#000" stroke-width="0.35"/><line x1="191.96" y1="344.2" x2="191.96" y2="344.9" stroke="#000" stroke-width="0.35"/><line x1="194.33" y1="344.2" x2="194.33" y2="344.9" stroke="#000" stroke-width="0.35"/><line x1="196.70" y1="344.2" x2="196.70" y2="345.4" stroke="#000" stroke-width="0.35"/><line x1="136.70000000000002" y1="344.20" x2="137.4" y2="344.20" stroke="#000" stroke-width="0.35"/><line x1="136.70000000000002" y1="342.00" x2="137.4" y2="342.00" stroke="#000" stroke-width="0.35"/><line x1="136.70000000000002" y1="339.80" x2="137.4" y2="339.80" stroke="#000" stroke-width="0.35"/><line x1="136.70000000000002" y1="337.60" x2="137.4" y2="337.60" stroke="#000" stroke-width="0.35"/><line x1="136.70000000000002" y1="335.40" x2="137.4" y2="335.40" stroke="#000" stroke-width="0.35"/><line x1="136.70000000000002" y1="333.20" x2="137.4" y2="333.20" stroke="#000" stroke-width="0.35"/><line x1="136.70000000000002" y1="331.00" x2="137.4" y2="331.00" stroke="#000" stroke-width="0.35"/><line x1="136.70000000000002" y1="328.80" x2="137.4" y2="328.80" stroke="#000" stroke-width="0.35"/><line x1="136.70000000000002" y1="326.60" x2="137.4" y2="326.60" stroke="#000" stroke-width="0.35"/><line x1="136.70000000000002" y1="324.40" x2="137.4" y2="324.40" stroke="#000" stroke-width="0.35"/><line x1="136.70000000000002" y1="322.20" x2="137.4" y2="322.20" stroke="#000" stroke-width="0.35"/><line x1="136.70000000000002" y1="320.00" x2="137.4" y2="320.00" stroke="#000" stroke-width="0.35"/><line x1="136.70000000000002" y1="317.80" x2="137.4" y2="317.80" stroke="#000" stroke-width="0.35"/><line x1="136.70000000000002" y1="315.60" x2="137.4" y2="315.60" stroke="#000" stroke-width="0.35"/><line x1="136.70000000000002" y1="313.40" x2="137.4" y2="313.40" stroke="#000" stroke-width="0.35"/><line x1="136.70000000000002" y1="311.20" x2="137.4" y2="311.20" stroke="#000" stroke-width="0.35"/><line x1="136.70000000000002" y1="309.00" x2="137.4" y2="309.00" stroke="#000" stroke-width="0.35"/><line x1="136.70000000000002" y1="306.80" x2="137.4" y2="306.80" stroke="#000" stroke-width="0.35"/><line x1="136.70000000000002" y1="304.60" x2="137.4" y2="304.60" stroke="#000" stroke-width="0.35"/><line x1="136.70000000000002" y1="302.40" x2="137.4" y2="302.40" stroke="#000" stroke-width="0.35"/><line x1="136.70000000000002" y1="300.20" x2="137.4" y2="300.20" stroke="#000" stroke-width="0.35"/><line x1="136.70000000000002" y1="298.00" x2="137.4" y2="298.00" stroke="#000" stroke-width="0.35"/><line x1="136.70000000000002" y1="295.80" x2="137.4" y2="295.80" stroke="#000" stroke-width="0.35"/><line x1="136.70000000000002" y1="293.60" x2="137.4" y2="293.60" stroke="#000" stroke-width="0.35"/><line x1="136.70000000000002" y1="291.40" x2="137.4" y2="291.40" stroke="#000" stroke-width="0.35"/><line x1="136.70000000000002" y1="289.20" x2="137.4" y2="289.20" stroke="#000" stroke-width="0.35"/>
<text x="133.0" y="294.5" font-size="4.9" text-anchor="end" font-weight="normal" fill="#222" stroke="#222" stroke-width="0.12">5000</text>
<text x="133.0" y="304.7" font-size="4.9" text-anchor="end" font-weight="normal" fill="#222" stroke="#222" stroke-width="0.12">4000</text>
<text x="133.0" y="314.9" font-size="4.9" text-anchor="end" font-weight="normal" fill="#222" stroke="#222" stroke-width="0.12">3000</text>
<text x="133.0" y="325.4" font-size="4.9" text-anchor="end" font-weight="normal" fill="#222" stroke="#222" stroke-width="0.12">2000</text>
<text x="133.0" y="335.5" font-size="4.9" text-anchor="end" font-weight="normal" fill="#222" stroke="#222" stroke-width="0.12">1000</text>
<text x="133.0" y="345.9" font-size="4.9" text-anchor="end" font-weight="normal" fill="#222" stroke="#222" stroke-width="0.12">0</text>
<text x="137.4" y="352.7" font-size="4.9" text-anchor="middle" font-weight="normal" fill="#222" stroke="#222" stroke-width="0.12">0</text>
<text x="149.26" y="352.7" font-size="4.9" text-anchor="middle" font-weight="normal" fill="#222" stroke="#222" stroke-width="0.12">50</text>
<text x="161.12" y="352.7" font-size="4.9" text-anchor="middle" font-weight="normal" fill="#222" stroke="#222" stroke-width="0.12">100</text>
<text x="172.98000000000002" y="352.7" font-size="4.9" text-anchor="middle" font-weight="normal" fill="#222" stroke="#222" stroke-width="0.12">150</text>
<text x="184.84" y="352.7" font-size="4.9" text-anchor="middle" font-weight="normal" fill="#222" stroke="#222" stroke-width="0.12">200</text>
<text x="196.7" y="352.7" font-size="4.9" text-anchor="middle" font-weight="normal" fill="#222" stroke="#222" stroke-width="0.12">250</text>
<text x="167.9395" y="361.9" font-size="7.2" text-anchor="middle" font-weight="normal" fill="#222" textLength="41" lengthAdjust="spacingAndGlyphs" stroke="#222" stroke-width="0.12">Channels (PE-A)</text>
<text x="0" y="0" font-size="7.0" text-anchor="middle" font-weight="normal" fill="#222" transform="translate(117.10000000000001,316.95) rotate(-90)" textLength="21.5" lengthAdjust="spacingAndGlyphs" stroke="#222" stroke-width="0.12">Number</text>
<rect x="159.3" y="292.5" width="3.7" height="3.7" fill="#a01029" stroke="#333" stroke-width="0.6"/>
<text x="0" y="0" font-size="4.8" text-anchor="start" font-weight="normal" fill="#222" transform="translate(164.8,295.8) scale(0.83,1)" stroke="#222" stroke-width="0.12">G1</text>
<text x="0" y="0" font-size="4.8" text-anchor="start" font-weight="normal" fill="#222" transform="translate(177.1,295.8) scale(0.83,1)" stroke="#222" stroke-width="0.12">62%</text>
<rect x="159.3" y="298.0" width="3.7" height="3.7" fill="#fff" stroke="#333" stroke-width="0.6"/>
<text x="0" y="0" font-size="4.8" text-anchor="start" font-weight="normal" fill="#222" transform="translate(168.0,301.3) scale(0.83,1)" stroke="#222" stroke-width="0.12">S</text>
<text x="0" y="0" font-size="4.8" text-anchor="start" font-weight="normal" fill="#222" transform="translate(177.1,301.3) scale(0.83,1)" stroke="#222" stroke-width="0.12">14%</text>
<rect x="159.3" y="303.5" width="3.7" height="3.7" fill="#a01029" stroke="#333" stroke-width="0.6"/>
<text x="0" y="0" font-size="4.8" text-anchor="start" font-weight="normal" fill="#222" transform="translate(164.8,306.8) scale(0.83,1)" stroke="#222" stroke-width="0.12">G2/M</text>
<text x="0" y="0" font-size="4.8" text-anchor="start" font-weight="normal" fill="#222" transform="translate(177.1,306.8) scale(0.83,1)" stroke="#222" stroke-width="0.12">24%</text>
<path d="M230.60,344.20 L230.60,287.20 L230.72,310.52 L230.84,323.04 L230.96,329.77 L231.07,333.41 L231.19,335.39 L231.31,336.48 L231.43,337.09 L231.55,337.45 L231.67,337.67 L231.79,337.81 L231.90,337.92 L232.02,338.00 L232.14,338.06 L232.26,338.12 L232.38,338.18 L232.50,338.23 L232.62,338.28 L232.73,338.33 L232.85,338.37 L232.97,338.42 L233.09,338.46 L233.21,338.50 L233.33,338.54 L233.45,338.58 L233.56,338.61 L233.68,338.65 L233.80,338.68 L233.92,338.72 L234.04,338.75 L234.16,338.78 L234.28,338.81 L234.40,338.84 L234.51,338.87 L234.63,338.90 L234.75,338.92 L234.87,338.95 L234.99,338.97 L235.11,339.00 L235.23,339.02 L235.34,339.04 L235.46,339.06 L235.58,339.08 L235.70,339.10 L235.82,339.12 L235.94,339.14 L236.06,339.16 L236.17,339.17 L236.29,339.19 L236.41,339.21 L236.53,339.22 L236.65,339.23 L236.77,339.24 L236.89,339.25 L237.00,339.26 L237.12,339.26 L237.24,339.27 L237.36,339.27 L237.48,339.26 L237.60,339.25 L237.72,339.24 L237.83,339.21 L237.95,339.18 L238.07,339.15 L238.19,339.10 L238.31,339.04 L238.43,338.96 L238.55,338.88 L238.66,338.77 L238.78,338.65 L238.90,338.51 L239.02,338.35 L239.14,338.17 L239.26,337.97 L239.38,337.74 L239.50,337.50 L239.61,337.23 L239.73,336.94 L239.85,336.64 L239.97,336.32 L240.09,335.98 L240.21,335.64 L240.33,335.29 L240.44,334.94 L240.56,334.60 L240.68,334.27 L240.80,333.95 L240.92,333.66 L241.04,333.39 L241.16,333.15 L241.27,332.95 L241.39,332.79 L241.51,332.68 L241.63,332.61 L241.75,332.59 L241.87,332.62 L241.99,332.69 L242.10,332.82 L242.22,332.98 L242.34,333.19 L242.46,333.43 L242.58,333.71 L242.70,334.01 L242.82,334.34 L242.93,334.68 L243.05,335.03 L243.17,335.38 L243.29,335.74 L243.41,336.09 L243.53,336.43 L243.65,336.76 L243.76,337.07 L243.88,337.37 L244.00,337.64 L244.12,337.90 L244.24,338.13 L244.36,338.34 L244.48,338.53 L244.59,338.70 L244.71,338.85 L244.83,338.98 L244.95,339.10 L245.07,339.20 L245.19,339.28 L245.31,339.35 L245.42,339.41 L245.54,339.46 L245.66,339.50 L245.78,339.54 L245.90,339.57 L246.02,339.59 L246.14,339.61 L246.26,339.62 L246.37,339.63 L246.49,339.64 L246.61,339.65 L246.73,339.66 L246.85,339.66 L246.97,339.67 L247.09,339.67 L247.20,339.67 L247.32,339.67 L247.44,339.68 L247.56,339.68 L247.68,339.68 L247.80,339.68 L247.92,339.68 L248.03,339.68 L248.15,339.68 L248.27,339.68 L248.39,339.68 L248.51,339.68 L248.63,339.68 L248.75,339.68 L248.86,339.69 L248.98,339.69 L249.10,339.69 L249.22,339.69 L249.34,339.69 L249.46,339.69 L249.58,339.69 L249.69,339.69 L249.81,339.69 L249.93,339.69 L250.05,339.69 L250.17,339.69 L250.29,339.69 L250.41,339.69 L250.52,339.69 L250.64,339.69 L250.76,339.69 L250.88,339.69 L251.00,339.69 L251.12,339.69 L251.24,339.69 L251.35,339.69 L251.47,339.69 L251.59,339.69 L251.71,339.69 L251.83,339.69 L251.95,339.69 L252.07,339.69 L252.19,339.69 L252.30,339.69 L252.42,339.69 L252.54,339.69 L252.66,339.69 L252.78,339.70 L252.90,339.70 L253.02,339.70 L253.13,339.70 L253.25,339.70 L253.37,339.70 L253.49,339.70 L253.61,339.70 L253.73,339.70 L253.85,339.70 L253.96,339.70 L254.08,339.70 L254.20,339.70 L254.32,339.70 L254.44,339.70 L254.56,339.70 L254.68,339.70 L254.79,339.70 L254.91,339.70 L255.03,339.70 L255.15,339.70 L255.27,339.70 L255.39,339.70 L255.51,339.70 L255.62,339.70 L255.74,339.70 L255.86,339.70 L255.98,339.70 L256.10,339.70 L256.22,339.70 L256.34,339.70 L256.45,339.70 L256.57,339.70 L256.69,339.70 L256.81,339.70 L256.93,339.70 L257.05,339.70 L257.17,339.70 L257.28,339.70 L257.40,339.70 L257.52,339.70 L257.64,339.70 L257.76,339.70 L257.88,339.70 L258.00,339.70 L258.12,339.70 L258.23,339.70 L258.35,339.70 L258.47,339.70 L258.59,344.20 L258.71,344.20 L258.83,344.20 L258.95,344.20 L259.06,344.20 L259.18,344.20 L259.30,344.20 L259.42,344.20 L259.54,344.20 L259.66,344.20 L259.78,344.20 L259.89,344.20 L260.01,344.20 L260.13,344.20 L260.25,344.20 L260.37,344.20 L260.49,344.20 L260.61,344.20 L260.72,344.20 L260.84,344.20 L260.96,344.20 L261.08,344.20 L261.20,344.20 L261.32,344.20 L261.44,344.20 L261.55,344.20 L261.67,344.20 L261.79,344.20 L261.91,344.20 L262.03,344.20 L262.15,344.20 L262.27,344.20 L262.38,344.20 L262.50,344.20 L262.62,344.20 L262.74,344.20 L262.86,344.20 L262.98,344.20 L263.10,344.20 L263.21,344.20 L263.33,344.20 L263.45,344.20 L263.57,344.20 L263.69,344.20 L263.81,344.20 L263.93,344.20 L264.05,344.20 L264.16,344.20 L264.28,344.20 L264.40,344.20 L264.52,344.20 L264.64,344.20 L264.76,344.20 L264.88,344.20 L264.99,344.20 L265.11,344.20 L265.23,344.20 L265.35,344.20 L265.47,344.20 L265.59,344.20 L265.71,344.20 L265.82,344.20 L265.94,344.20 L266.06,344.20 L266.18,344.20 L266.30,344.20 L266.42,344.20 L266.54,344.20 L266.65,344.20 L266.77,344.20 L266.89,344.20 L267.01,344.20 L267.13,344.20 L267.25,344.20 L267.37,344.20 L267.48,344.20 L267.60,344.20 L267.72,344.20 L267.84,344.20 L267.96,344.20 L268.08,344.20 L268.20,344.20 L268.31,344.20 L268.43,344.20 L268.55,344.20 L268.67,344.20 L268.79,344.20 L268.91,344.20 L269.03,344.20 L269.14,344.20 L269.26,344.20 L269.38,344.20 L269.50,344.20 L269.62,344.20 L269.74,344.20 L269.86,344.20 L269.98,344.20 L270.09,344.20 L270.21,344.20 L270.33,344.20 L270.45,344.20 L270.57,344.20 L270.69,344.20 L270.81,344.20 L270.92,344.20 L271.04,344.20 L271.16,344.20 L271.28,344.20 L271.40,344.20 L271.52,344.20 L271.64,344.20 L271.75,344.20 L271.87,344.20 L271.99,344.20 L272.11,344.20 L272.23,344.20 L272.35,344.20 L272.47,344.20 L272.58,344.20 L272.70,344.20 L272.82,344.20 L272.94,344.20 L273.06,344.20 L273.18,344.20 L273.30,344.20 L273.41,344.20 L273.53,344.20 L273.65,344.20 L273.77,344.20 L273.89,344.20 L274.01,344.20 L274.13,344.20 L274.24,344.20 L274.36,344.20 L274.48,344.20 L274.60,344.20 L274.72,344.20 L274.84,344.20 L274.96,344.20 L275.07,344.20 L275.19,344.20 L275.31,344.20 L275.43,344.20 L275.55,344.20 L275.67,344.20 L275.79,344.20 L275.91,344.20 L276.02,344.20 L276.14,344.20 L276.26,344.20 L276.38,344.20 L276.50,344.20 L276.62,344.20 L276.74,344.20 L276.85,344.20 L276.97,344.20 L277.09,344.20 L277.21,344.20 L277.33,344.20 L277.45,344.20 L277.57,344.20 L277.68,344.20 L277.80,344.20 L277.92,344.20 L278.04,344.20 L278.04,344.20 Z" fill="#c9d3e8" stroke="#333" stroke-width="0.35"/>
<path d="M242.46,344.20 L242.46,342.05 L242.58,342.10 L242.70,342.16 L242.82,342.22 L242.93,342.27 L243.05,342.29 L243.17,342.25 L243.29,342.06 L243.41,341.56 L243.53,340.54 L243.65,338.65 L243.76,335.53 L243.88,330.86 L244.00,324.59 L244.12,317.05 L244.24,309.07 L244.36,301.89 L244.48,296.88 L244.59,295.10 L244.71,296.95 L244.83,302.02 L244.95,309.26 L245.07,317.31 L245.19,324.92 L245.31,331.26 L245.42,335.99 L245.54,339.19 L245.66,341.15 L245.78,342.25 L245.90,342.82 L246.02,343.09 L246.14,343.21 L246.26,343.26 L246.37,343.28 L246.49,343.29 L246.61,343.29 L246.73,343.29 L246.73,344.20 Z" fill="#a01029" stroke="#3a0a12" stroke-width="0.25"/>
<path d="M253.96,344.20 L253.96,343.30 L254.08,343.30 L254.20,343.30 L254.32,343.30 L254.44,343.30 L254.56,343.29 L254.68,343.29 L254.79,343.29 L254.91,343.28 L255.03,343.26 L255.15,343.24 L255.27,343.20 L255.39,343.15 L255.51,343.08 L255.62,342.98 L255.74,342.84 L255.86,342.66 L255.98,342.44 L256.10,342.16 L256.22,341.82 L256.34,341.44 L256.45,341.01 L256.57,340.55 L256.69,340.08 L256.81,339.61 L256.93,339.19 L257.05,338.82 L257.17,338.54 L257.28,338.36 L257.40,338.30 L257.52,338.36 L257.64,338.54 L257.76,338.82 L257.88,339.19 L258.00,339.61 L258.12,340.08 L258.23,340.55 L258.35,341.01 L258.47,341.44 L258.59,342.72 L258.71,343.06 L258.83,343.34 L258.95,343.56 L259.06,343.74 L259.18,343.88 L259.30,343.98 L259.42,344.05 L259.54,344.10 L259.66,344.14 L259.78,344.16 L259.89,344.18 L260.01,344.19 L260.13,344.19 L260.25,344.20 L260.37,344.20 L260.49,344.20 L260.61,344.20 L260.72,344.20 L260.84,344.20 L260.84,344.20 Z" fill="#a01029" stroke="#3a0a12" stroke-width="0.25"/>
<line x1="230.6" y1="289.1" x2="230.6" y2="344.2" stroke="#000" stroke-width="0.7"/>
<line x1="230.6" y1="344.2" x2="291.4" y2="344.2" stroke="#000" stroke-width="0.7"/>
<line x1="230.60" y1="344.2" x2="230.60" y2="345.4" stroke="#000" stroke-width="0.35"/><line x1="232.97" y1="344.2" x2="232.97" y2="344.9" stroke="#000" stroke-width="0.35"/><line x1="235.34" y1="344.2" x2="235.34" y2="344.9" stroke="#000" stroke-width="0.35"/><line x1="237.72" y1="344.2" x2="237.72" y2="344.9" stroke="#000" stroke-width="0.35"/><line x1="240.09" y1="344.2" x2="240.09" y2="344.9" stroke="#000" stroke-width="0.35"/><line x1="242.46" y1="344.2" x2="242.46" y2="345.4" stroke="#000" stroke-width="0.35"/><line x1="244.83" y1="344.2" x2="244.83" y2="344.9" stroke="#000" stroke-width="0.35"/><line x1="247.20" y1="344.2" x2="247.20" y2="344.9" stroke="#000" stroke-width="0.35"/><line x1="249.58" y1="344.2" x2="249.58" y2="344.9" stroke="#000" stroke-width="0.35"/><line x1="251.95" y1="344.2" x2="251.95" y2="344.9" stroke="#000" stroke-width="0.35"/><line x1="254.32" y1="344.2" x2="254.32" y2="345.4" stroke="#000" stroke-width="0.35"/><line x1="256.69" y1="344.2" x2="256.69" y2="344.9" stroke="#000" stroke-width="0.35"/><line x1="259.06" y1="344.2" x2="259.06" y2="344.9" stroke="#000" stroke-width="0.35"/><line x1="261.44" y1="344.2" x2="261.44" y2="344.9" stroke="#000" stroke-width="0.35"/><line x1="263.81" y1="344.2" x2="263.81" y2="344.9" stroke="#000" stroke-width="0.35"/><line x1="266.18" y1="344.2" x2="266.18" y2="345.4" stroke="#000" stroke-width="0.35"/><line x1="268.55" y1="344.2" x2="268.55" y2="344.9" stroke="#000" stroke-width="0.35"/><line x1="270.92" y1="344.2" x2="270.92" y2="344.9" stroke="#000" stroke-width="0.35"/><line x1="273.30" y1="344.2" x2="273.30" y2="344.9" stroke="#000" stroke-width="0.35"/><line x1="275.67" y1="344.2" x2="275.67" y2="344.9" stroke="#000" stroke-width="0.35"/><line x1="278.04" y1="344.2" x2="278.04" y2="345.4" stroke="#000" stroke-width="0.35"/><line x1="280.41" y1="344.2" x2="280.41" y2="344.9" stroke="#000" stroke-width="0.35"/><line x1="282.78" y1="344.2" x2="282.78" y2="344.9" stroke="#000" stroke-width="0.35"/><line x1="285.16" y1="344.2" x2="285.16" y2="344.9" stroke="#000" stroke-width="0.35"/><line x1="287.53" y1="344.2" x2="287.53" y2="344.9" stroke="#000" stroke-width="0.35"/><line x1="289.90" y1="344.2" x2="289.90" y2="345.4" stroke="#000" stroke-width="0.35"/><line x1="229.9" y1="344.20" x2="230.6" y2="344.20" stroke="#000" stroke-width="0.35"/><line x1="229.9" y1="342.00" x2="230.6" y2="342.00" stroke="#000" stroke-width="0.35"/><line x1="229.9" y1="339.80" x2="230.6" y2="339.80" stroke="#000" stroke-width="0.35"/><line x1="229.9" y1="337.60" x2="230.6" y2="337.60" stroke="#000" stroke-width="0.35"/><line x1="229.9" y1="335.40" x2="230.6" y2="335.40" stroke="#000" stroke-width="0.35"/><line x1="229.9" y1="333.20" x2="230.6" y2="333.20" stroke="#000" stroke-width="0.35"/><line x1="229.9" y1="331.00" x2="230.6" y2="331.00" stroke="#000" stroke-width="0.35"/><line x1="229.9" y1="328.80" x2="230.6" y2="328.80" stroke="#000" stroke-width="0.35"/><line x1="229.9" y1="326.60" x2="230.6" y2="326.60" stroke="#000" stroke-width="0.35"/><line x1="229.9" y1="324.40" x2="230.6" y2="324.40" stroke="#000" stroke-width="0.35"/><line x1="229.9" y1="322.20" x2="230.6" y2="322.20" stroke="#000" stroke-width="0.35"/><line x1="229.9" y1="320.00" x2="230.6" y2="320.00" stroke="#000" stroke-width="0.35"/><line x1="229.9" y1="317.80" x2="230.6" y2="317.80" stroke="#000" stroke-width="0.35"/><line x1="229.9" y1="315.60" x2="230.6" y2="315.60" stroke="#000" stroke-width="0.35"/><line x1="229.9" y1="313.40" x2="230.6" y2="313.40" stroke="#000" stroke-width="0.35"/><line x1="229.9" y1="311.20" x2="230.6" y2="311.20" stroke="#000" stroke-width="0.35"/><line x1="229.9" y1="309.00" x2="230.6" y2="309.00" stroke="#000" stroke-width="0.35"/><line x1="229.9" y1="306.80" x2="230.6" y2="306.80" stroke="#000" stroke-width="0.35"/><line x1="229.9" y1="304.60" x2="230.6" y2="304.60" stroke="#000" stroke-width="0.35"/><line x1="229.9" y1="302.40" x2="230.6" y2="302.40" stroke="#000" stroke-width="0.35"/><line x1="229.9" y1="300.20" x2="230.6" y2="300.20" stroke="#000" stroke-width="0.35"/><line x1="229.9" y1="298.00" x2="230.6" y2="298.00" stroke="#000" stroke-width="0.35"/><line x1="229.9" y1="295.80" x2="230.6" y2="295.80" stroke="#000" stroke-width="0.35"/><line x1="229.9" y1="293.60" x2="230.6" y2="293.60" stroke="#000" stroke-width="0.35"/><line x1="229.9" y1="291.40" x2="230.6" y2="291.40" stroke="#000" stroke-width="0.35"/>
<text x="226.2" y="299.7" font-size="4.9" text-anchor="end" font-weight="normal" fill="#222" stroke="#222" stroke-width="0.12">2000</text>
<text x="226.2" y="311.09999999999997" font-size="4.9" text-anchor="end" font-weight="normal" fill="#222" stroke="#222" stroke-width="0.12">1500</text>
<text x="226.2" y="322.8" font-size="4.9" text-anchor="end" font-weight="normal" fill="#222" stroke="#222" stroke-width="0.12">1000</text>
<text x="226.2" y="334.09999999999997" font-size="4.9" text-anchor="end" font-weight="normal" fill="#222" stroke="#222" stroke-width="0.12">500</text>
<text x="226.2" y="345.9" font-size="4.9" text-anchor="end" font-weight="normal" fill="#222" stroke="#222" stroke-width="0.12">0</text>
<text x="230.6" y="352.7" font-size="4.9" text-anchor="middle" font-weight="normal" fill="#222" stroke="#222" stroke-width="0.12">0</text>
<text x="242.45999999999998" y="352.7" font-size="4.9" text-anchor="middle" font-weight="normal" fill="#222" stroke="#222" stroke-width="0.12">50</text>
<text x="254.32" y="352.7" font-size="4.9" text-anchor="middle" font-weight="normal" fill="#222" stroke="#222" stroke-width="0.12">100</text>
<text x="266.18" y="352.7" font-size="4.9" text-anchor="middle" font-weight="normal" fill="#222" stroke="#222" stroke-width="0.12">150</text>
<text x="278.03999999999996" y="352.7" font-size="4.9" text-anchor="middle" font-weight="normal" fill="#222" stroke="#222" stroke-width="0.12">200</text>
<text x="289.9" y="352.7" font-size="4.9" text-anchor="middle" font-weight="normal" fill="#222" stroke="#222" stroke-width="0.12">250</text>
<text x="261.1395" y="361.9" font-size="7.2" text-anchor="middle" font-weight="normal" fill="#222" textLength="41" lengthAdjust="spacingAndGlyphs" stroke="#222" stroke-width="0.12">Channels (PE-A)</text>
<text x="0" y="0" font-size="7.0" text-anchor="middle" font-weight="normal" fill="#222" transform="translate(210.29999999999998,317.15) rotate(-90)" textLength="21.5" lengthAdjust="spacingAndGlyphs" stroke="#222" stroke-width="0.12">Number</text>
<rect x="252.5" y="292.90000000000003" width="3.7" height="3.7" fill="#a01029" stroke="#333" stroke-width="0.6"/>
<text x="0" y="0" font-size="4.8" text-anchor="start" font-weight="normal" fill="#222" transform="translate(258.0,296.20000000000005) scale(0.83,1)" stroke="#222" stroke-width="0.12">G1</text>
<text x="0" y="0" font-size="4.8" text-anchor="start" font-weight="normal" fill="#222" transform="translate(270.3,296.20000000000005) scale(0.83,1)" stroke="#222" stroke-width="0.12">55%</text>
<rect x="252.5" y="298.40000000000003" width="3.7" height="3.7" fill="#fff" stroke="#333" stroke-width="0.6"/>
<text x="0" y="0" font-size="4.8" text-anchor="start" font-weight="normal" fill="#222" transform="translate(261.2,301.70000000000005) scale(0.83,1)" stroke="#222" stroke-width="0.12">S</text>
<text x="0" y="0" font-size="4.8" text-anchor="start" font-weight="normal" fill="#222" transform="translate(270.3,301.70000000000005) scale(0.83,1)" stroke="#222" stroke-width="0.12">13%</text>
<rect x="252.5" y="303.90000000000003" width="3.7" height="3.7" fill="#a01029" stroke="#333" stroke-width="0.6"/>
<text x="0" y="0" font-size="4.8" text-anchor="start" font-weight="normal" fill="#222" transform="translate(258.0,307.20000000000005) scale(0.83,1)" stroke="#222" stroke-width="0.12">G2/M</text>
<text x="0" y="0" font-size="4.8" text-anchor="start" font-weight="normal" fill="#222" transform="translate(270.3,307.20000000000005) scale(0.83,1)" stroke="#222" stroke-width="0.12">32%</text>
<path d="M45.90,430.40 L45.90,430.40 L46.02,430.40 L46.14,430.40 L46.26,430.40 L46.37,430.40 L46.49,430.40 L46.61,430.40 L46.73,430.40 L46.85,430.40 L46.97,430.40 L47.09,430.40 L47.20,430.40 L47.32,430.40 L47.44,430.40 L47.56,430.40 L47.68,430.40 L47.80,430.40 L47.92,430.40 L48.03,430.40 L48.15,430.40 L48.27,430.40 L48.39,430.40 L48.51,430.40 L48.63,430.40 L48.75,430.40 L48.86,430.40 L48.98,430.40 L49.10,430.40 L49.22,430.40 L49.34,430.40 L49.46,430.40 L49.58,430.40 L49.70,430.40 L49.81,430.40 L49.93,430.40 L50.05,430.40 L50.17,430.40 L50.29,430.40 L50.41,430.40 L50.53,430.40 L50.64,430.40 L50.76,430.40 L50.88,430.40 L51.00,430.40 L51.12,430.40 L51.24,430.40 L51.36,430.40 L51.47,430.40 L51.59,430.40 L51.71,430.40 L51.83,430.40 L51.95,430.40 L52.07,430.40 L52.19,430.40 L52.30,430.40 L52.42,430.40 L52.54,430.40 L52.66,430.40 L52.78,430.40 L52.90,430.40 L53.02,430.40 L53.13,430.40 L53.25,430.40 L53.37,430.40 L53.49,430.40 L53.61,430.40 L53.73,430.40 L53.85,430.40 L53.96,430.40 L54.08,430.40 L54.20,430.40 L54.32,430.40 L54.44,430.40 L54.56,430.40 L54.68,430.40 L54.80,430.40 L54.91,430.40 L55.03,430.40 L55.15,430.40 L55.27,430.40 L55.39,430.40 L55.51,430.40 L55.63,430.40 L55.74,430.40 L55.86,430.40 L55.98,430.40 L56.10,430.40 L56.22,430.40 L56.34,430.40 L56.46,430.40 L56.57,430.40 L56.69,430.40 L56.81,430.40 L56.93,430.40 L57.05,430.40 L57.17,430.40 L57.29,430.40 L57.40,430.40 L57.52,430.40 L57.64,430.40 L57.76,430.40 L57.88,430.40 L58.00,430.40 L58.12,430.40 L58.23,430.40 L58.35,430.40 L58.47,430.40 L58.59,430.40 L58.71,430.40 L58.83,430.40 L58.95,430.40 L59.06,426.40 L59.18,426.40 L59.30,426.40 L59.42,426.40 L59.54,426.40 L59.66,426.40 L59.78,426.40 L59.89,426.40 L60.01,426.40 L60.13,426.40 L60.25,426.40 L60.37,426.40 L60.49,426.40 L60.61,426.40 L60.72,426.40 L60.84,426.40 L60.96,426.40 L61.08,426.40 L61.20,426.40 L61.32,426.40 L61.44,426.40 L61.56,426.40 L61.67,426.40 L61.79,426.40 L61.91,426.40 L62.03,426.40 L62.15,426.40 L62.27,426.40 L62.39,426.40 L62.50,426.40 L62.62,426.40 L62.74,426.40 L62.86,426.40 L62.98,426.40 L63.10,426.40 L63.22,426.40 L63.33,426.40 L63.45,426.40 L63.57,426.40 L63.69,426.40 L63.81,426.40 L63.93,426.40 L64.05,426.40 L64.16,426.40 L64.28,426.40 L64.40,426.40 L64.52,426.40 L64.64,426.40 L64.76,426.40 L64.88,426.40 L64.99,426.40 L65.11,426.40 L65.23,426.40 L65.35,426.40 L65.47,426.40 L65.59,426.40 L65.71,426.40 L65.82,426.40 L65.94,426.40 L66.06,426.40 L66.18,426.40 L66.30,426.40 L66.42,426.40 L66.54,426.40 L66.66,426.40 L66.77,426.40 L66.89,426.40 L67.01,426.40 L67.13,426.40 L67.25,426.40 L67.37,426.40 L67.49,426.40 L67.60,426.40 L67.72,426.40 L67.84,426.40 L67.96,426.40 L68.08,426.40 L68.20,426.40 L68.32,426.40 L68.43,426.40 L68.55,426.40 L68.67,430.40 L68.79,430.40 L68.91,430.40 L69.03,430.40 L69.15,430.40 L69.26,430.40 L69.38,430.40 L69.50,430.40 L69.62,430.40 L69.74,430.40 L69.86,430.40 L69.98,430.40 L70.09,430.40 L70.21,430.40 L70.33,430.40 L70.45,430.40 L70.57,430.40 L70.69,430.40 L70.81,430.40 L70.92,430.40 L71.04,430.40 L71.16,430.40 L71.28,430.40 L71.40,430.40 L71.52,430.40 L71.64,430.40 L71.75,430.40 L71.87,430.40 L71.99,430.40 L72.11,430.40 L72.23,430.40 L72.35,430.40 L72.47,430.40 L72.58,430.40 L72.70,430.40 L72.82,430.40 L72.94,430.40 L73.06,430.40 L73.18,430.40 L73.30,430.40 L73.42,430.40 L73.53,430.40 L73.65,430.40 L73.77,430.40 L73.89,430.40 L74.01,430.40 L74.13,430.40 L74.25,430.40 L74.36,430.40 L74.48,430.40 L74.60,430.40 L74.72,430.40 L74.84,430.40 L74.96,430.40 L75.08,430.40 L75.19,430.40 L75.31,430.40 L75.43,430.40 L75.55,430.40 L75.67,430.40 L75.79,430.40 L75.91,430.40 L76.02,430.40 L76.14,430.40 L76.26,430.40 L76.38,430.40 L76.50,430.40 L76.62,430.40 L76.74,430.40 L76.85,430.40 L76.97,430.40 L77.09,430.40 L77.21,430.40 L77.33,430.40 L77.45,430.40 L77.57,430.40 L77.68,430.40 L77.80,430.40 L77.92,430.40 L78.04,430.40 L78.16,430.40 L78.28,430.40 L78.40,430.40 L78.52,430.40 L78.63,430.40 L78.75,430.40 L78.87,430.40 L78.99,430.40 L79.11,430.40 L79.23,430.40 L79.35,430.40 L79.46,430.40 L79.58,430.40 L79.70,430.40 L79.82,430.40 L79.94,430.40 L80.06,430.40 L80.18,430.40 L80.29,430.40 L80.41,430.40 L80.53,430.40 L80.65,430.40 L80.77,430.40 L80.89,430.40 L81.01,430.40 L81.12,430.40 L81.24,430.40 L81.36,430.40 L81.48,430.40 L81.60,430.40 L81.72,430.40 L81.84,430.40 L81.95,430.40 L82.07,430.40 L82.19,430.40 L82.31,430.40 L82.43,430.40 L82.55,430.40 L82.67,430.40 L82.78,430.40 L82.90,430.40 L83.02,430.40 L83.14,430.40 L83.26,430.40 L83.38,430.40 L83.50,430.40 L83.61,430.40 L83.73,430.40 L83.85,430.40 L83.97,430.40 L84.09,430.40 L84.21,430.40 L84.33,430.40 L84.44,430.40 L84.56,430.40 L84.68,430.40 L84.80,430.40 L84.92,430.40 L85.04,430.40 L85.16,430.40 L85.28,430.40 L85.39,430.40 L85.51,430.40 L85.63,430.40 L85.75,430.40 L85.87,430.40 L85.99,430.40 L86.11,430.40 L86.22,430.40 L86.34,430.40 L86.46,430.40 L86.58,430.40 L86.70,430.40 L86.82,430.40 L86.94,430.40 L87.05,430.40 L87.17,430.40 L87.29,430.40 L87.41,430.40 L87.53,430.40 L87.65,430.40 L87.77,430.40 L87.88,430.40 L88.00,430.40 L88.12,430.40 L88.24,430.40 L88.36,430.40 L88.48,430.40 L88.60,430.40 L88.71,430.40 L88.83,430.40 L88.95,430.40 L89.07,430.40 L89.19,430.40 L89.31,430.40 L89.43,430.40 L89.54,430.40 L89.66,430.40 L89.78,430.40 L89.90,430.40 L90.02,430.40 L90.14,430.40 L90.26,430.40 L90.38,430.40 L90.49,430.40 L90.61,430.40 L90.73,430.40 L90.85,430.40 L90.97,430.40 L91.09,430.40 L91.21,430.40 L91.32,430.40 L91.44,430.40 L91.56,430.40 L91.68,430.40 L91.80,430.40 L91.92,430.40 L92.04,430.40 L92.15,430.40 L92.27,430.40 L92.39,430.40 L92.51,430.40 L92.63,430.40 L92.75,430.40 L92.87,430.40 L92.98,430.40 L93.10,430.40 L93.22,430.40 L93.34,430.40 L93.34,430.40 Z" fill="#c9d3e8" stroke="#333" stroke-width="0.35"/>
<path d="M55.74,430.40 L55.74,430.40 L55.86,430.40 L55.98,430.40 L56.10,430.39 L56.22,430.36 L56.34,430.29 L56.46,430.11 L56.57,429.68 L56.69,428.76 L56.81,426.97 L56.93,423.84 L57.05,418.89 L57.17,411.88 L57.29,403.07 L57.40,393.41 L57.52,384.47 L57.64,378.11 L57.76,375.80 L57.88,378.11 L58.00,384.47 L58.12,393.41 L58.23,403.07 L58.35,411.88 L58.47,418.89 L58.59,423.84 L58.71,426.97 L58.83,428.76 L58.95,429.68 L59.06,429.31 L59.18,429.49 L59.30,429.56 L59.42,429.59 L59.54,429.60 L59.66,429.60 L59.78,429.60 L59.78,430.40 Z" fill="#a01029" stroke="#3a0a12" stroke-width="0.25"/>
<path d="M66.89,430.40 L66.89,429.60 L67.01,429.60 L67.13,429.60 L67.25,429.60 L67.37,429.59 L67.49,429.58 L67.60,429.57 L67.72,429.53 L67.84,429.48 L67.96,429.38 L68.08,429.23 L68.20,428.98 L68.32,428.62 L68.43,428.11 L68.55,427.42 L68.67,427.34 L68.79,426.27 L68.91,425.05 L69.03,423.73 L69.15,422.41 L69.26,421.21 L69.38,420.25 L69.50,419.62 L69.62,419.40 L69.74,419.62 L69.86,420.25 L69.98,421.21 L70.09,422.41 L70.21,423.73 L70.33,425.05 L70.45,426.27 L70.57,427.34 L70.69,428.22 L70.81,428.91 L70.92,429.42 L71.04,429.78 L71.16,430.03 L71.28,430.18 L71.40,430.28 L71.52,430.33 L71.64,430.37 L71.75,430.38 L71.87,430.39 L71.99,430.40 L72.11,430.40 L72.23,430.40 L72.35,430.40 L72.35,430.40 Z" fill="#a01029" stroke="#3a0a12" stroke-width="0.25"/>
<line x1="45.9" y1="375.8" x2="45.9" y2="430.4" stroke="#000" stroke-width="0.7"/>
<line x1="45.9" y1="430.4" x2="106.69999999999999" y2="430.4" stroke="#000" stroke-width="0.7"/>
<line x1="45.90" y1="430.4" x2="45.90" y2="431.59999999999997" stroke="#000" stroke-width="0.35"/><line x1="48.27" y1="430.4" x2="48.27" y2="431.09999999999997" stroke="#000" stroke-width="0.35"/><line x1="50.64" y1="430.4" x2="50.64" y2="431.09999999999997" stroke="#000" stroke-width="0.35"/><line x1="53.02" y1="430.4" x2="53.02" y2="431.09999999999997" stroke="#000" stroke-width="0.35"/><line x1="55.39" y1="430.4" x2="55.39" y2="431.09999999999997" stroke="#000" stroke-width="0.35"/><line x1="57.76" y1="430.4" x2="57.76" y2="431.59999999999997" stroke="#000" stroke-width="0.35"/><line x1="60.13" y1="430.4" x2="60.13" y2="431.09999999999997" stroke="#000" stroke-width="0.35"/><line x1="62.50" y1="430.4" x2="62.50" y2="431.09999999999997" stroke="#000" stroke-width="0.35"/><line x1="64.88" y1="430.4" x2="64.88" y2="431.09999999999997" stroke="#000" stroke-width="0.35"/><line x1="67.25" y1="430.4" x2="67.25" y2="431.09999999999997" stroke="#000" stroke-width="0.35"/><line x1="69.62" y1="430.4" x2="69.62" y2="431.59999999999997" stroke="#000" stroke-width="0.35"/><line x1="71.99" y1="430.4" x2="71.99" y2="431.09999999999997" stroke="#000" stroke-width="0.35"/><line x1="74.36" y1="430.4" x2="74.36" y2="431.09999999999997" stroke="#000" stroke-width="0.35"/><line x1="76.74" y1="430.4" x2="76.74" y2="431.09999999999997" stroke="#000" stroke-width="0.35"/><line x1="79.11" y1="430.4" x2="79.11" y2="431.09999999999997" stroke="#000" stroke-width="0.35"/><line x1="81.48" y1="430.4" x2="81.48" y2="431.59999999999997" stroke="#000" stroke-width="0.35"/><line x1="83.85" y1="430.4" x2="83.85" y2="431.09999999999997" stroke="#000" stroke-width="0.35"/><line x1="86.22" y1="430.4" x2="86.22" y2="431.09999999999997" stroke="#000" stroke-width="0.35"/><line x1="88.60" y1="430.4" x2="88.60" y2="431.09999999999997" stroke="#000" stroke-width="0.35"/><line x1="90.97" y1="430.4" x2="90.97" y2="431.09999999999997" stroke="#000" stroke-width="0.35"/><line x1="93.34" y1="430.4" x2="93.34" y2="431.59999999999997" stroke="#000" stroke-width="0.35"/><line x1="95.71" y1="430.4" x2="95.71" y2="431.09999999999997" stroke="#000" stroke-width="0.35"/><line x1="98.08" y1="430.4" x2="98.08" y2="431.09999999999997" stroke="#000" stroke-width="0.35"/><line x1="100.46" y1="430.4" x2="100.46" y2="431.09999999999997" stroke="#000" stroke-width="0.35"/><line x1="102.83" y1="430.4" x2="102.83" y2="431.09999999999997" stroke="#000" stroke-width="0.35"/><line x1="105.20" y1="430.4" x2="105.20" y2="431.59999999999997" stroke="#000" stroke-width="0.35"/><line x1="45.199999999999996" y1="430.40" x2="45.9" y2="430.40" stroke="#000" stroke-width="0.35"/><line x1="45.199999999999996" y1="428.20" x2="45.9" y2="428.20" stroke="#000" stroke-width="0.35"/><line x1="45.199999999999996" y1="426.00" x2="45.9" y2="426.00" stroke="#000" stroke-width="0.35"/><line x1="45.199999999999996" y1="423.80" x2="45.9" y2="423.80" stroke="#000" stroke-width="0.35"/><line x1="45.199999999999996" y1="421.60" x2="45.9" y2="421.60" stroke="#000" stroke-width="0.35"/><line x1="45.199999999999996" y1="419.40" x2="45.9" y2="419.40" stroke="#000" stroke-width="0.35"/><line x1="45.199999999999996" y1="417.20" x2="45.9" y2="417.20" stroke="#000" stroke-width="0.35"/><line x1="45.199999999999996" y1="415.00" x2="45.9" y2="415.00" stroke="#000" stroke-width="0.35"/><line x1="45.199999999999996" y1="412.80" x2="45.9" y2="412.80" stroke="#000" stroke-width="0.35"/><line x1="45.199999999999996" y1="410.60" x2="45.9" y2="410.60" stroke="#000" stroke-width="0.35"/><line x1="45.199999999999996" y1="408.40" x2="45.9" y2="408.40" stroke="#000" stroke-width="0.35"/><line x1="45.199999999999996" y1="406.20" x2="45.9" y2="406.20" stroke="#000" stroke-width="0.35"/><line x1="45.199999999999996" y1="404.00" x2="45.9" y2="404.00" stroke="#000" stroke-width="0.35"/><line x1="45.199999999999996" y1="401.80" x2="45.9" y2="401.80" stroke="#000" stroke-width="0.35"/><line x1="45.199999999999996" y1="399.60" x2="45.9" y2="399.60" stroke="#000" stroke-width="0.35"/><line x1="45.199999999999996" y1="397.40" x2="45.9" y2="397.40" stroke="#000" stroke-width="0.35"/><line x1="45.199999999999996" y1="395.20" x2="45.9" y2="395.20" stroke="#000" stroke-width="0.35"/><line x1="45.199999999999996" y1="393.00" x2="45.9" y2="393.00" stroke="#000" stroke-width="0.35"/><line x1="45.199999999999996" y1="390.80" x2="45.9" y2="390.80" stroke="#000" stroke-width="0.35"/><line x1="45.199999999999996" y1="388.60" x2="45.9" y2="388.60" stroke="#000" stroke-width="0.35"/><line x1="45.199999999999996" y1="386.40" x2="45.9" y2="386.40" stroke="#000" stroke-width="0.35"/><line x1="45.199999999999996" y1="384.20" x2="45.9" y2="384.20" stroke="#000" stroke-width="0.35"/><line x1="45.199999999999996" y1="382.00" x2="45.9" y2="382.00" stroke="#000" stroke-width="0.35"/><line x1="45.199999999999996" y1="379.80" x2="45.9" y2="379.80" stroke="#000" stroke-width="0.35"/><line x1="45.199999999999996" y1="377.60" x2="45.9" y2="377.60" stroke="#000" stroke-width="0.35"/>
<text x="41.5" y="388.2" font-size="4.9" text-anchor="end" font-weight="normal" fill="#222" stroke="#222" stroke-width="0.12">4000</text>
<text x="41.5" y="399.2" font-size="4.9" text-anchor="end" font-weight="normal" fill="#222" stroke="#222" stroke-width="0.12">3000</text>
<text x="41.5" y="410.09999999999997" font-size="4.9" text-anchor="end" font-weight="normal" fill="#222" stroke="#222" stroke-width="0.12">2000</text>
<text x="41.5" y="421.09999999999997" font-size="4.9" text-anchor="end" font-weight="normal" fill="#222" stroke="#222" stroke-width="0.12">1000</text>
<text x="41.5" y="431.9" font-size="4.9" text-anchor="end" font-weight="normal" fill="#222" stroke="#222" stroke-width="0.12">0</text>
<text x="45.9" y="438.9" font-size="4.9" text-anchor="middle" font-weight="normal" fill="#222" stroke="#222" stroke-width="0.12">0</text>
<text x="57.76" y="438.9" font-size="4.9" text-anchor="middle" font-weight="normal" fill="#222" stroke="#222" stroke-width="0.12">50</text>
<text x="69.62" y="438.9" font-size="4.9" text-anchor="middle" font-weight="normal" fill="#222" stroke="#222" stroke-width="0.12">100</text>
<text x="81.47999999999999" y="438.9" font-size="4.9" text-anchor="middle" font-weight="normal" fill="#222" stroke="#222" stroke-width="0.12">150</text>
<text x="93.34" y="438.9" font-size="4.9" text-anchor="middle" font-weight="normal" fill="#222" stroke="#222" stroke-width="0.12">200</text>
<text x="105.19999999999999" y="438.9" font-size="4.9" text-anchor="middle" font-weight="normal" fill="#222" stroke="#222" stroke-width="0.12">250</text>
<text x="76.4395" y="448.09999999999997" font-size="7.2" text-anchor="middle" font-weight="normal" fill="#222" textLength="41" lengthAdjust="spacingAndGlyphs" stroke="#222" stroke-width="0.12">Channels (PE-A)</text>
<text x="0" y="0" font-size="7.0" text-anchor="middle" font-weight="normal" fill="#222" transform="translate(25.599999999999998,403.6) rotate(-90)" textLength="21.5" lengthAdjust="spacingAndGlyphs" stroke="#222" stroke-width="0.12">Number</text>
<rect x="67.8" y="379.6" width="3.7" height="3.7" fill="#a01029" stroke="#333" stroke-width="0.6"/>
<text x="0" y="0" font-size="4.8" text-anchor="start" font-weight="normal" fill="#222" transform="translate(73.3,382.90000000000003) scale(0.83,1)" stroke="#222" stroke-width="0.12">G1</text>
<text x="0" y="0" font-size="4.8" text-anchor="start" font-weight="normal" fill="#222" transform="translate(85.6,382.90000000000003) scale(0.83,1)" stroke="#222" stroke-width="0.12">42%</text>
<rect x="67.8" y="385.1" width="3.7" height="3.7" fill="#fff" stroke="#333" stroke-width="0.6"/>
<text x="0" y="0" font-size="4.8" text-anchor="start" font-weight="normal" fill="#222" transform="translate(76.5,388.40000000000003) scale(0.83,1)" stroke="#222" stroke-width="0.12">S</text>
<text x="0" y="0" font-size="4.8" text-anchor="start" font-weight="normal" fill="#222" transform="translate(85.6,388.40000000000003) scale(0.83,1)" stroke="#222" stroke-width="0.12">41%</text>
<rect x="67.8" y="390.6" width="3.7" height="3.7" fill="#a01029" stroke="#333" stroke-width="0.6"/>
<text x="0" y="0" font-size="4.8" text-anchor="start" font-weight="normal" fill="#222" transform="translate(73.3,393.90000000000003) scale(0.83,1)" stroke="#222" stroke-width="0.12">G2/M</text>
<text x="0" y="0" font-size="4.8" text-anchor="start" font-weight="normal" fill="#222" transform="translate(85.6,393.90000000000003) scale(0.83,1)" stroke="#222" stroke-width="0.12">17%</text>
<path d="M137.40,430.40 L137.40,427.10 L137.52,427.39 L137.64,427.65 L137.76,427.88 L137.87,428.08 L137.99,428.26 L138.11,428.42 L138.23,428.56 L138.35,428.68 L138.47,428.79 L138.59,428.88 L138.70,428.97 L138.82,429.04 L138.94,429.11 L139.06,429.17 L139.18,429.22 L139.30,429.26 L139.42,429.30 L139.53,429.34 L139.65,429.37 L139.77,429.39 L139.89,429.42 L140.01,429.44 L140.13,429.46 L140.25,429.48 L140.37,429.49 L140.48,429.50 L140.60,429.51 L140.72,429.52 L140.84,429.53 L140.96,429.54 L141.08,429.55 L141.20,429.55 L141.31,429.56 L141.43,429.56 L141.55,429.57 L141.67,429.57 L141.79,429.58 L141.91,429.58 L142.03,429.58 L142.14,429.58 L142.26,429.59 L142.38,429.59 L142.50,429.59 L142.62,429.59 L142.74,429.59 L142.86,429.59 L142.97,429.59 L143.09,429.59 L143.21,429.59 L143.33,429.60 L143.45,429.60 L143.57,429.60 L143.69,429.60 L143.80,429.60 L143.92,429.60 L144.04,429.60 L144.16,429.60 L144.28,429.60 L144.40,429.60 L144.52,429.60 L144.63,429.60 L144.75,429.60 L144.87,429.60 L144.99,429.60 L145.11,429.60 L145.23,429.60 L145.35,429.60 L145.46,429.60 L145.58,429.60 L145.70,429.60 L145.82,429.60 L145.94,429.60 L146.06,429.60 L146.18,429.60 L146.30,429.60 L146.41,429.60 L146.53,429.60 L146.65,429.60 L146.77,429.60 L146.89,429.60 L147.01,429.60 L147.13,429.60 L147.24,429.60 L147.36,429.60 L147.48,429.60 L147.60,429.60 L147.72,429.60 L147.84,429.60 L147.96,429.60 L148.07,429.60 L148.19,429.60 L148.31,429.60 L148.43,429.60 L148.55,429.60 L148.67,429.60 L148.79,429.60 L148.90,429.60 L149.02,429.60 L149.14,429.60 L149.26,429.60 L149.38,429.60 L149.50,429.60 L149.62,429.60 L149.73,429.60 L149.85,429.60 L149.97,429.60 L150.09,429.60 L150.21,429.60 L150.33,429.60 L150.45,429.60 L150.56,429.60 L150.68,429.60 L150.80,429.60 L150.92,429.60 L151.04,429.60 L151.16,429.60 L151.28,429.60 L151.39,429.60 L151.51,429.60 L151.63,429.60 L151.75,429.60 L151.87,429.60 L151.99,429.60 L152.11,429.60 L152.22,429.60 L152.34,429.60 L152.46,429.60 L152.58,429.60 L152.70,429.60 L152.82,429.60 L152.94,429.60 L153.06,429.60 L153.17,429.60 L153.29,429.60 L153.41,429.60 L153.53,429.60 L153.65,429.60 L153.77,429.60 L153.89,429.60 L154.00,429.60 L154.12,429.60 L154.24,429.60 L154.36,429.60 L154.48,429.60 L154.60,429.60 L154.72,429.60 L154.83,429.60 L154.95,429.60 L155.07,429.60 L155.19,429.60 L155.31,429.60 L155.43,429.60 L155.55,429.60 L155.66,429.60 L155.78,429.60 L155.90,429.60 L156.02,429.60 L156.14,429.60 L156.26,429.60 L156.38,429.60 L156.49,429.60 L156.61,429.60 L156.73,429.60 L156.85,429.60 L156.97,429.60 L157.09,429.60 L157.21,429.60 L157.32,429.60 L157.44,429.60 L157.56,429.60 L157.68,429.60 L157.80,429.60 L157.92,429.60 L158.04,429.60 L158.16,429.60 L158.27,429.60 L158.39,429.60 L158.51,429.60 L158.63,429.60 L158.75,429.60 L158.87,429.60 L158.99,429.60 L159.10,429.60 L159.22,429.60 L159.34,429.60 L159.46,429.60 L159.58,429.60 L159.70,429.60 L159.82,429.60 L159.93,429.60 L160.05,429.60 L160.17,429.60 L160.29,429.60 L160.41,429.60 L160.53,429.60 L160.65,429.60 L160.76,429.60 L160.88,429.60 L161.00,429.60 L161.12,429.60 L161.24,429.60 L161.36,429.60 L161.48,429.60 L161.59,429.60 L161.71,429.60 L161.83,429.60 L161.95,429.60 L162.07,429.60 L162.19,429.60 L162.31,429.60 L162.42,429.60 L162.54,429.60 L162.66,429.60 L162.78,429.60 L162.90,429.60 L163.02,429.60 L163.14,429.60 L163.25,429.60 L163.37,429.60 L163.49,429.60 L163.61,429.60 L163.73,429.60 L163.85,429.60 L163.97,429.60 L164.09,429.60 L164.20,429.60 L164.32,429.60 L164.44,429.60 L164.56,429.60 L164.68,429.60 L164.80,429.60 L164.92,429.60 L165.03,429.60 L165.15,429.60 L165.27,429.60 L165.39,429.60 L165.51,429.60 L165.63,429.60 L165.75,429.60 L165.86,430.40 L165.98,430.40 L166.10,430.40 L166.22,430.40 L166.34,430.40 L166.46,430.40 L166.58,430.40 L166.69,430.40 L166.81,430.40 L166.93,430.40 L167.05,430.40 L167.17,430.40 L167.29,430.40 L167.41,430.40 L167.52,430.40 L167.64,430.40 L167.76,430.40 L167.88,430.40 L168.00,430.40 L168.12,430.40 L168.24,430.40 L168.35,430.40 L168.47,430.40 L168.59,430.40 L168.71,430.40 L168.83,430.40 L168.95,430.40 L169.07,430.40 L169.18,430.40 L169.30,430.40 L169.42,430.40 L169.54,430.40 L169.66,430.40 L169.78,430.40 L169.90,430.40 L170.02,430.40 L170.13,430.40 L170.25,430.40 L170.37,430.40 L170.49,430.40 L170.61,430.40 L170.73,430.40 L170.85,430.40 L170.96,430.40 L171.08,430.40 L171.20,430.40 L171.32,430.40 L171.44,430.40 L171.56,430.40 L171.68,430.40 L171.79,430.40 L171.91,430.40 L172.03,430.40 L172.15,430.40 L172.27,430.40 L172.39,430.40 L172.51,430.40 L172.62,430.40 L172.74,430.40 L172.86,430.40 L172.98,430.40 L173.10,430.40 L173.22,430.40 L173.34,430.40 L173.45,430.40 L173.57,430.40 L173.69,430.40 L173.81,430.40 L173.93,430.40 L174.05,430.40 L174.17,430.40 L174.28,430.40 L174.40,430.40 L174.52,430.40 L174.64,430.40 L174.76,430.40 L174.88,430.40 L175.00,430.40 L175.11,430.40 L175.23,430.40 L175.35,430.40 L175.47,430.40 L175.59,430.40 L175.71,430.40 L175.83,430.40 L175.94,430.40 L176.06,430.40 L176.18,430.40 L176.30,430.40 L176.42,430.40 L176.54,430.40 L176.66,430.40 L176.78,430.40 L176.89,430.40 L177.01,430.40 L177.13,430.40 L177.25,430.40 L177.37,430.40 L177.49,430.40 L177.61,430.40 L177.72,430.40 L177.84,430.40 L177.96,430.40 L178.08,430.40 L178.20,430.40 L178.32,430.40 L178.44,430.40 L178.55,430.40 L178.67,430.40 L178.79,430.40 L178.91,430.40 L179.03,430.40 L179.15,430.40 L179.27,430.40 L179.38,430.40 L179.50,430.40 L179.62,430.40 L179.74,430.40 L179.86,430.40 L179.98,430.40 L180.10,430.40 L180.21,430.40 L180.33,430.40 L180.45,430.40 L180.57,430.40 L180.69,430.40 L180.81,430.40 L180.93,430.40 L181.04,430.40 L181.16,430.40 L181.28,430.40 L181.40,430.40 L181.52,430.40 L181.64,430.40 L181.76,430.40 L181.88,430.40 L181.99,430.40 L182.11,430.40 L182.23,430.40 L182.35,430.40 L182.47,430.40 L182.59,430.40 L182.71,430.40 L182.82,430.40 L182.94,430.40 L183.06,430.40 L183.18,430.40 L183.30,430.40 L183.42,430.40 L183.54,430.40 L183.65,430.40 L183.77,430.40 L183.89,430.40 L184.01,430.40 L184.13,430.40 L184.25,430.40 L184.37,430.40 L184.48,430.40 L184.60,430.40 L184.72,430.40 L184.84,430.40 L184.84,430.40 Z" fill="#c9d3e8" stroke="#333" stroke-width="0.35"/>
<path d="M146.89,430.40 L146.89,430.24 L147.01,430.24 L147.13,430.24 L147.24,430.23 L147.36,430.19 L147.48,430.09 L147.60,429.83 L147.72,429.19 L147.84,427.84 L147.96,425.25 L148.07,420.83 L148.19,414.13 L148.31,405.24 L148.43,395.06 L148.55,385.33 L148.67,378.24 L148.79,375.64 L148.90,378.24 L149.02,385.33 L149.14,395.06 L149.26,405.24 L149.38,414.13 L149.50,420.83 L149.62,425.25 L149.73,427.84 L149.85,429.19 L149.97,429.83 L150.09,430.09 L150.21,430.19 L150.33,430.23 L150.45,430.24 L150.56,430.24 L150.68,430.24 L150.68,430.40 Z" fill="#a01029" stroke="#3a0a12" stroke-width="0.25"/>
<path d="M157.92,430.40 L157.92,430.24 L158.04,430.24 L158.16,430.24 L158.27,430.24 L158.39,430.24 L158.51,430.24 L158.63,430.23 L158.75,430.22 L158.87,430.21 L158.99,430.18 L159.10,430.13 L159.22,430.04 L159.34,429.91 L159.46,429.73 L159.58,429.46 L159.70,429.12 L159.82,428.69 L159.93,428.18 L160.05,427.62 L160.17,427.06 L160.29,426.54 L160.41,426.11 L160.53,425.84 L160.65,425.74 L160.76,425.84 L160.88,426.11 L161.00,426.54 L161.12,427.06 L161.24,427.62 L161.36,428.18 L161.48,428.69 L161.59,429.12 L161.71,429.46 L161.83,429.73 L161.95,429.91 L162.07,430.04 L162.19,430.13 L162.31,430.18 L162.42,430.21 L162.54,430.22 L162.66,430.23 L162.78,430.24 L162.90,430.24 L163.02,430.24 L163.14,430.24 L163.25,430.24 L163.37,430.24 L163.37,430.40 Z" fill="#a01029" stroke="#3a0a12" stroke-width="0.25"/>
<line x1="137.4" y1="374.1" x2="137.4" y2="430.4" stroke="#000" stroke-width="0.7"/>
<line x1="137.4" y1="430.4" x2="198.2" y2="430.4" stroke="#000" stroke-width="0.7"/>
<line x1="137.40" y1="430.4" x2="137.40" y2="431.59999999999997" stroke="#000" stroke-width="0.35"/><line x1="139.77" y1="430.4" x2="139.77" y2="431.09999999999997" stroke="#000" stroke-width="0.35"/><line x1="142.14" y1="430.4" x2="142.14" y2="431.09999999999997" stroke="#000" stroke-width="0.35"/><line x1="144.52" y1="430.4" x2="144.52" y2="431.09999999999997" stroke="#000" stroke-width="0.35"/><line x1="146.89" y1="430.4" x2="146.89" y2="431.09999999999997" stroke="#000" stroke-width="0.35"/><line x1="149.26" y1="430.4" x2="149.26" y2="431.59999999999997" stroke="#000" stroke-width="0.35"/><line x1="151.63" y1="430.4" x2="151.63" y2="431.09999999999997" stroke="#000" stroke-width="0.35"/><line x1="154.00" y1="430.4" x2="154.00" y2="431.09999999999997" stroke="#000" stroke-width="0.35"/><line x1="156.38" y1="430.4" x2="156.38" y2="431.09999999999997" stroke="#000" stroke-width="0.35"/><line x1="158.75" y1="430.4" x2="158.75" y2="431.09999999999997" stroke="#000" stroke-width="0.35"/><line x1="161.12" y1="430.4" x2="161.12" y2="431.59999999999997" stroke="#000" stroke-width="0.35"/><line x1="163.49" y1="430.4" x2="163.49" y2="431.09999999999997" stroke="#000" stroke-width="0.35"/><line x1="165.86" y1="430.4" x2="165.86" y2="431.09999999999997" stroke="#000" stroke-width="0.35"/><line x1="168.24" y1="430.4" x2="168.24" y2="431.09999999999997" stroke="#000" stroke-width="0.35"/><line x1="170.61" y1="430.4" x2="170.61" y2="431.09999999999997" stroke="#000" stroke-width="0.35"/><line x1="172.98" y1="430.4" x2="172.98" y2="431.59999999999997" stroke="#000" stroke-width="0.35"/><line x1="175.35" y1="430.4" x2="175.35" y2="431.09999999999997" stroke="#000" stroke-width="0.35"/><line x1="177.72" y1="430.4" x2="177.72" y2="431.09999999999997" stroke="#000" stroke-width="0.35"/><line x1="180.10" y1="430.4" x2="180.10" y2="431.09999999999997" stroke="#000" stroke-width="0.35"/><line x1="182.47" y1="430.4" x2="182.47" y2="431.09999999999997" stroke="#000" stroke-width="0.35"/><line x1="184.84" y1="430.4" x2="184.84" y2="431.59999999999997" stroke="#000" stroke-width="0.35"/><line x1="187.21" y1="430.4" x2="187.21" y2="431.09999999999997" stroke="#000" stroke-width="0.35"/><line x1="189.58" y1="430.4" x2="189.58" y2="431.09999999999997" stroke="#000" stroke-width="0.35"/><line x1="191.96" y1="430.4" x2="191.96" y2="431.09999999999997" stroke="#000" stroke-width="0.35"/><line x1="194.33" y1="430.4" x2="194.33" y2="431.09999999999997" stroke="#000" stroke-width="0.35"/><line x1="196.70" y1="430.4" x2="196.70" y2="431.59999999999997" stroke="#000" stroke-width="0.35"/><line x1="136.70000000000002" y1="430.40" x2="137.4" y2="430.40" stroke="#000" stroke-width="0.35"/><line x1="136.70000000000002" y1="428.20" x2="137.4" y2="428.20" stroke="#000" stroke-width="0.35"/><line x1="136.70000000000002" y1="426.00" x2="137.4" y2="426.00" stroke="#000" stroke-width="0.35"/><line x1="136.70000000000002" y1="423.80" x2="137.4" y2="423.80" stroke="#000" stroke-width="0.35"/><line x1="136.70000000000002" y1="421.60" x2="137.4" y2="421.60" stroke="#000" stroke-width="0.35"/><line x1="136.70000000000002" y1="419.40" x2="137.4" y2="419.40" stroke="#000" stroke-width="0.35"/><line x1="136.70000000000002" y1="417.20" x2="137.4" y2="417.20" stroke="#000" stroke-width="0.35"/><line x1="136.70000000000002" y1="415.00" x2="137.4" y2="415.00" stroke="#000" stroke-width="0.35"/><line x1="136.70000000000002" y1="412.80" x2="137.4" y2="412.80" stroke="#000" stroke-width="0.35"/><line x1="136.70000000000002" y1="410.60" x2="137.4" y2="410.60" stroke="#000" stroke-width="0.35"/><line x1="136.70000000000002" y1="408.40" x2="137.4" y2="408.40" stroke="#000" stroke-width="0.35"/><line x1="136.70000000000002" y1="406.20" x2="137.4" y2="406.20" stroke="#000" stroke-width="0.35"/><line x1="136.70000000000002" y1="404.00" x2="137.4" y2="404.00" stroke="#000" stroke-width="0.35"/><line x1="136.70000000000002" y1="401.80" x2="137.4" y2="401.80" stroke="#000" stroke-width="0.35"/><line x1="136.70000000000002" y1="399.60" x2="137.4" y2="399.60" stroke="#000" stroke-width="0.35"/><line x1="136.70000000000002" y1="397.40" x2="137.4" y2="397.40" stroke="#000" stroke-width="0.35"/><line x1="136.70000000000002" y1="395.20" x2="137.4" y2="395.20" stroke="#000" stroke-width="0.35"/><line x1="136.70000000000002" y1="393.00" x2="137.4" y2="393.00" stroke="#000" stroke-width="0.35"/><line x1="136.70000000000002" y1="390.80" x2="137.4" y2="390.80" stroke="#000" stroke-width="0.35"/><line x1="136.70000000000002" y1="388.60" x2="137.4" y2="388.60" stroke="#000" stroke-width="0.35"/><line x1="136.70000000000002" y1="386.40" x2="137.4" y2="386.40" stroke="#000" stroke-width="0.35"/><line x1="136.70000000000002" y1="384.20" x2="137.4" y2="384.20" stroke="#000" stroke-width="0.35"/><line x1="136.70000000000002" y1="382.00" x2="137.4" y2="382.00" stroke="#000" stroke-width="0.35"/><line x1="136.70000000000002" y1="379.80" x2="137.4" y2="379.80" stroke="#000" stroke-width="0.35"/><line x1="136.70000000000002" y1="377.60" x2="137.4" y2="377.60" stroke="#000" stroke-width="0.35"/><line x1="136.70000000000002" y1="375.40" x2="137.4" y2="375.40" stroke="#000" stroke-width="0.35"/>
<text x="133.0" y="387.2" font-size="4.9" text-anchor="end" font-weight="normal" fill="#222" stroke="#222" stroke-width="0.12">8000</text>
<text x="133.0" y="398.5" font-size="4.9" text-anchor="end" font-weight="normal" fill="#222" stroke="#222" stroke-width="0.12">6000</text>
<text x="133.0" y="409.7" font-size="4.9" text-anchor="end" font-weight="normal" fill="#222" stroke="#222" stroke-width="0.12">4000</text>
<text x="133.0" y="420.9" font-size="4.9" text-anchor="end" font-weight="normal" fill="#222" stroke="#222" stroke-width="0.12">2000</text>
<text x="133.0" y="432.09999999999997" font-size="4.9" text-anchor="end" font-weight="normal" fill="#222" stroke="#222" stroke-width="0.12">0</text>
<text x="137.4" y="438.9" font-size="4.9" text-anchor="middle" font-weight="normal" fill="#222" stroke="#222" stroke-width="0.12">0</text>
<text x="149.26" y="438.9" font-size="4.9" text-anchor="middle" font-weight="normal" fill="#222" stroke="#222" stroke-width="0.12">50</text>
<text x="161.12" y="438.9" font-size="4.9" text-anchor="middle" font-weight="normal" fill="#222" stroke="#222" stroke-width="0.12">100</text>
<text x="172.98000000000002" y="438.9" font-size="4.9" text-anchor="middle" font-weight="normal" fill="#222" stroke="#222" stroke-width="0.12">150</text>
<text x="184.84" y="438.9" font-size="4.9" text-anchor="middle" font-weight="normal" fill="#222" stroke="#222" stroke-width="0.12">200</text>
<text x="196.7" y="438.9" font-size="4.9" text-anchor="middle" font-weight="normal" fill="#222" stroke="#222" stroke-width="0.12">250</text>
<text x="167.9395" y="448.09999999999997" font-size="7.2" text-anchor="middle" font-weight="normal" fill="#222" textLength="41" lengthAdjust="spacingAndGlyphs" stroke="#222" stroke-width="0.12">Channels (PE-A)</text>
<text x="0" y="0" font-size="7.0" text-anchor="middle" font-weight="normal" fill="#222" transform="translate(117.10000000000001,402.75) rotate(-90)" textLength="21.5" lengthAdjust="spacingAndGlyphs" stroke="#222" stroke-width="0.12">Number</text>
<rect x="159.3" y="377.90000000000003" width="3.7" height="3.7" fill="#a01029" stroke="#333" stroke-width="0.6"/>
<text x="0" y="0" font-size="4.8" text-anchor="start" font-weight="normal" fill="#222" transform="translate(164.8,381.20000000000005) scale(0.83,1)" stroke="#222" stroke-width="0.12">G1</text>
<text x="0" y="0" font-size="4.8" text-anchor="start" font-weight="normal" fill="#222" transform="translate(177.1,381.20000000000005) scale(0.83,1)" stroke="#222" stroke-width="0.12">75%</text>
<rect x="159.3" y="383.40000000000003" width="3.7" height="3.7" fill="#fff" stroke="#333" stroke-width="0.6"/>
<text x="0" y="0" font-size="4.8" text-anchor="start" font-weight="normal" fill="#222" transform="translate(168.0,386.70000000000005) scale(0.83,1)" stroke="#222" stroke-width="0.12">S</text>
<text x="0" y="0" font-size="4.8" text-anchor="start" font-weight="normal" fill="#222" transform="translate(177.1,386.70000000000005) scale(0.83,1)" stroke="#222" stroke-width="0.12">14%</text>
<rect x="159.3" y="388.90000000000003" width="3.7" height="3.7" fill="#a01029" stroke="#333" stroke-width="0.6"/>
<text x="0" y="0" font-size="4.8" text-anchor="start" font-weight="normal" fill="#222" transform="translate(164.8,392.20000000000005) scale(0.83,1)" stroke="#222" stroke-width="0.12">G2/M</text>
<text x="0" y="0" font-size="4.8" text-anchor="start" font-weight="normal" fill="#222" transform="translate(177.1,392.20000000000005) scale(0.83,1)" stroke="#222" stroke-width="0.12">11%</text>
<path d="M230.20,430.40 L230.20,378.20 L230.32,392.59 L230.44,402.27 L230.56,408.81 L230.67,413.28 L230.79,416.37 L230.91,418.53 L231.03,420.06 L231.15,421.18 L231.27,422.01 L231.39,422.64 L231.50,423.13 L231.62,423.52 L231.74,423.84 L231.86,424.11 L231.98,424.34 L232.10,424.53 L232.22,424.70 L232.33,424.86 L232.45,424.99 L232.57,425.11 L232.69,425.21 L232.81,425.31 L232.93,425.40 L233.05,425.47 L233.16,425.54 L233.28,425.61 L233.40,425.66 L233.52,425.71 L233.64,425.76 L233.76,425.80 L233.88,425.84 L234.00,425.87 L234.11,425.90 L234.23,425.93 L234.35,425.96 L234.47,425.98 L234.59,426.00 L234.71,426.02 L234.83,426.04 L234.94,426.05 L235.06,426.07 L235.18,426.08 L235.30,426.09 L235.42,426.10 L235.54,426.11 L235.66,426.12 L235.77,426.13 L235.89,426.13 L236.01,426.14 L236.13,426.15 L236.25,426.15 L236.37,426.16 L236.49,426.16 L236.60,426.16 L236.72,426.17 L236.84,426.17 L236.96,426.17 L237.08,426.18 L237.20,426.18 L237.32,426.18 L237.43,426.18 L237.55,426.18 L237.67,426.19 L237.79,426.19 L237.91,426.19 L238.03,426.19 L238.15,426.19 L238.26,426.19 L238.38,426.19 L238.50,426.19 L238.62,426.19 L238.74,426.19 L238.86,426.19 L238.98,426.20 L239.09,426.20 L239.21,426.20 L239.33,426.20 L239.45,426.20 L239.57,426.20 L239.69,426.20 L239.81,426.20 L239.93,426.20 L240.04,426.20 L240.16,426.20 L240.28,426.20 L240.40,426.20 L240.52,426.20 L240.64,426.20 L240.76,426.20 L240.87,426.20 L240.99,426.20 L241.11,426.20 L241.23,426.20 L241.35,426.20 L241.47,426.20 L241.59,426.20 L241.70,426.20 L241.82,426.20 L241.94,426.20 L242.06,426.20 L242.18,426.20 L242.30,426.20 L242.42,426.20 L242.53,426.20 L242.65,426.20 L242.77,426.20 L242.89,426.20 L243.01,426.20 L243.13,426.20 L243.25,426.20 L243.36,426.20 L243.48,426.20 L243.60,426.20 L243.72,426.20 L243.84,426.20 L243.96,426.20 L244.08,426.20 L244.19,426.20 L244.31,426.20 L244.43,426.20 L244.55,426.20 L244.67,426.20 L244.79,426.20 L244.91,426.20 L245.02,426.20 L245.14,426.20 L245.26,426.20 L245.38,426.20 L245.50,426.20 L245.62,426.20 L245.74,426.20 L245.86,426.20 L245.97,426.20 L246.09,426.20 L246.21,426.20 L246.33,426.20 L246.45,426.20 L246.57,426.20 L246.69,426.20 L246.80,426.20 L246.92,426.20 L247.04,426.20 L247.16,426.20 L247.28,426.20 L247.40,426.20 L247.52,426.20 L247.63,426.20 L247.75,426.20 L247.87,426.20 L247.99,426.20 L248.11,426.20 L248.23,426.20 L248.35,426.20 L248.46,426.20 L248.58,426.20 L248.70,426.20 L248.82,426.20 L248.94,426.20 L249.06,426.20 L249.18,426.20 L249.29,426.20 L249.41,426.20 L249.53,426.20 L249.65,426.20 L249.77,426.20 L249.89,426.20 L250.01,426.20 L250.12,426.20 L250.24,426.20 L250.36,426.20 L250.48,426.20 L250.60,426.20 L250.72,426.20 L250.84,426.20 L250.95,426.20 L251.07,426.20 L251.19,426.20 L251.31,426.20 L251.43,426.20 L251.55,426.20 L251.67,426.20 L251.79,426.20 L251.90,426.20 L252.02,426.20 L252.14,426.20 L252.26,426.20 L252.38,426.20 L252.50,426.20 L252.62,426.20 L252.73,426.20 L252.85,426.20 L252.97,426.20 L253.09,426.20 L253.21,426.20 L253.33,426.20 L253.45,426.20 L253.56,426.20 L253.68,426.20 L253.80,426.20 L253.92,426.20 L254.04,426.20 L254.16,426.20 L254.28,426.20 L254.39,426.20 L254.51,426.20 L254.63,426.20 L254.75,426.20 L254.87,426.20 L254.99,426.20 L255.11,426.20 L255.22,426.20 L255.34,426.20 L255.46,426.20 L255.58,426.20 L255.70,426.20 L255.82,426.20 L255.94,426.20 L256.05,426.20 L256.17,426.20 L256.29,430.40 L256.41,430.40 L256.53,430.40 L256.65,430.40 L256.77,430.40 L256.88,430.40 L257.00,430.40 L257.12,430.40 L257.24,430.40 L257.36,430.40 L257.48,430.40 L257.60,430.40 L257.72,430.40 L257.83,430.40 L257.95,430.40 L258.07,430.40 L258.19,430.40 L258.31,430.40 L258.43,430.40 L258.55,430.40 L258.66,430.40 L258.78,430.40 L258.90,430.40 L259.02,430.40 L259.14,430.40 L259.26,430.40 L259.38,430.40 L259.49,430.40 L259.61,430.40 L259.73,430.40 L259.85,430.40 L259.97,430.40 L260.09,430.40 L260.21,430.40 L260.32,430.40 L260.44,430.40 L260.56,430.40 L260.68,430.40 L260.80,430.40 L260.92,430.40 L261.04,430.40 L261.15,430.40 L261.27,430.40 L261.39,430.40 L261.51,430.40 L261.63,430.40 L261.75,430.40 L261.87,430.40 L261.98,430.40 L262.10,430.40 L262.22,430.40 L262.34,430.40 L262.46,430.40 L262.58,430.40 L262.70,430.40 L262.81,430.40 L262.93,430.40 L263.05,430.40 L263.17,430.40 L263.29,430.40 L263.41,430.40 L263.53,430.40 L263.65,430.40 L263.76,430.40 L263.88,430.40 L264.00,430.40 L264.12,430.40 L264.24,430.40 L264.36,430.40 L264.48,430.40 L264.59,430.40 L264.71,430.40 L264.83,430.40 L264.95,430.40 L265.07,430.40 L265.19,430.40 L265.31,430.40 L265.42,430.40 L265.54,430.40 L265.66,430.40 L265.78,430.40 L265.90,430.40 L266.02,430.40 L266.14,430.40 L266.25,430.40 L266.37,430.40 L266.49,430.40 L266.61,430.40 L266.73,430.40 L266.85,430.40 L266.97,430.40 L267.08,430.40 L267.20,430.40 L267.32,430.40 L267.44,430.40 L267.56,430.40 L267.68,430.40 L267.80,430.40 L267.91,430.40 L268.03,430.40 L268.15,430.40 L268.27,430.40 L268.39,430.40 L268.51,430.40 L268.63,430.40 L268.75,430.40 L268.86,430.40 L268.98,430.40 L269.10,430.40 L269.22,430.40 L269.34,430.40 L269.46,430.40 L269.58,430.40 L269.69,430.40 L269.81,430.40 L269.93,430.40 L270.05,430.40 L270.17,430.40 L270.29,430.40 L270.41,430.40 L270.52,430.40 L270.64,430.40 L270.76,430.40 L270.88,430.40 L271.00,430.40 L271.12,430.40 L271.24,430.40 L271.35,430.40 L271.47,430.40 L271.59,430.40 L271.71,430.40 L271.83,430.40 L271.95,430.40 L272.07,430.40 L272.18,430.40 L272.30,430.40 L272.42,430.40 L272.54,430.40 L272.66,430.40 L272.78,430.40 L272.90,430.40 L273.01,430.40 L273.13,430.40 L273.25,430.40 L273.37,430.40 L273.49,430.40 L273.61,430.40 L273.73,430.40 L273.84,430.40 L273.96,430.40 L274.08,430.40 L274.20,430.40 L274.32,430.40 L274.44,430.40 L274.56,430.40 L274.68,430.40 L274.79,430.40 L274.91,430.40 L275.03,430.40 L275.15,430.40 L275.27,430.40 L275.39,430.40 L275.51,430.40 L275.62,430.40 L275.74,430.40 L275.86,430.40 L275.98,430.40 L276.10,430.40 L276.22,430.40 L276.34,430.40 L276.45,430.40 L276.57,430.40 L276.69,430.40 L276.81,430.40 L276.93,430.40 L277.05,430.40 L277.17,430.40 L277.28,430.40 L277.40,430.40 L277.52,430.40 L277.64,430.40 L277.64,430.40 Z" fill="#c9d3e8" stroke="#333" stroke-width="0.35"/>
<path d="M240.40,430.40 L240.40,429.56 L240.52,429.56 L240.64,429.56 L240.76,429.55 L240.87,429.51 L240.99,429.41 L241.11,429.14 L241.23,428.51 L241.35,427.14 L241.47,424.53 L241.59,420.08 L241.70,413.33 L241.82,404.38 L241.94,394.12 L242.06,384.32 L242.18,377.18 L242.30,374.56 L242.42,377.18 L242.53,384.32 L242.65,394.12 L242.77,404.38 L242.89,413.33 L243.01,420.08 L243.13,424.53 L243.25,427.14 L243.36,428.51 L243.48,429.14 L243.60,429.41 L243.72,429.51 L243.84,429.55 L243.96,429.56 L244.08,429.56 L244.19,429.56 L244.19,430.40 Z" fill="#a01029" stroke="#3a0a12" stroke-width="0.25"/>
<path d="M251.79,430.40 L251.79,429.56 L251.90,429.56 L252.02,429.56 L252.14,429.56 L252.26,429.55 L252.38,429.54 L252.50,429.53 L252.62,429.50 L252.73,429.45 L252.85,429.37 L252.97,429.23 L253.09,429.01 L253.21,428.69 L253.33,428.23 L253.45,427.59 L253.56,426.76 L253.68,425.73 L253.80,424.51 L253.92,423.14 L254.04,421.69 L254.16,420.26 L254.28,418.98 L254.39,417.95 L254.51,417.29 L254.63,417.06 L254.75,417.29 L254.87,417.95 L254.99,418.98 L255.11,420.26 L255.22,421.69 L255.34,423.14 L255.46,424.51 L255.58,425.73 L255.70,426.76 L255.82,427.59 L255.94,428.23 L256.05,428.69 L256.17,429.01 L256.29,430.07 L256.41,430.21 L256.53,430.29 L256.65,430.34 L256.77,430.37 L256.88,430.38 L257.00,430.39 L257.12,430.40 L257.24,430.40 L257.36,430.40 L257.48,430.40 L257.48,430.40 Z" fill="#a01029" stroke="#3a0a12" stroke-width="0.25"/>
<line x1="230.2" y1="372.9" x2="230.2" y2="430.4" stroke="#000" stroke-width="0.7"/>
<line x1="230.2" y1="430.4" x2="291.0" y2="430.4" stroke="#000" stroke-width="0.7"/>
<line x1="230.20" y1="430.4" x2="230.20" y2="431.59999999999997" stroke="#000" stroke-width="0.35"/><line x1="232.57" y1="430.4" x2="232.57" y2="431.09999999999997" stroke="#000" stroke-width="0.35"/><line x1="234.94" y1="430.4" x2="234.94" y2="431.09999999999997" stroke="#000" stroke-width="0.35"/><line x1="237.32" y1="430.4" x2="237.32" y2="431.09999999999997" stroke="#000" stroke-width="0.35"/><line x1="239.69" y1="430.4" x2="239.69" y2="431.09999999999997" stroke="#000" stroke-width="0.35"/><line x1="242.06" y1="430.4" x2="242.06" y2="431.59999999999997" stroke="#000" stroke-width="0.35"/><line x1="244.43" y1="430.4" x2="244.43" y2="431.09999999999997" stroke="#000" stroke-width="0.35"/><line x1="246.80" y1="430.4" x2="246.80" y2="431.09999999999997" stroke="#000" stroke-width="0.35"/><line x1="249.18" y1="430.4" x2="249.18" y2="431.09999999999997" stroke="#000" stroke-width="0.35"/><line x1="251.55" y1="430.4" x2="251.55" y2="431.09999999999997" stroke="#000" stroke-width="0.35"/><line x1="253.92" y1="430.4" x2="253.92" y2="431.59999999999997" stroke="#000" stroke-width="0.35"/><line x1="256.29" y1="430.4" x2="256.29" y2="431.09999999999997" stroke="#000" stroke-width="0.35"/><line x1="258.66" y1="430.4" x2="258.66" y2="431.09999999999997" stroke="#000" stroke-width="0.35"/><line x1="261.04" y1="430.4" x2="261.04" y2="431.09999999999997" stroke="#000" stroke-width="0.35"/><line x1="263.41" y1="430.4" x2="263.41" y2="431.09999999999997" stroke="#000" stroke-width="0.35"/><line x1="265.78" y1="430.4" x2="265.78" y2="431.59999999999997" stroke="#000" stroke-width="0.35"/><line x1="268.15" y1="430.4" x2="268.15" y2="431.09999999999997" stroke="#000" stroke-width="0.35"/><line x1="270.52" y1="430.4" x2="270.52" y2="431.09999999999997" stroke="#000" stroke-width="0.35"/><line x1="272.90" y1="430.4" x2="272.90" y2="431.09999999999997" stroke="#000" stroke-width="0.35"/><line x1="275.27" y1="430.4" x2="275.27" y2="431.09999999999997" stroke="#000" stroke-width="0.35"/><line x1="277.64" y1="430.4" x2="277.64" y2="431.59999999999997" stroke="#000" stroke-width="0.35"/><line x1="280.01" y1="430.4" x2="280.01" y2="431.09999999999997" stroke="#000" stroke-width="0.35"/><line x1="282.38" y1="430.4" x2="282.38" y2="431.09999999999997" stroke="#000" stroke-width="0.35"/><line x1="284.76" y1="430.4" x2="284.76" y2="431.09999999999997" stroke="#000" stroke-width="0.35"/><line x1="287.13" y1="430.4" x2="287.13" y2="431.09999999999997" stroke="#000" stroke-width="0.35"/><line x1="289.50" y1="430.4" x2="289.50" y2="431.59999999999997" stroke="#000" stroke-width="0.35"/><line x1="229.5" y1="430.40" x2="230.2" y2="430.40" stroke="#000" stroke-width="0.35"/><line x1="229.5" y1="428.20" x2="230.2" y2="428.20" stroke="#000" stroke-width="0.35"/><line x1="229.5" y1="426.00" x2="230.2" y2="426.00" stroke="#000" stroke-width="0.35"/><line x1="229.5" y1="423.80" x2="230.2" y2="423.80" stroke="#000" stroke-width="0.35"/><line x1="229.5" y1="421.60" x2="230.2" y2="421.60" stroke="#000" stroke-width="0.35"/><line x1="229.5" y1="419.40" x2="230.2" y2="419.40" stroke="#000" stroke-width="0.35"/><line x1="229.5" y1="417.20" x2="230.2" y2="417.20" stroke="#000" stroke-width="0.35"/><line x1="229.5" y1="415.00" x2="230.2" y2="415.00" stroke="#000" stroke-width="0.35"/><line x1="229.5" y1="412.80" x2="230.2" y2="412.80" stroke="#000" stroke-width="0.35"/><line x1="229.5" y1="410.60" x2="230.2" y2="410.60" stroke="#000" stroke-width="0.35"/><line x1="229.5" y1="408.40" x2="230.2" y2="408.40" stroke="#000" stroke-width="0.35"/><line x1="229.5" y1="406.20" x2="230.2" y2="406.20" stroke="#000" stroke-width="0.35"/><line x1="229.5" y1="404.00" x2="230.2" y2="404.00" stroke="#000" stroke-width="0.35"/><line x1="229.5" y1="401.80" x2="230.2" y2="401.80" stroke="#000" stroke-width="0.35"/><line x1="229.5" y1="399.60" x2="230.2" y2="399.60" stroke="#000" stroke-width="0.35"/><line x1="229.5" y1="397.40" x2="230.2" y2="397.40" stroke="#000" stroke-width="0.35"/><line x1="229.5" y1="395.20" x2="230.2" y2="395.20" stroke="#000" stroke-width="0.35"/><line x1="229.5" y1="393.00" x2="230.2" y2="393.00" stroke="#000" stroke-width="0.35"/><line x1="229.5" y1="390.80" x2="230.2" y2="390.80" stroke="#000" stroke-width="0.35"/><line x1="229.5" y1="388.60" x2="230.2" y2="388.60" stroke="#000" stroke-width="0.35"/><line x1="229.5" y1="386.40" x2="230.2" y2="386.40" stroke="#000" stroke-width="0.35"/><line x1="229.5" y1="384.20" x2="230.2" y2="384.20" stroke="#000" stroke-width="0.35"/><line x1="229.5" y1="382.00" x2="230.2" y2="382.00" stroke="#000" stroke-width="0.35"/><line x1="229.5" y1="379.80" x2="230.2" y2="379.80" stroke="#000" stroke-width="0.35"/><line x1="229.5" y1="377.60" x2="230.2" y2="377.60" stroke="#000" stroke-width="0.35"/><line x1="229.5" y1="375.40" x2="230.2" y2="375.40" stroke="#000" stroke-width="0.35"/>
<text x="225.79999999999998" y="385.9" font-size="4.9" text-anchor="end" font-weight="normal" fill="#222" stroke="#222" stroke-width="0.12">3200</text>
<text x="225.79999999999998" y="397.3" font-size="4.9" text-anchor="end" font-weight="normal" fill="#222" stroke="#222" stroke-width="0.12">2400</text>
<text x="225.79999999999998" y="409.0" font-size="4.9" text-anchor="end" font-weight="normal" fill="#222" stroke="#222" stroke-width="0.12">1600</text>
<text x="225.79999999999998" y="420.5" font-size="4.9" text-anchor="end" font-weight="normal" fill="#222" stroke="#222" stroke-width="0.12">800</text>
<text x="225.79999999999998" y="432.09999999999997" font-size="4.9" text-anchor="end" font-weight="normal" fill="#222" stroke="#222" stroke-width="0.12">0</text>
<text x="230.2" y="438.9" font-size="4.9" text-anchor="middle" font-weight="normal" fill="#222" stroke="#222" stroke-width="0.12">0</text>
<text x="242.06" y="438.9" font-size="4.9" text-anchor="middle" font-weight="normal" fill="#222" stroke="#222" stroke-width="0.12">50</text>
<text x="253.92" y="438.9" font-size="4.9" text-anchor="middle" font-weight="normal" fill="#222" stroke="#222" stroke-width="0.12">100</text>
<text x="265.78" y="438.9" font-size="4.9" text-anchor="middle" font-weight="normal" fill="#222" stroke="#222" stroke-width="0.12">150</text>
<text x="277.64" y="438.9" font-size="4.9" text-anchor="middle" font-weight="normal" fill="#222" stroke="#222" stroke-width="0.12">200</text>
<text x="289.5" y="438.9" font-size="4.9" text-anchor="middle" font-weight="normal" fill="#222" stroke="#222" stroke-width="0.12">250</text>
<text x="260.73949999999996" y="448.09999999999997" font-size="7.2" text-anchor="middle" font-weight="normal" fill="#222" textLength="41" lengthAdjust="spacingAndGlyphs" stroke="#222" stroke-width="0.12">Channels (PE-A)</text>
<text x="0" y="0" font-size="7.0" text-anchor="middle" font-weight="normal" fill="#222" transform="translate(209.89999999999998,402.15) rotate(-90)" textLength="21.5" lengthAdjust="spacingAndGlyphs" stroke="#222" stroke-width="0.12">Number</text>
<rect x="252.1" y="376.7" width="3.7" height="3.7" fill="#a01029" stroke="#333" stroke-width="0.6"/>
<text x="0" y="0" font-size="4.8" text-anchor="start" font-weight="normal" fill="#222" transform="translate(257.59999999999997,380.0) scale(0.83,1)" stroke="#222" stroke-width="0.12">G1</text>
<text x="0" y="0" font-size="4.8" text-anchor="start" font-weight="normal" fill="#222" transform="translate(269.9,380.0) scale(0.83,1)" stroke="#222" stroke-width="0.12">54%</text>
<rect x="252.1" y="382.2" width="3.7" height="3.7" fill="#fff" stroke="#333" stroke-width="0.6"/>
<text x="0" y="0" font-size="4.8" text-anchor="start" font-weight="normal" fill="#222" transform="translate(260.79999999999995,385.5) scale(0.83,1)" stroke="#222" stroke-width="0.12">S</text>
<text x="0" y="0" font-size="4.8" text-anchor="start" font-weight="normal" fill="#222" transform="translate(269.9,385.5) scale(0.83,1)" stroke="#222" stroke-width="0.12">24%</text>
<rect x="252.1" y="387.7" width="3.7" height="3.7" fill="#a01029" stroke="#333" stroke-width="0.6"/>
<text x="0" y="0" font-size="4.8" text-anchor="start" font-weight="normal" fill="#222" transform="translate(257.59999999999997,391.0) scale(0.83,1)" stroke="#222" stroke-width="0.12">G2/M</text>
<text x="0" y="0" font-size="4.8" text-anchor="start" font-weight="normal" fill="#222" transform="translate(269.9,391.0) scale(0.83,1)" stroke="#222" stroke-width="0.12">22%</text>
<line x1="17.5" y1="289" x2="17.5" y2="430.2" stroke="#111" stroke-width="1.1"/>
<path d="M14.6,290.7 L17.5,283.9 L20.4,290.7 Z" fill="#111"/>
<text x="0" y="0" font-size="7.2" text-anchor="middle" font-weight="normal" fill="#1a1a1a" transform="translate(12.7,316.7) rotate(-90)" textLength="23.7" lengthAdjust="spacingAndGlyphs" stroke="#1a1a1a" stroke-width="0.12">BCBL-1</text>
<text x="0" y="0" font-size="7.2" text-anchor="middle" font-weight="normal" fill="#1a1a1a" transform="translate(12.7,403.1) rotate(-90)" textLength="20.1" lengthAdjust="spacingAndGlyphs" stroke="#1a1a1a" stroke-width="0.12">BCP-1</text>
<text x="0" y="0" font-size="6.8" text-anchor="middle" font-weight="normal" fill="#222" transform="translate(19.4,443) rotate(-90)" textLength="18.1" lengthAdjust="spacingAndGlyphs" stroke="#222" stroke-width="0.12">Counts</text>
<text x="49.5" y="458.2" font-size="6.4" text-anchor="start" font-weight="normal" fill="#222" stroke="#222" stroke-width="0.12">PI</text>
<line x1="57" y1="456" x2="284" y2="456" stroke="#1a1a1a" stroke-width="1.25"/>
<path d="M282,453.1 L289.3,455.95 L282,458.8 L283.6,455.95 Z" fill="#111"/>
<text x="76" y="467.2" font-size="7.2" text-anchor="middle" font-weight="normal" fill="#000" stroke="#000" stroke-width="0.12">Vehicle</text>
<text x="168.4" y="467.2" font-size="7.2" text-anchor="middle" font-weight="normal" fill="#000" stroke="#000" stroke-width="0.12">315</text>
<text x="261.5" y="467.2" font-size="7.2" text-anchor="middle" font-weight="normal" fill="#000" stroke="#000" stroke-width="0.12">403</text>
</svg></body></html>
